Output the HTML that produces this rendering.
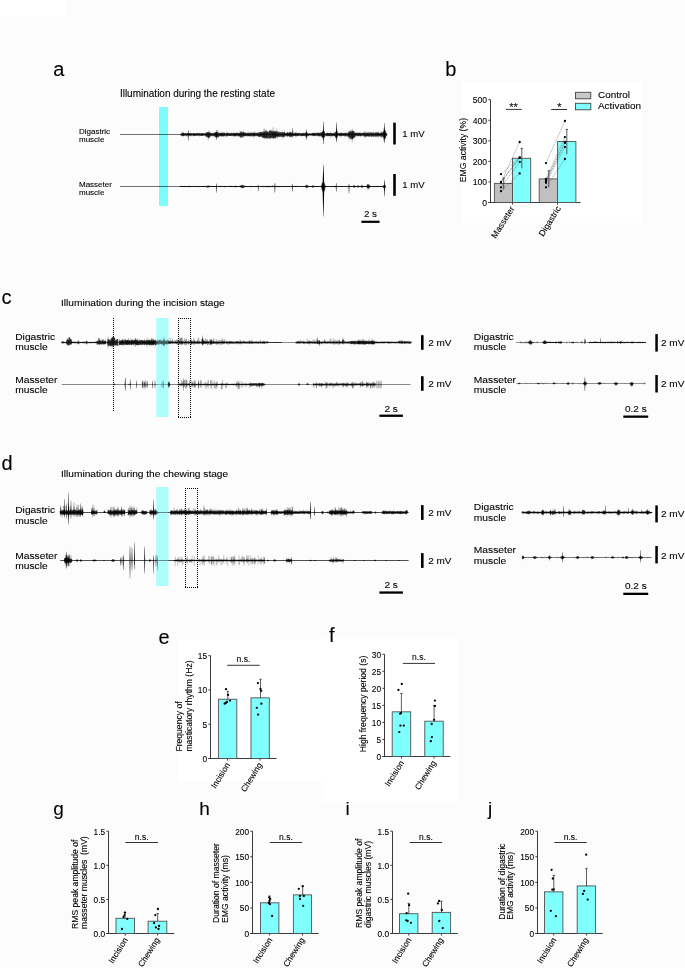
<!DOCTYPE html>
<html><head><meta charset="utf-8"><style>
html,body{margin:0;padding:0;background:#fcfcfc;}
svg{display:block;font-family:"Liberation Sans", sans-serif;}
text{stroke:#000;stroke-width:0.1px;paint-order:stroke;}
</style></head><body>
<svg width="685" height="968" viewBox="0 0 685 968">
<rect x="0" y="0" width="685" height="968" fill="#fcfcfc"/>
<rect x="0" y="0" width="66" height="16" fill="#ffffff"/>
<rect x="461.6" y="81.6" width="181" height="141.4" fill="#ffffff"/>
<rect x="177.8" y="639" width="146" height="143" fill="#ffffff"/>
<rect x="324" y="637.5" width="135" height="165" fill="#ffffff"/>
<text x="53.3" y="75.6" font-size="20" text-anchor="start" fill="#000" >a</text>
<text x="445.3" y="75.6" font-size="20" text-anchor="start" fill="#000" >b</text>
<text x="1.4" y="303.6" font-size="20" text-anchor="start" fill="#000" >c</text>
<text x="1.5" y="470.4" font-size="20" text-anchor="start" fill="#000" >d</text>
<text x="158.4" y="643.6" font-size="20" text-anchor="start" fill="#000" >e</text>
<text x="329" y="641.7" font-size="20" text-anchor="start" fill="#000" >f</text>
<text x="53.3" y="814.5" font-size="19" text-anchor="start" fill="#000" >g</text>
<text x="199.3" y="814.7" font-size="19" text-anchor="start" fill="#000" >h</text>
<text x="345.5" y="814.7" font-size="19" text-anchor="start" fill="#000" >i</text>
<text x="488" y="814.7" font-size="19" text-anchor="start" fill="#000" >j</text>
<text x="119.9" y="96.8" font-size="10" text-anchor="start" fill="#000" >Illumination during the resting state</text>
<text x="79" y="134" font-size="8" text-anchor="start" fill="#000" >Digastric</text>
<text x="79" y="142.3" font-size="8" text-anchor="start" fill="#000" >muscle</text>
<text x="79" y="187" font-size="8" text-anchor="start" fill="#000" >Masseter</text>
<text x="79" y="195.3" font-size="8" text-anchor="start" fill="#000" >muscle</text>
<line x1="120" y1="134.5" x2="387" y2="134.5" stroke="#111" stroke-width="0.6"/>
<path d="M180.58 133.84V135.04M182.50 131.84V136.26M183.78 132.84V136.17M185.71 133.36V136.63M186.02 132.54V135.77M186.69 132.70V135.76M187.64 132.76V136.97M188.29 133.14V136.98M189.60 133.24V135.83M189.87 132.73V135.87M190.22 132.92V136.56M190.87 132.91V136.82M193.61 132.99V136.89M193.92 133.06V136.34M195.25 133.23V136.09M196.63 133.16V135.82M197.31 132.57V135.76M199.11 132.20V136.92M199.38 133.13V135.84M201.62 132.54V136.13M202.00 132.92V136.17M203.20 133.14V136.21M208.20 131.69V140.58M208.80 130.85V139.39M209.16 131.34V137.64M209.52 130.27V138.67M211.06 132.05V136.43M213.07 132.62V136.63M215.18 132.05V136.68M215.49 132.17V138.46M215.76 132.06V137.93M217.26 129.73V137.67M217.96 129.81V138.90M218.64 131.62V137.19M220.10 132.38V136.40M221.39 132.66V136.67M221.66 131.80V136.93M222.30 131.53V136.39M223.35 132.44V136.78M224.35 132.84V137.02M225.98 132.66V137.44M227.38 131.98V137.22M233.71 132.85V137.81M236.72 132.44V136.51M239.36 132.35V136.59M240.03 130.15V138.33M241.01 131.26V137.73M243.26 130.05V137.61M243.56 131.70V137.87M245.76 132.47V136.72M248.61 131.24V137.66M249.64 132.41V136.21M249.98 132.76V136.65M250.63 131.67V136.31M251.67 132.47V136.45M252.97 131.41V136.46M253.33 132.60V137.82M253.99 132.46V136.71M254.32 132.55V136.23M254.92 131.17V137.38M257.61 132.08V136.47M260.10 131.82V137.33M260.40 131.82V137.12M262.00 131.61V137.62M262.98 130.82V137.79M263.99 128.79V139.13M264.27 128.36V139.56M264.64 129.27V138.18M266.19 129.58V139.02M271.10 129.15V138.53M272.43 127.42V138.51M273.08 130.63V139.89M273.77 127.45V138.52M275.99 131.13V138.95M276.26 128.26V138.10M277.22 129.54V137.48M277.85 131.63V138.58M282.08 130.56V138.41M282.73 131.94V139.49M284.30 129.77V137.95M286.56 132.49V136.53M287.22 132.27V136.73M287.49 132.64V136.36M287.84 131.98V136.68M288.10 132.30V137.14M289.60 130.71V136.79M290.18 132.16V138.00M290.45 132.08V136.88M292.06 131.25V138.04M293.01 132.27V137.47M293.63 132.48V135.97M295.63 131.42V136.12M295.92 132.78V137.28M296.22 131.44V136.91M298.08 132.81V136.16M301.98 132.58V137.51M303.64 131.99V136.12M304.32 133.09V135.92M304.67 132.85V136.31M305.25 133.11V136.46M305.63 132.37V136.22M306.23 132.15V138.86M307.48 132.92V137.60M308.45 133.26V135.79M308.73 133.38V136.61M311.76 133.40V135.73M317.24 132.42V136.99M322.59 130.90V138.29M327.30 132.19V136.13M330.13 132.84V137.65M330.85 131.27V137.74M333.44 132.38V136.27M334.35 131.69V136.23M335.04 131.29V136.52M336.75 129.28V140.92M339.77 132.85V136.26M340.44 131.89V136.16M342.88 132.87V136.12M344.61 132.50V137.36M344.96 132.77V136.19M345.58 132.88V136.20M345.93 132.22V136.54M346.29 132.79V136.56M346.95 132.81V136.72M348.13 130.74V138.26M349.12 131.52V141.52M349.38 131.16V138.83M350.37 130.55V139.42M351.95 129.73V140.81M352.22 128.18V143.17M352.48 129.61V140.33M354.34 130.74V139.05M356.04 132.11V136.95M356.68 132.25V136.83M357.95 132.88V136.28M358.27 131.64V136.21M359.20 132.41V136.74M360.44 131.76V137.03M362.08 132.88V136.82M363.00 133.41V135.91M363.34 133.18V136.17M363.99 131.20V136.87M364.61 130.69V138.33M365.52 131.77V138.13M366.40 130.88V136.87M367.48 132.52V136.48M368.37 131.47V136.67M371.69 131.88V137.52M375.22 132.18V137.80M377.06 132.50V137.98M377.70 130.68V136.58M378.41 132.15V137.37M378.70 130.84V136.52M380.59 131.25V136.63M381.23 132.37V137.87M381.53 132.42V138.17M381.90 130.78V137.74M382.25 131.58V137.42M383.58 128.12V141.14M384.12 127.55V141.58M385.67 131.23V139.36M385.96 132.01V136.97" stroke="#000" stroke-opacity="0.4" stroke-width="0.4"/>
<path d="M187.80 134.5L188.08 130.00L188.32 130.00L188.60 134.5L188.32 140.80L188.08 140.80ZM216.00 134.5L216.28 129.90L216.52 129.90L216.80 134.5L216.52 139.90L216.28 139.90ZM292.35 134.5L292.68 127.90L292.92 127.90L293.25 134.5L292.92 137.00L292.68 137.00ZM306.05 134.5L306.38 129.20L306.62 129.20L306.95 134.5L306.62 140.00L306.38 140.00ZM322.80 134.5L323.28 121.50L323.52 121.50L324.00 134.5L323.52 144.00L323.28 144.00ZM335.90 134.5L336.38 122.30L336.62 122.30L337.10 134.5L336.62 142.30L336.38 142.30ZM383.80 134.5L384.28 123.10L384.52 123.10L385.00 134.5L384.52 143.20L384.28 143.20Z" fill="#000"/>
<path d="M180.58 134.16V134.83M180.86 133.90V135.50M181.18 133.73V135.63M181.44 133.72V135.39M181.79 133.44V135.44M182.16 132.74V135.69M182.50 133.07V136.42M182.78 132.60V135.64M183.11 132.66V135.84M183.41 132.67V136.07M183.78 133.54V135.93M184.14 133.01V136.03M184.48 133.21V135.48M184.76 133.92V135.24M185.09 133.34V135.37M185.45 133.40V135.00M185.71 133.89V135.63M186.02 133.79V135.26M186.40 133.55V135.88M186.69 133.66V135.52M186.95 133.11V135.38M187.26 133.61V135.15M187.64 133.12V135.21M187.97 133.32V135.66M188.29 133.61V135.33M188.61 133.34V135.65M188.91 133.61V135.40M189.28 133.17V135.38M189.60 133.40V135.62M189.87 133.42V135.16M190.22 133.46V135.81M190.49 133.13V135.27M190.87 133.22V135.40M191.17 133.17V135.24M191.43 133.61V135.83M191.80 133.21V135.72M192.08 133.51V135.25M192.42 133.66V135.15M192.78 133.42V135.57M193.09 133.50V135.45M193.35 133.24V135.56M193.61 133.46V135.32M193.92 133.40V135.79M194.24 133.19V135.63M194.59 133.59V135.64M194.88 133.48V135.64M195.25 133.64V135.65M195.62 133.75V135.74M195.91 133.31V135.80M196.26 133.28V135.61M196.63 133.13V135.60M196.96 133.27V135.14M197.31 133.58V135.55M197.69 133.23V135.64M198.06 133.13V135.23M198.43 133.34V135.69M198.80 133.12V135.45M199.11 133.74V135.40M199.38 133.38V135.47M199.73 133.93V135.28M199.99 133.36V135.62M200.28 133.63V135.57M200.61 133.66V135.68M200.97 133.12V135.58M201.33 133.26V135.60M201.62 133.80V135.77M202.00 133.26V135.88M202.30 133.46V135.43M202.56 133.50V135.50M202.86 133.25V135.68M203.20 133.55V135.30M203.57 133.22V135.55M203.89 133.21V135.47M204.27 133.61V135.26M204.59 133.57V135.07M204.90 133.53V135.81M205.25 133.36V135.78M205.60 133.19V136.16M205.91 132.93V136.50M206.27 132.40V137.04M206.60 132.84V136.44M206.97 132.39V136.35M207.29 132.41V136.14M207.64 132.42V136.99M207.90 132.26V138.20M208.20 131.97V137.53M208.49 133.10V137.92M208.80 132.36V137.63M209.16 132.87V137.22M209.52 132.22V136.50M209.88 133.57V137.07M210.18 133.20V136.56M210.46 133.04V135.55M210.77 132.78V136.14M211.06 133.13V135.49M211.41 133.43V136.13M211.71 133.60V135.80M211.97 133.50V135.37M212.34 133.46V135.34M212.70 132.73V136.03M213.07 133.58V136.11M213.37 133.52V135.61M213.69 133.08V135.59M213.99 133.07V136.32M214.25 132.88V136.27M214.55 133.02V136.33M214.92 132.57V135.67M215.18 133.24V136.48M215.49 132.13V136.96M215.76 132.84V135.88M216.11 132.09V137.14M216.41 132.11V137.39M216.70 133.12V137.39M217.00 132.10V136.83M217.26 132.53V136.58M217.61 131.98V137.06M217.96 132.81V137.30M218.32 133.28V135.80M218.64 132.83V136.98M218.91 132.91V136.48M219.17 132.90V135.53M219.44 133.67V135.79M219.73 133.57V136.21M220.10 133.36V135.83M220.40 132.89V136.36M220.67 133.01V135.86M221.02 132.85V136.12M221.39 132.85V135.69M221.66 133.32V135.99M221.95 133.37V135.76M222.30 133.16V135.94M222.60 133.65V136.38M222.97 132.76V136.37M223.35 132.77V136.21M223.73 132.89V136.12M224.03 132.75V136.06M224.35 132.72V135.95M224.68 132.78V135.56M225.03 133.68V135.44M225.32 133.60V135.65M225.64 133.64V135.40M225.98 133.51V136.27M226.33 133.39V136.30M226.69 132.79V135.84M227.02 132.75V136.21M227.38 132.70V135.64M227.70 133.17V135.81M228.06 133.08V135.35M228.37 133.49V135.69M228.63 133.58V135.70M228.98 132.73V135.96M229.31 133.13V135.96M229.69 133.25V136.05M229.98 133.15V136.00M230.36 133.53V136.05M230.71 133.10V135.77M231.09 132.79V136.09M231.46 132.83V135.79M231.82 133.29V136.17M232.12 133.20V135.46M232.43 133.74V135.54M232.79 133.07V135.68M233.08 133.15V136.16M233.39 132.90V135.90M233.71 132.72V136.13M234.00 133.72V135.64M234.38 133.26V136.14M234.64 133.05V136.40M234.97 133.32V136.35M235.24 133.11V135.83M235.51 133.41V135.67M235.87 132.82V136.20M236.13 133.27V136.09M236.45 132.78V135.46M236.72 133.28V136.31M237.09 132.71V135.68M237.46 133.12V135.59M237.76 133.17V135.29M238.10 132.76V136.37M238.43 133.22V136.18M238.71 133.40V136.12M238.99 133.49V135.98M239.36 132.95V136.23M239.71 133.03V135.97M240.03 132.72V136.80M240.35 133.12V136.53M240.69 131.58V137.71M241.01 132.31V136.34M241.33 131.52V137.38M241.62 132.48V137.44M241.93 133.03V136.12M242.26 132.77V136.70M242.65 132.21V137.46M242.90 132.29V136.39M243.26 131.77V136.03M243.56 132.64V135.97M243.93 132.24V136.23M244.22 132.63V136.19M244.52 132.54V136.38M244.86 132.85V135.79M245.19 133.06V135.98M245.50 132.69V136.05M245.76 133.08V135.54M246.05 133.34V135.95M246.36 133.55V135.78M246.68 133.04V136.26M247.03 133.67V135.70M247.30 132.68V135.50M247.59 132.75V136.26M247.96 133.48V136.26M248.27 133.53V136.02M248.61 132.79V136.02M248.95 133.21V135.98M249.26 132.81V136.02M249.64 133.18V136.02M249.98 133.74V135.35M250.29 133.34V136.39M250.63 132.78V136.23M250.95 133.24V135.52M251.33 133.29V136.29M251.67 132.60V136.19M251.96 132.77V135.85M252.30 133.07V135.37M252.67 133.46V136.06M252.97 132.87V136.38M253.33 133.46V136.13M253.67 132.80V135.87M253.99 132.81V136.14M254.32 132.67V136.25M254.58 133.60V135.55M254.92 132.79V135.68M255.30 133.69V135.80M255.65 132.68V135.95M255.90 132.78V136.38M256.24 133.26V135.62M256.62 132.64V135.54M256.94 133.16V136.21M257.29 132.88V136.11M257.61 133.37V136.19M257.94 132.94V135.89M258.23 133.95V135.79M258.52 132.55V136.73M258.87 132.71V136.64M259.19 132.54V136.02M259.49 132.92V137.05M259.77 132.31V137.09M260.10 132.07V136.32M260.40 132.47V135.99M260.75 132.36V136.08M261.12 132.30V136.67M261.40 132.22V135.84M261.67 131.96V136.47M262.00 132.93V136.82M262.29 131.89V137.62M262.65 132.60V137.29M262.98 132.86V137.58M263.34 131.73V137.31M263.63 132.85V137.77M263.99 130.91V137.49M264.27 132.36V137.31M264.64 131.89V138.20M264.89 132.51V136.71M265.20 131.58V137.70M265.53 131.12V138.39M265.90 130.45V138.15M266.19 132.44V138.32M266.45 132.08V138.35M266.83 130.42V136.59M267.09 131.48V137.57M267.42 132.07V137.76M267.70 131.59V138.62M268.06 132.44V138.71M268.42 132.06V136.85M268.71 132.50V137.82M269.08 131.43V138.97M269.44 130.80V137.58M269.76 130.14V137.98M270.07 131.33V138.07M270.35 130.93V138.67M270.71 130.48V138.49M271.10 130.49V138.01M271.47 131.60V137.48M271.81 131.01V137.76M272.17 131.36V137.77M272.43 132.15V137.31M272.70 131.73V137.75M273.08 130.53V137.94M273.44 131.93V138.67M273.77 131.13V136.48M274.04 131.95V138.07M274.32 132.00V137.49M274.62 130.74V138.46M274.88 131.98V138.31M275.15 131.73V137.10M275.41 132.06V137.85M275.68 131.52V137.63M275.99 130.87V136.57M276.26 132.31V136.53M276.64 131.49V136.52M276.89 131.12V135.99M277.22 133.13V137.42M277.54 132.67V136.49M277.85 132.39V137.05M278.14 131.62V136.59M278.40 133.27V135.94M278.74 131.76V136.48M279.04 133.17V136.46M279.40 131.76V137.07M279.73 132.41V136.55M280.06 131.89V136.51M280.42 132.15V136.62M280.78 132.25V136.19M281.11 133.24V136.52M281.40 132.50V136.88M281.74 132.23V136.40M282.08 132.64V137.00M282.38 133.32V136.33M282.73 131.88V136.10M283.07 133.05V136.87M283.40 132.86V137.25M283.68 132.02V136.59M283.99 132.75V136.46M284.30 131.88V135.83M284.64 132.22V136.16M284.92 133.01V137.29M285.29 133.77V136.04M285.61 132.99V135.29M285.94 132.81V135.85M286.27 133.08V135.62M286.56 133.75V135.64M286.93 132.89V136.12M287.22 133.18V135.65M287.49 132.51V136.54M287.84 132.48V135.52M288.10 133.57V135.79M288.39 133.14V135.83M288.67 132.66V136.21M288.98 133.48V135.85M289.33 133.07V135.86M289.60 132.26V136.84M289.86 132.95V136.14M290.18 132.26V136.58M290.45 132.07V136.76M290.76 133.03V135.58M291.04 132.90V136.24M291.38 132.59V136.71M291.69 133.13V136.61M292.06 132.73V135.61M292.39 132.48V136.53M292.69 133.06V135.82M293.01 133.71V135.47M293.35 133.59V135.74M293.63 133.74V135.78M293.99 133.62V135.48M294.36 132.77V136.16M294.63 133.50V135.87M294.98 133.49V135.69M295.30 132.81V136.18M295.63 133.00V135.68M295.92 133.05V136.27M296.22 133.26V135.70M296.48 133.61V135.44M296.85 133.55V135.55M297.17 132.79V135.88M297.49 133.23V136.19M297.81 133.15V135.69M298.08 133.48V136.09M298.38 133.68V135.70M298.72 132.82V135.37M299.00 133.32V135.91M299.35 132.71V135.26M299.66 133.70V135.32M299.99 133.56V135.35M300.34 133.09V136.30M300.71 133.09V135.82M300.98 133.66V135.99M301.23 133.51V135.66M301.60 133.42V135.64M301.98 133.37V135.97M302.26 133.31V135.99M302.59 133.05V136.01M302.89 133.26V135.86M303.26 133.27V135.79M303.64 133.43V136.06M303.96 133.09V136.03M304.32 133.57V135.39M304.67 133.85V135.45M304.98 133.49V135.50M305.25 133.37V135.35M305.63 133.01V136.38M305.91 132.40V135.53M306.23 132.07V136.94M306.53 133.12V136.89M306.83 132.63V136.20M307.15 133.32V136.25M307.48 132.93V135.58M307.76 133.63V135.56M308.09 133.65V135.59M308.45 133.95V135.53M308.73 133.64V135.61M309.05 133.68V135.65M309.32 133.54V135.16M309.65 133.42V135.06M309.94 133.39V135.35M310.21 133.95V135.37M310.52 133.60V135.15M310.83 133.37V135.55M311.11 133.87V135.68M311.39 133.41V135.19M311.76 133.90V135.10M312.06 133.39V135.26M312.37 132.93V135.64M312.67 132.92V135.49M312.98 133.20V135.88M313.28 132.85V136.26M313.61 132.95V135.65M313.93 133.18V135.73M314.21 133.43V135.52M314.50 132.89V136.22M314.80 132.75V135.68M315.13 133.00V135.75M315.50 133.38V135.55M315.84 133.00V135.49M316.21 132.73V135.94M316.58 133.46V135.34M316.88 132.96V135.63M317.24 133.62V135.75M317.62 132.80V135.52M317.95 132.80V136.27M318.33 133.23V135.69M318.60 132.23V135.68M318.87 133.27V136.04M319.22 132.94V135.77M319.50 133.04V136.34M319.87 133.28V136.41M320.15 132.84V135.81M320.45 133.34V136.31M320.82 132.41V135.89M321.07 132.47V135.57M321.35 132.41V136.60M321.62 132.96V135.62M322.01 132.24V136.97M322.28 132.13V136.82M322.59 131.83V137.58M322.85 130.94V137.57M323.18 132.46V138.56M323.43 131.33V138.53M323.80 130.79V138.13M324.16 131.30V136.33M324.50 131.81V137.31M324.86 132.82V136.82M325.14 133.59V135.60M325.46 133.98V135.06M325.84 133.65V135.37M326.11 133.12V136.01M326.44 133.12V135.75M326.77 133.18V136.06M327.03 133.07V136.18M327.30 133.60V136.22M327.62 132.78V135.56M327.96 133.09V135.90M328.22 133.07V135.61M328.53 133.40V136.30M328.91 133.18V135.87M329.19 132.96V135.80M329.47 133.15V135.99M329.81 133.25V136.02M330.13 133.03V135.64M330.50 132.85V135.59M330.85 133.12V135.64M331.22 133.21V136.06M331.54 133.58V136.28M331.90 133.04V135.34M332.16 133.41V136.27M332.48 133.59V136.02M332.82 132.98V136.24M333.16 133.13V135.93M333.44 133.67V135.41M333.79 133.53V135.46M334.06 133.31V136.02M334.35 133.56V135.92M334.72 133.73V135.95M335.04 132.91V136.53M335.38 131.79V136.59M335.68 132.22V137.80M336.04 132.26V138.22M336.40 131.94V136.80M336.75 130.59V137.49M337.11 133.01V136.85M337.45 131.25V137.59M337.80 132.73V135.65M338.11 132.76V135.46M338.45 133.37V135.52M338.77 133.91V135.21M339.05 133.30V135.98M339.42 133.23V135.89M339.77 133.04V136.25M340.11 133.03V135.52M340.44 133.41V136.15M340.79 132.89V136.25M341.05 133.00V136.22M341.36 132.92V135.61M341.67 132.73V135.28M341.94 132.91V136.27M342.30 133.44V135.28M342.61 133.63V136.01M342.88 133.05V135.68M343.17 133.36V135.88M343.54 132.83V135.48M343.91 133.42V135.94M344.25 132.97V135.64M344.61 133.34V135.63M344.96 133.55V135.57M345.24 133.11V136.23M345.58 133.35V136.22M345.93 132.97V135.64M346.29 133.21V135.37M346.64 133.10V135.25M346.95 133.12V135.51M347.33 133.73V135.60M347.59 133.82V136.40M347.85 133.57V136.34M348.13 132.35V136.19M348.48 132.27V136.01M348.74 132.80V137.29M349.12 133.16V136.72M349.38 131.86V137.04M349.71 131.06V138.15M350.00 132.39V138.17M350.37 132.22V136.75M350.68 130.65V139.13M351.04 130.58V137.05M351.31 131.59V138.25M351.57 132.14V139.20M351.95 132.71V138.77M352.22 132.50V138.45M352.48 130.86V139.37M352.76 130.92V138.52M353.14 130.80V138.58M353.40 132.16V137.94M353.70 131.42V138.00M354.02 131.45V137.22M354.34 132.58V137.51M354.70 133.32V136.77M354.97 132.57V137.22M355.32 132.75V136.15M355.69 132.99V135.61M356.04 132.84V135.43M356.39 133.17V135.72M356.68 133.38V135.28M356.97 132.93V135.48M357.30 132.90V135.79M357.62 133.00V136.15M357.95 132.76V135.29M358.27 133.05V136.01M358.65 133.32V136.16M358.91 133.15V135.73M359.20 133.27V135.49M359.47 132.84V135.54M359.82 132.72V135.78M360.15 132.95V135.75M360.44 133.33V136.24M360.72 133.23V136.16M361.04 133.16V135.48M361.39 133.38V135.68M361.76 133.11V135.62M362.08 132.80V136.04M362.37 132.81V135.47M362.73 133.42V135.26M363.00 133.86V135.32M363.34 133.43V135.05M363.62 132.75V135.61M363.99 132.37V136.00M364.29 132.95V136.38M364.61 133.16V135.67M364.87 132.75V136.67M365.25 133.34V136.39M365.52 133.25V136.64M365.87 132.55V135.88M366.14 132.99V136.12M366.40 133.45V135.97M366.73 132.95V136.55M367.10 133.44V136.27M367.48 132.79V136.10M367.77 132.60V136.02M368.06 132.33V136.62M368.37 133.40V136.01M368.71 133.55V136.38M369.00 132.55V136.55M369.35 132.94V136.24M369.64 132.42V136.47M370.00 133.50V136.50M370.34 132.68V136.04M370.71 132.31V135.43M371.06 132.75V136.44M371.37 133.52V136.62M371.69 132.73V136.51M372.02 132.32V135.82M372.38 133.00V136.64M372.65 133.30V136.01M373.03 132.41V136.33M373.36 132.74V136.65M373.67 132.59V136.49M373.95 132.70V135.84M374.24 133.59V135.62M374.59 133.40V136.64M374.95 133.52V135.55M375.22 133.52V136.32M375.49 132.47V136.60M375.82 132.49V135.68M376.19 132.44V135.70M376.50 132.85V136.48M376.80 132.45V136.63M377.06 133.57V136.23M377.32 133.14V135.89M377.70 132.53V136.09M378.04 132.54V136.15M378.41 133.03V136.38M378.70 133.02V136.44M378.99 132.73V135.79M379.29 133.37V136.34M379.63 133.39V135.51M379.95 133.26V135.76M380.23 133.05V136.56M380.59 133.35V136.45M380.87 132.95V135.66M381.23 132.67V136.48M381.53 132.57V136.22M381.90 132.75V135.43M382.25 133.17V136.60M382.55 132.50V135.73M382.93 132.70V136.29M383.23 131.66V137.53M383.58 131.86V137.35M383.86 131.07V137.59M384.12 130.58V139.30M384.45 129.87V138.01M384.71 131.89V138.38M385.03 130.06V137.90M385.39 130.66V138.30M385.67 132.39V137.09M385.96 132.45V136.07M386.25 133.57V135.91M386.57 133.77V135.25M386.87 133.86V135.32" stroke="#000" stroke-width="0.5"/>
<line x1="120" y1="186.5" x2="386" y2="186.5" stroke="#111" stroke-width="0.6"/>
<path d="M180.36 186.05V187.24M180.95 185.84V186.95M181.25 185.96V187.03M181.57 186.01V187.01M181.94 185.90V187.02M182.26 186.04V186.95M184.75 185.97V186.95M185.63 185.92V187.36M188.19 185.88V187.02M188.53 185.95V187.18M188.90 185.65V187.19M189.23 185.75V187.21M189.51 185.76V186.96M190.16 186.05V187.06M191.13 185.80V187.23M194.53 185.75V187.01M195.78 185.84V187.01M198.52 186.05V187.01M199.44 186.00V187.34M200.02 186.02V187.12M200.32 186.04V187.28M202.59 185.65V187.16M203.22 186.04V187.15M203.49 185.69V186.98M204.40 185.94V186.96M204.67 186.03V187.01M205.32 185.75V187.13M206.97 185.64V187.61M207.99 185.59V187.76M208.68 185.12V187.73M210.81 185.95V186.97M211.12 185.89V187.28M212.05 186.01V187.00M213.50 186.01V187.37M214.21 186.03V186.95M216.39 186.05V187.05M216.99 185.91V186.95M217.98 185.77V187.01M221.19 185.98V187.06M221.81 185.97V187.05M222.76 185.99V186.95M227.04 185.85V187.14M229.53 185.94V187.18M231.12 185.73V187.38M232.33 185.83V187.33M232.69 186.03V187.17M232.95 186.03V187.02M234.85 185.81V187.10M235.19 185.51V187.93M235.82 185.67V186.95M236.77 185.91V186.95M237.72 185.87V187.37M241.96 185.00V188.10M242.59 183.75V189.17M242.95 184.98V188.14M246.01 186.03V187.25M246.72 186.05V187.25M249.55 185.99V187.38M249.86 186.00V187.03M250.15 185.83V186.99M250.85 185.99V187.38M251.56 186.05V186.97M252.17 185.90V187.34M253.25 186.02V186.98M254.81 186.03V186.99M256.57 185.87V186.96M256.89 186.03V187.01M257.82 186.04V186.99M258.18 185.73V186.95M265.62 185.87V186.95M266.80 186.02V187.25M267.49 185.98V187.08M267.83 185.95V187.26M268.11 185.58V187.22M269.05 185.90V187.36M269.40 185.89V186.97M272.01 186.04V187.14M272.59 185.35V187.36M274.75 185.94V187.08M275.34 185.75V187.37M275.68 185.85V187.24M276.34 185.77V187.10M276.95 186.01V186.98M277.64 185.92V187.25M279.14 186.05V186.97M279.52 186.03V187.35M280.75 185.97V187.08M283.08 185.92V187.19M283.46 186.05V187.09M284.73 185.85V187.04M287.15 185.97V187.03M290.71 186.05V187.03M291.37 185.78V186.99M291.92 185.81V187.21M292.53 185.84V187.04M293.43 185.98V187.12M295.10 185.75V187.03M295.37 185.67V187.01M295.71 186.02V186.96M295.97 185.70V186.99M296.25 185.94V187.04M297.09 185.67V186.99M299.72 185.78V187.14M306.18 184.48V188.24M306.48 184.70V189.10M309.92 185.90V186.96M310.59 185.91V187.20M311.54 185.79V187.10M313.12 184.57V187.96M314.49 185.90V187.02M314.83 186.01V187.03M316.18 185.84V186.96M317.05 185.73V187.20M318.70 185.96V187.01M320.35 185.95V187.18M320.97 185.97V187.39M321.95 183.53V189.59M322.74 182.07V191.57M323.32 182.00V192.70M324.69 183.23V191.28M328.03 186.05V187.18M331.74 185.93V187.34M332.36 185.90V186.95M333.29 185.68V186.98M334.94 185.98V187.30M335.26 185.95V187.32M335.62 186.04V187.38M339.60 186.04V187.31M341.51 185.73V186.96M348.39 186.00V187.02M349.68 185.95V186.97M351.00 185.86V187.01M351.67 186.04V187.02M351.97 186.01V187.25M353.25 185.81V187.18M354.52 185.45V187.65M354.89 185.68V187.53M356.66 186.02V187.28M356.98 186.02V186.95M357.27 185.81V187.15M357.65 185.62V187.34M358.03 185.41V187.94M358.35 185.37V187.62M358.73 185.67V187.41M359.60 185.99V186.95M360.96 185.66V187.06M361.59 184.56V187.49M363.22 186.05V187.06M363.54 186.03V187.22M364.48 185.67V186.97M365.68 186.05V186.95M366.28 185.96V186.95M367.27 184.46V189.46M368.13 184.25V190.39M370.64 185.87V186.95M371.58 185.78V186.98M373.19 186.04V187.20M374.16 185.79V187.36M374.82 186.04V186.97M376.57 185.90V187.14M377.20 185.79V187.04M377.51 185.65V187.33M378.43 185.83V187.12M380.05 186.05V186.96M381.91 185.78V187.25M382.28 186.05V187.06M382.66 185.78V187.01M383.64 185.08V188.23M385.71 185.65V187.36" stroke="#000" stroke-opacity="0.4" stroke-width="0.4"/>
<path d="M216.00 186.5L216.28 183.50L216.52 183.50L216.80 186.5L216.52 192.80L216.28 192.80ZM257.80 186.5L258.08 184.70L258.32 184.70L258.60 186.5L258.32 191.30L258.08 191.30ZM274.45 186.5L274.78 183.10L275.02 183.10L275.35 186.5L275.02 192.70L274.78 192.70ZM292.10 186.5L292.38 183.70L292.62 183.70L292.90 186.5L292.62 191.70L292.38 191.70ZM322.50 186.5L323.28 164.50L323.52 164.50L324.30 186.5L323.52 216.50L323.28 216.50ZM335.80 186.5L336.08 182.90L336.32 182.90L336.60 186.5L336.32 191.70L336.08 191.70ZM348.55 186.5L348.88 183.70L349.12 183.70L349.45 186.5L349.12 193.50L348.88 193.50ZM383.85 186.5L384.28 179.70L384.52 179.70L384.95 186.5L384.52 196.50L384.28 196.50Z" fill="#000"/>
<path d="M180.09 186.15V186.88M180.36 186.15V186.88M180.66 186.12V186.98M180.95 186.00V186.84M181.25 186.04V186.92M181.57 186.21V186.90M181.94 186.26V186.94M182.26 186.06V186.84M182.62 186.09V186.99M182.88 186.09V186.95M183.20 186.17V186.86M183.49 186.12V186.87M183.85 186.02V186.96M184.14 186.13V186.80M184.48 186.02V186.90M184.75 186.17V187.00M185.01 186.03V187.00M185.29 186.19V186.79M185.63 186.14V186.88M185.98 186.25V186.88M186.27 186.03V186.86M186.58 186.00V186.95M186.85 186.14V186.72M187.22 186.22V186.88M187.53 186.07V186.98M187.85 186.01V186.82M188.19 186.06V186.96M188.53 186.01V186.91M188.90 186.09V186.95M189.23 186.02V186.97M189.51 186.06V186.90M189.85 186.15V186.80M190.16 186.22V186.99M190.53 186.09V186.94M190.87 186.17V186.80M191.13 186.26V186.94M191.43 186.08V186.95M191.71 186.23V186.84M192.00 186.29V186.89M192.30 186.12V186.84M192.67 186.18V186.91M193.00 186.02V186.74M193.29 186.09V186.95M193.60 186.04V186.74M193.90 186.12V186.96M194.24 186.18V186.79M194.53 186.19V186.99M194.83 186.18V186.74M195.11 186.14V186.81M195.48 186.14V186.91M195.78 186.25V186.80M196.08 186.05V186.79M196.42 186.16V186.96M196.79 186.02V186.87M197.16 186.06V186.94M197.54 186.06V186.99M197.87 186.08V186.83M198.15 186.01V186.83M198.52 186.22V186.99M198.83 186.02V186.97M199.14 186.12V186.79M199.44 186.19V186.91M199.71 186.24V186.78M200.02 186.20V186.83M200.32 186.16V186.94M200.63 186.05V186.76M201.00 186.17V186.94M201.30 186.00V186.84M201.64 186.18V186.96M201.97 186.12V187.00M202.33 186.14V186.85M202.59 186.25V187.00M202.97 186.26V186.82M203.22 186.25V186.83M203.49 186.01V186.91M203.81 186.11V186.76M204.07 186.22V186.98M204.40 186.08V186.97M204.67 186.25V186.79M205.00 186.03V186.98M205.32 186.02V186.77M205.61 186.16V186.81M205.92 186.08V187.05M206.25 185.97V186.95M206.63 186.00V187.22M206.97 186.10V187.21M207.31 185.71V187.35M207.62 186.05V187.38M207.99 185.71V186.94M208.31 185.96V187.45M208.68 185.84V187.07M208.97 185.69V187.16M209.28 185.85V187.04M209.56 185.94V186.90M209.84 186.15V186.91M210.16 186.02V186.78M210.51 186.05V186.86M210.81 186.14V186.80M211.12 186.11V186.82M211.41 186.10V186.91M211.75 186.18V186.79M212.05 186.29V186.97M212.33 186.07V186.83M212.64 186.04V186.71M212.92 186.23V186.90M213.18 186.10V186.98M213.50 186.05V186.98M213.87 186.22V186.93M214.21 186.07V186.88M214.55 186.24V186.91M214.86 186.01V186.84M215.16 186.21V186.79M215.52 186.26V186.99M215.79 186.07V186.84M216.06 186.12V186.88M216.39 186.07V186.93M216.66 186.24V186.82M216.99 186.09V186.99M217.34 186.15V186.76M217.68 186.14V186.99M217.98 186.02V186.90M218.35 186.09V186.95M218.67 186.01V186.72M219.04 186.29V186.92M219.39 186.03V186.74M219.72 186.15V186.85M220.00 186.23V186.97M220.36 185.70V187.10M220.62 186.03V187.20M220.93 186.02V186.75M221.19 186.21V186.78M221.48 186.09V186.73M221.81 186.15V186.98M222.11 186.01V186.89M222.42 186.15V186.99M222.76 186.23V186.90M223.11 186.01V186.91M223.40 186.14V186.86M223.69 186.21V186.94M224.05 186.09V186.72M224.41 185.90V186.97M224.76 185.93V187.32M225.12 186.01V187.07M225.44 186.14V186.99M225.75 186.13V186.98M226.09 186.01V186.75M226.43 186.14V186.99M226.74 186.10V186.94M227.04 186.05V186.83M227.35 186.13V187.00M227.65 186.02V186.89M227.99 186.05V186.97M228.33 186.16V186.72M228.60 186.01V186.83M228.95 186.22V186.96M229.22 186.10V186.84M229.53 186.25V186.71M229.80 186.18V186.87M230.18 185.77V187.14M230.46 185.74V187.01M230.82 186.05V187.00M231.12 186.13V186.89M231.39 186.20V186.95M231.68 186.10V186.80M232.01 186.12V186.77M232.33 186.17V186.78M232.69 186.10V186.95M232.95 186.26V186.95M233.31 186.29V186.97M233.64 186.14V186.76M233.92 186.05V186.97M234.30 186.27V186.76M234.56 186.05V186.88M234.85 186.22V187.12M235.19 185.79V187.06M235.46 186.07V187.10M235.82 186.09V186.96M236.09 186.25V186.94M236.47 186.01V186.99M236.77 186.01V186.93M237.03 186.09V186.93M237.38 186.24V186.94M237.72 186.13V186.81M237.99 186.04V186.98M238.36 186.23V186.81M238.72 186.12V186.74M239.05 186.05V186.79M239.32 186.22V186.85M239.66 185.87V186.95M240.00 185.90V187.00M240.34 186.01V187.43M240.65 185.40V187.22M240.98 185.19V187.16M241.32 185.69V187.73M241.67 185.32V187.49M241.96 185.36V187.60M242.26 185.25V187.90M242.59 185.46V187.43M242.95 185.66V187.32M243.21 185.45V187.76M243.49 185.93V187.77M243.79 185.80V187.30M244.07 185.80V187.40M244.37 185.77V187.27M244.72 185.67V186.96M245.02 186.00V186.98M245.32 186.26V186.71M245.68 186.14V186.74M246.01 186.14V186.91M246.36 186.00V186.85M246.72 186.13V186.97M247.00 186.12V186.93M247.28 186.05V186.72M247.65 186.12V186.82M248.00 186.05V186.97M248.33 186.04V186.87M248.62 186.20V186.72M248.93 186.02V186.73M249.21 186.18V186.81M249.55 186.14V186.78M249.86 186.08V186.97M250.15 186.16V186.92M250.49 186.23V186.95M250.85 186.01V186.89M251.19 186.06V186.87M251.56 186.10V186.90M251.91 186.04V186.94M252.17 186.28V186.80M252.54 186.25V186.92M252.88 186.15V186.79M253.25 186.07V186.88M253.54 186.21V186.92M253.82 186.02V186.70M254.15 186.09V186.81M254.52 186.22V186.76M254.81 186.25V186.87M255.07 186.04V186.89M255.37 186.06V186.99M255.63 186.18V186.74M255.97 186.10V186.83M256.30 186.00V186.85M256.57 186.12V186.91M256.89 186.10V186.87M257.23 186.15V186.78M257.52 186.24V186.90M257.82 186.30V186.98M258.18 186.02V186.94M258.45 186.25V186.89M258.78 186.01V186.94M259.06 186.02V186.98M259.33 186.07V186.88M259.62 186.06V186.95M259.91 186.07V186.74M260.17 186.29V186.75M260.56 186.14V186.91M260.92 186.01V186.96M261.18 186.03V186.81M261.55 186.05V186.97M261.91 185.79V187.26M262.25 186.03V186.84M262.54 186.03V186.86M262.88 186.18V186.95M263.19 186.07V186.92M263.55 185.94V186.93M263.92 186.05V187.31M264.23 186.18V186.89M264.60 186.00V186.94M264.96 186.23V186.92M265.31 186.19V186.93M265.62 186.07V186.92M265.91 185.78V187.25M266.26 186.04V187.11M266.53 186.13V186.91M266.80 186.19V186.70M267.17 186.21V186.87M267.49 186.01V186.99M267.83 186.12V186.96M268.11 186.07V187.13M268.39 185.91V187.31M268.72 186.07V186.87M269.05 186.09V186.73M269.40 186.27V186.95M269.66 186.06V186.87M270.01 186.10V186.85M270.33 186.01V186.99M270.63 185.77V187.22M270.99 186.18V186.70M271.34 186.06V186.98M271.65 186.10V186.97M272.01 186.01V186.80M272.29 185.97V186.77M272.59 185.66V187.07M272.97 185.86V186.92M273.29 186.06V186.80M273.62 186.10V186.89M273.92 186.16V187.00M274.19 186.16V186.94M274.46 186.15V186.86M274.75 186.02V186.95M275.08 186.03V186.78M275.34 186.04V186.80M275.68 186.05V186.84M275.97 186.16V186.81M276.34 186.29V186.71M276.69 186.08V186.97M276.95 186.25V186.85M277.33 186.01V186.92M277.64 186.26V186.86M277.95 186.07V186.95M278.26 186.21V186.97M278.55 186.08V186.97M278.85 186.20V186.80M279.14 186.02V186.91M279.52 186.17V186.95M279.78 186.13V186.88M280.14 186.04V186.79M280.45 186.13V186.91M280.75 186.01V186.86M281.03 186.03V186.90M281.33 186.24V186.81M281.67 186.08V186.72M282.01 186.08V186.88M282.39 186.11V186.85M282.75 186.08V186.94M283.08 186.21V186.89M283.46 186.13V186.97M283.76 186.16V186.90M284.12 186.18V186.89M284.47 186.10V186.86M284.73 186.05V186.77M285.03 186.26V186.73M285.29 186.08V186.78M285.60 186.07V186.96M285.89 186.24V186.89M286.24 186.21V186.92M286.53 186.22V186.94M286.85 186.04V186.72M287.15 186.20V186.96M287.43 186.18V186.70M287.76 186.00V186.99M288.14 186.25V186.77M288.49 186.10V186.72M288.80 186.16V186.94M289.07 186.14V186.92M289.41 186.01V186.94M289.77 186.10V186.90M290.13 186.07V186.86M290.44 186.06V186.98M290.71 186.02V186.79M291.02 186.04V186.77M291.37 186.28V186.85M291.65 186.25V186.79M291.92 186.28V186.80M292.24 186.18V186.72M292.53 186.11V187.00M292.85 186.15V186.93M293.11 186.04V186.80M293.43 186.10V186.94M293.75 186.20V186.95M294.09 186.12V186.77M294.44 186.18V186.85M294.74 186.10V186.81M295.10 186.18V186.73M295.37 186.27V186.95M295.71 186.17V186.91M295.97 186.11V187.00M296.25 186.28V186.83M296.53 186.03V186.89M296.81 186.07V186.92M297.09 186.01V186.86M297.46 186.21V186.74M297.79 186.08V186.91M298.14 186.12V186.76M298.45 186.12V186.77M298.74 186.08V186.71M299.04 186.03V186.76M299.40 186.15V186.99M299.72 186.18V186.81M300.08 186.13V186.78M300.46 186.11V186.80M300.83 186.04V186.91M301.09 186.24V186.71M301.40 186.29V186.96M301.75 186.01V186.94M302.09 186.12V186.94M302.39 186.05V186.77M302.76 186.21V186.97M303.11 186.23V186.73M303.44 186.03V186.89M303.75 186.13V186.93M304.05 186.08V186.83M304.31 186.15V186.90M304.62 186.06V186.86M304.95 186.01V186.82M305.30 186.19V186.95M305.58 185.88V187.13M305.87 185.40V187.32M306.18 185.48V187.32M306.48 185.50V187.63M306.82 185.41V187.27M307.15 185.27V187.86M307.42 185.20V187.51M307.75 185.47V187.36M308.09 185.79V187.14M308.40 186.22V186.78M308.73 186.08V186.86M309.03 186.29V186.88M309.32 186.06V186.78M309.63 186.01V186.90M309.92 186.03V187.00M310.29 186.03V186.98M310.59 186.09V186.73M310.88 186.29V186.73M311.19 186.02V186.92M311.54 186.07V186.94M311.88 186.13V186.86M312.24 186.19V187.01M312.50 185.71V187.33M312.81 185.73V187.21M313.12 185.39V187.61M313.43 185.97V187.27M313.79 186.03V186.84M314.12 186.16V186.71M314.49 186.13V186.98M314.83 186.17V186.93M315.14 186.15V186.99M315.47 186.24V186.88M315.82 186.01V186.90M316.18 186.00V186.99M316.47 186.05V186.97M316.77 186.13V186.82M317.05 186.01V186.98M317.40 186.20V186.88M317.75 186.02V186.73M318.05 186.15V187.00M318.41 186.09V186.94M318.70 186.09V187.00M319.06 186.14V186.76M319.40 186.12V186.72M319.69 186.28V186.91M320.03 186.26V186.71M320.35 186.29V186.89M320.63 186.15V186.93M320.97 186.27V186.93M321.32 186.20V187.09M321.64 185.38V187.69M321.95 184.89V189.56M322.21 182.99V189.63M322.48 183.74V188.79M322.74 182.08V191.86M323.00 182.97V190.90M323.32 183.76V190.72M323.68 184.14V192.33M324.06 182.88V189.96M324.34 183.40V191.01M324.69 184.69V190.16M325.07 185.41V188.08M325.35 185.78V187.20M325.71 186.16V187.00M326.01 186.26V186.93M326.30 186.29V186.81M326.64 186.08V186.92M327.01 186.14V186.98M327.35 186.03V187.00M327.73 186.15V186.82M328.03 186.03V186.82M328.41 186.15V186.77M328.77 186.15V186.86M329.10 186.08V186.98M329.48 186.10V186.86M329.76 186.11V186.98M330.13 186.12V186.91M330.42 186.01V186.95M330.75 186.01V186.71M331.12 186.27V186.93M331.40 186.27V186.81M331.74 186.05V186.90M332.03 186.08V186.79M332.36 186.04V186.88M332.71 186.11V186.82M333.01 186.13V186.90M333.29 186.01V186.96M333.65 186.21V186.97M333.98 186.08V186.94M334.28 186.06V186.98M334.64 186.17V186.86M334.94 186.05V186.95M335.26 186.28V186.95M335.62 186.06V186.71M335.90 186.23V186.93M336.25 186.12V186.97M336.51 186.04V186.71M336.84 186.09V186.80M337.14 186.11V186.73M337.51 186.10V186.95M337.83 186.04V186.78M338.19 186.06V186.98M338.53 186.09V186.79M338.89 186.21V186.84M339.24 186.26V186.76M339.60 186.15V186.77M339.87 186.04V186.78M340.15 186.07V186.94M340.44 186.13V186.80M340.75 186.11V186.82M341.12 186.03V186.96M341.51 186.29V186.81M341.86 186.22V186.78M342.23 186.20V186.78M342.52 186.11V186.87M342.84 186.21V186.76M343.13 186.20V186.89M343.43 186.18V186.83M343.80 186.11V186.89M344.10 186.14V186.95M344.46 186.21V186.98M344.76 186.14V186.75M345.14 186.25V186.99M345.43 186.12V186.75M345.78 186.19V186.94M346.13 186.07V186.89M346.42 186.25V186.88M346.78 186.25V186.74M347.11 186.06V186.91M347.37 186.08V186.75M347.71 186.02V186.86M348.05 186.25V186.96M348.39 186.26V186.81M348.77 186.14V186.89M349.07 186.26V186.92M349.36 186.06V186.71M349.68 186.04V186.87M350.01 186.29V186.92M350.34 186.17V186.92M350.72 186.02V186.85M351.00 186.02V186.92M351.34 186.25V186.83M351.67 186.13V186.92M351.97 186.14V186.89M352.32 186.09V186.73M352.59 186.21V186.80M352.89 186.18V186.75M353.25 186.01V187.03M353.61 185.47V187.31M353.92 185.30V187.33M354.27 185.69V187.73M354.52 185.78V187.41M354.89 186.24V187.02M355.23 186.29V186.81M355.60 186.15V186.80M355.95 186.00V186.90M356.32 186.22V186.72M356.66 186.03V186.96M356.98 186.05V186.98M357.27 186.08V187.09M357.65 185.73V187.14M358.03 185.76V187.15M358.35 185.77V187.29M358.73 186.07V186.86M359.02 186.04V186.98M359.29 186.02V186.80M359.60 186.13V186.86M359.92 186.25V186.90M360.29 186.04V186.90M360.60 186.05V186.90M360.96 186.08V186.98M361.29 186.04V187.00M361.59 186.05V187.21M361.94 185.23V187.94M362.29 185.52V187.65M362.61 185.62V187.20M362.90 186.01V186.97M363.22 186.15V186.97M363.54 186.28V186.86M363.80 186.21V186.87M364.16 186.12V186.88M364.48 186.05V186.86M364.81 186.08V186.87M365.07 186.14V186.74M365.39 186.26V186.83M365.68 186.01V186.81M365.99 186.28V186.86M366.28 186.07V186.88M366.59 186.16V186.84M366.89 185.80V187.18M367.27 184.69V187.67M367.56 184.35V188.01M367.83 185.04V188.30M368.13 184.36V188.34M368.41 184.79V188.61M368.73 184.41V188.42M369.05 185.26V188.15M369.32 185.04V187.83M369.64 185.58V187.42M369.94 185.90V186.83M370.30 186.13V186.92M370.64 186.01V186.97M370.98 186.02V186.93M371.31 186.06V186.79M371.58 186.24V186.95M371.94 186.01V186.72M372.28 186.14V186.71M372.63 186.12V186.77M372.89 186.23V186.83M373.19 186.20V186.98M373.49 186.03V186.96M373.83 186.16V186.94M374.16 186.16V186.98M374.45 186.09V186.75M374.82 186.26V186.78M375.20 186.10V186.88M375.54 186.01V186.83M375.91 186.18V186.98M376.23 186.16V186.75M376.57 186.04V186.89M376.91 186.20V186.73M377.20 186.04V186.97M377.51 186.14V186.97M377.82 186.01V186.95M378.15 186.07V186.89M378.43 186.15V186.80M378.72 186.05V186.93M379.05 186.18V186.91M379.37 186.05V186.87M379.73 186.14V186.84M380.05 186.26V186.96M380.35 186.18V186.90M380.64 186.13V186.87M380.94 186.12V187.00M381.29 186.15V186.93M381.64 186.00V186.93M381.91 186.08V186.92M382.28 186.15V186.78M382.66 186.16V186.88M382.95 186.05V186.92M383.30 186.09V187.31M383.64 185.66V187.63M383.97 185.15V188.26M384.35 185.20V188.89M384.71 185.39V187.96M385.04 185.54V188.14M385.33 185.74V187.22M385.71 186.07V186.93" stroke="#000" stroke-width="0.5"/>
<rect x="159" y="107" width="9" height="99" fill="#80ffff" style="mix-blend-mode:multiply"/>
<rect x="393.2" y="122.7" width="2.6" height="21.8" fill="#000"/>
<rect x="393.2" y="174" width="2.6" height="21.8" fill="#000"/>
<text x="402.3" y="137.2" font-size="9.6" text-anchor="start" fill="#000" >1 mV</text>
<text x="402.3" y="188" font-size="9.6" text-anchor="start" fill="#000" >1 mV</text>
<rect x="361.4" y="220.7" width="18.2" height="2.2" fill="#000"/>
<text x="370.5" y="216.8" font-size="9.8" text-anchor="middle" fill="#000" >2 s</text>
<line x1="490.5" y1="99.7" x2="490.5" y2="202.5" stroke="#3a3a3a" stroke-width="1"/>
<line x1="488.3" y1="202.5" x2="490.5" y2="202.5" stroke="#3a3a3a" stroke-width="1"/>
<text x="487.1" y="205.94" font-size="8.6" text-anchor="end" fill="#000" >0</text>
<line x1="488.3" y1="181.94" x2="490.5" y2="181.94" stroke="#3a3a3a" stroke-width="1"/>
<text x="487.1" y="185.38" font-size="8.6" text-anchor="end" fill="#000" >100</text>
<line x1="488.3" y1="161.38" x2="490.5" y2="161.38" stroke="#3a3a3a" stroke-width="1"/>
<text x="487.1" y="164.82" font-size="8.6" text-anchor="end" fill="#000" >200</text>
<line x1="488.3" y1="140.82" x2="490.5" y2="140.82" stroke="#3a3a3a" stroke-width="1"/>
<text x="487.1" y="144.26" font-size="8.6" text-anchor="end" fill="#000" >300</text>
<line x1="488.3" y1="120.25999999999999" x2="490.5" y2="120.25999999999999" stroke="#3a3a3a" stroke-width="1"/>
<text x="487.1" y="123.69999999999999" font-size="8.6" text-anchor="end" fill="#000" >400</text>
<line x1="488.3" y1="99.7" x2="490.5" y2="99.7" stroke="#3a3a3a" stroke-width="1"/>
<text x="487.1" y="103.14" font-size="8.6" text-anchor="end" fill="#000" >500</text>
<line x1="488.3" y1="202.5" x2="580.5" y2="202.5" stroke="#3a3a3a" stroke-width="1"/>
<line x1="512.5" y1="202.5" x2="512.5" y2="204.5" stroke="#3a3a3a" stroke-width="1"/>
<line x1="557.5" y1="202.5" x2="557.5" y2="204.5" stroke="#3a3a3a" stroke-width="1"/>
<rect x="494.4" y="183.4" width="18.100000000000023" height="19.099999999999994" fill="#c0c0c0" stroke="#505050" stroke-width="0.9"/>
<rect x="512.5" y="158.3" width="18.200000000000045" height="44.19999999999999" fill="#80ffff" stroke="#505050" stroke-width="0.9"/>
<rect x="539.2" y="178.9" width="18.399999999999977" height="23.599999999999994" fill="#c0c0c0" stroke="#505050" stroke-width="0.9"/>
<rect x="557.6" y="141.5" width="18.299999999999955" height="61.0" fill="#80ffff" stroke="#505050" stroke-width="0.9"/>
<line x1="501" y1="174.2" x2="519.7" y2="157.4" stroke="#444" stroke-width="0.45" stroke-dasharray="1.2 0.8"/>
<line x1="501" y1="182" x2="519.7" y2="142" stroke="#444" stroke-width="0.45" stroke-dasharray="1.2 0.8"/>
<line x1="501" y1="182.6" x2="519.7" y2="157.7" stroke="#444" stroke-width="0.45" stroke-dasharray="1.2 0.8"/>
<line x1="501" y1="187.3" x2="519.7" y2="161.9" stroke="#444" stroke-width="0.45" stroke-dasharray="1.2 0.8"/>
<line x1="501" y1="191.2" x2="519.7" y2="173.4" stroke="#444" stroke-width="0.45" stroke-dasharray="1.2 0.8"/>
<line x1="501" y1="181.5" x2="519.7" y2="157.6" stroke="#444" stroke-width="0.45" stroke-dasharray="1.2 0.8"/>
<line x1="546" y1="163.1" x2="564.9" y2="121" stroke="#444" stroke-width="0.45" stroke-dasharray="1.2 0.8"/>
<line x1="546" y1="178.9" x2="564.9" y2="137.1" stroke="#444" stroke-width="0.45" stroke-dasharray="1.2 0.8"/>
<line x1="546" y1="180" x2="564.9" y2="142" stroke="#444" stroke-width="0.45" stroke-dasharray="1.2 0.8"/>
<line x1="546" y1="181.4" x2="564.9" y2="142.9" stroke="#444" stroke-width="0.45" stroke-dasharray="1.2 0.8"/>
<line x1="546" y1="182.8" x2="564.9" y2="147.1" stroke="#444" stroke-width="0.45" stroke-dasharray="1.2 0.8"/>
<line x1="546" y1="187.3" x2="564.9" y2="159" stroke="#444" stroke-width="0.45" stroke-dasharray="1.2 0.8"/>
<line x1="503.7" y1="178.2" x2="503.7" y2="189.5" stroke="#333" stroke-width="0.8"/>
<line x1="502.5" y1="178.2" x2="504.9" y2="178.2" stroke="#333" stroke-width="0.8"/>
<line x1="521.8" y1="148.4" x2="521.8" y2="168.3" stroke="#333" stroke-width="0.8"/>
<line x1="520.5999999999999" y1="148.4" x2="523.0" y2="148.4" stroke="#333" stroke-width="0.8"/>
<line x1="548.8" y1="170.8" x2="548.8" y2="187.3" stroke="#333" stroke-width="0.8"/>
<line x1="547.5999999999999" y1="170.8" x2="550.0" y2="170.8" stroke="#333" stroke-width="0.8"/>
<line x1="566.8" y1="129.4" x2="566.8" y2="154.2" stroke="#333" stroke-width="0.8"/>
<line x1="565.5999999999999" y1="129.4" x2="568.0" y2="129.4" stroke="#333" stroke-width="0.8"/>
<circle cx="501" cy="174.2" r="1.15" fill="#000"/>
<circle cx="501" cy="182" r="1.15" fill="#000"/>
<circle cx="501" cy="182.6" r="1.15" fill="#000"/>
<circle cx="501" cy="187.3" r="1.15" fill="#000"/>
<circle cx="501" cy="191.2" r="1.15" fill="#000"/>
<circle cx="519.7" cy="142" r="1.15" fill="#000"/>
<circle cx="519.7" cy="157.4" r="1.15" fill="#000"/>
<circle cx="519.7" cy="157.7" r="1.15" fill="#000"/>
<circle cx="519.7" cy="161.9" r="1.15" fill="#000"/>
<circle cx="519.7" cy="173.4" r="1.15" fill="#000"/>
<circle cx="546" cy="163.1" r="1.15" fill="#000"/>
<circle cx="546" cy="178.9" r="1.15" fill="#000"/>
<circle cx="546" cy="180" r="1.15" fill="#000"/>
<circle cx="546" cy="181.4" r="1.15" fill="#000"/>
<circle cx="546" cy="182.8" r="1.15" fill="#000"/>
<circle cx="546" cy="187.3" r="1.15" fill="#000"/>
<circle cx="564.9" cy="121" r="1.15" fill="#000"/>
<circle cx="564.9" cy="137.1" r="1.15" fill="#000"/>
<circle cx="564.9" cy="142" r="1.15" fill="#000"/>
<circle cx="564.9" cy="142.9" r="1.15" fill="#000"/>
<circle cx="564.9" cy="147.1" r="1.15" fill="#000"/>
<circle cx="564.9" cy="159" r="1.15" fill="#000"/>
<line x1="505.8" y1="109.4" x2="521.8" y2="109.4" stroke="#333" stroke-width="1"/>
<text x="513.5" y="111.2" font-size="11" text-anchor="middle" fill="#000" >**</text>
<line x1="551.2" y1="109.5" x2="567" y2="109.5" stroke="#333" stroke-width="1"/>
<text x="559.3" y="111.2" font-size="11" text-anchor="middle" fill="#000" >*</text>
<rect x="575.5" y="92.3" width="15.3" height="6.5" fill="#c8c8c8" stroke="#444" stroke-width="0.9"/>
<rect x="575.5" y="103.3" width="15.3" height="6.5" fill="#80ffff" stroke="#444" stroke-width="0.9"/>
<text x="0" y="0" font-size="8.8" text-anchor="start" fill="#000" transform="translate(598 98.1) scale(1.13 1)" >Control</text>
<text x="0" y="0" font-size="8.8" text-anchor="start" fill="#000" transform="translate(598 109.2) scale(1.13 1)" >Activation</text>
<text x="0" y="0" font-size="8.65" text-anchor="middle" fill="#000" transform="translate(465.5 150.1) rotate(-90)">EMG activity (%)</text>
<text x="0" y="0" font-size="8.7" text-anchor="end" fill="#000" transform="translate(514.8 208.6) rotate(-58)">Masseter</text>
<text x="0" y="0" font-size="8.7" text-anchor="end" fill="#000" transform="translate(561.2 208.4) rotate(-58)">Digastric</text>
<text x="0" y="0" font-size="9.6" text-anchor="start" fill="#000" transform="translate(61 306.2) scale(1.06 1)" >Illumination during the incision stage</text>
<text x="0" y="0" font-size="9.7" text-anchor="start" fill="#000" transform="translate(15.2 339.7) scale(1.06 1)" >Digastric</text>
<text x="0" y="0" font-size="9.7" text-anchor="start" fill="#000" transform="translate(15.2 350.4) scale(1.06 1)" >muscle</text>
<text x="0" y="0" font-size="9.7" text-anchor="start" fill="#000" transform="translate(15.2 382.6) scale(1.06 1)" >Masseter</text>
<text x="0" y="0" font-size="9.7" text-anchor="start" fill="#000" transform="translate(15.2 393) scale(1.06 1)" >muscle</text>
<line x1="61.7" y1="342.5" x2="411.3" y2="342.5" stroke="#666" stroke-width="0.75"/>
<path d="M152.67 340.52V344.75M145.23 341.31V344.95M150.35 341.11V343.85M135.37 338.27V345.57M126.10 340.36V343.46M121.27 340.92V345.50M152.88 340.96V344.60M142.94 340.19V345.23M122.64 340.75V343.44M153.07 338.86V344.15M122.59 338.63V345.04M151.54 338.25V344.71M137.51 338.84V343.48M150.40 340.65V344.12M151.69 341.37V343.88M149.49 340.34V345.40M145.89 340.88V344.26M132.46 339.40V344.84M137.93 341.26V345.28M125.94 339.51V345.17M136.30 341.31V344.40M122.96 341.03V343.61M125.67 339.72V344.95M135.68 338.21V343.38M131.53 340.60V344.37M144.13 340.74V344.09M133.46 340.54V343.36M147.04 341.34V344.08M127.68 340.29V344.82M148.90 338.56V344.60M129.83 341.37V343.50M152.12 340.41V343.98M132.40 340.56V343.58M129.72 340.11V344.17M121.53 341.18V343.32M136.68 339.46V345.33M134.13 339.62V345.05M139.17 339.86V343.50M144.59 339.14V343.81M143.84 340.93V343.43M131.57 339.83V344.00M128.61 338.16V344.81M129.72 341.27V344.85M153.51 339.17V344.77" stroke="#000" stroke-opacity="0.6" stroke-width="0.55"/>
<path d="M168.01 339.27V343.55M162.06 340.36V344.66M158.29 339.53V345.04M159.67 339.55V344.03M164.48 340.12V345.86M161.99 341.32V343.46M164.68 341.22V345.23M162.34 340.53V344.19M166.52 339.86V344.22M162.05 339.72V344.32M164.92 340.32V343.89M157.84 340.16V343.66M158.75 341.03V344.06M167.32 339.96V343.87" stroke="#000" stroke-opacity="0.6" stroke-width="0.55"/>
<path d="M197.59 339.89V343.25M218.20 339.70V345.28M207.41 340.65V345.25M175.25 340.89V343.37M177.98 340.98V345.03M177.24 339.78V343.37M187.60 341.08V343.77M185.78 338.78V345.27M180.14 339.86V344.32M229.19 341.14V344.41M193.27 339.72V344.52M211.19 340.16V344.81M204.16 340.69V343.45M180.66 338.39V344.93M178.38 339.36V343.27M172.25 338.98V344.18M194.86 339.98V343.95M191.63 340.52V345.12M172.71 339.36V343.42M190.84 341.19V343.37M206.03 341.21V343.87M206.09 339.44V343.31M194.37 340.38V344.78M221.70 339.35V344.73M193.90 337.61V344.56M223.26 340.89V344.51M209.63 338.91V345.01M182.44 341.01V344.19M182.06 337.65V345.06M198.02 338.41V344.31M224.67 339.52V343.47M229.51 340.58V343.32M216.39 339.10V344.94M182.01 337.87V344.85M207.97 341.23V344.68M191.35 340.97V343.69M226.77 340.41V343.97M223.94 338.84V343.78M188.94 339.53V344.14M213.06 339.13V343.43M222.23 338.44V344.05M177.35 339.91V344.93M185.10 340.40V344.50M214.03 338.30V343.83M213.54 340.70V343.24M210.88 340.67V344.97M188.43 340.33V344.89M170.11 337.65V343.69M170.87 340.34V343.34M183.92 339.72V344.19M180.07 337.51V343.37M174.96 340.57V343.20M222.46 340.92V343.21M206.61 340.33V343.33M197.28 340.84V343.28M199.66 340.67V343.73M198.82 337.53V344.30M203.42 340.46V343.97M184.76 338.23V345.11M219.92 340.07V344.57M186.60 338.48V345.17M179.05 341.10V345.28M203.64 338.51V344.89M217.92 341.05V343.55M191.17 338.11V344.60M181.82 340.96V344.76M222.31 341.22V343.70M175.28 340.00V343.21M192.25 340.88V343.25M228.15 340.93V345.10M213.11 340.30V343.79M191.37 340.55V344.22M176.63 339.36V344.04M179.99 337.71V343.62M207.08 338.80V344.61M204.10 339.89V343.89M213.89 341.15V344.20M220.08 339.91V344.02M210.94 338.52V343.69M205.46 338.38V344.32M181.32 337.52V343.72M208.40 341.17V344.47M202.56 337.95V343.51M169.73 340.36V343.90M210.55 340.43V344.70M220.87 341.21V345.26" stroke="#000" stroke-opacity="0.5" stroke-width="0.55"/>
<path d="M232.47 341.36V343.06M260.41 339.64V343.27M251.59 339.60V344.07M239.84 340.93V344.34M263.15 340.87V343.74M232.69 341.08V344.13M231.50 341.48V343.71M230.71 341.51V344.04M237.08 340.85V344.38M250.00 340.37V343.04M250.04 340.76V343.58M248.22 341.68V343.80M243.26 340.33V343.25M264.65 340.92V344.18M249.83 341.31V343.51M240.66 340.76V343.40M240.16 339.51V344.44M249.40 340.68V344.16M254.02 341.03V343.61" stroke="#000" stroke-opacity="0.5" stroke-width="0.55"/>
<path d="M339.26 341.41V343.72M300.48 340.08V343.14M319.73 341.28V343.59M348.64 341.05V343.64M339.38 341.11V343.40M318.67 339.91V343.37M309.83 341.42V343.46M317.08 339.98V343.51M324.42 339.31V343.48M334.77 339.41V344.82M335.96 339.83V344.17M316.58 338.91V343.34M315.52 341.30V343.91M344.75 339.81V343.13M343.60 341.43V343.35M321.88 341.48V344.51M333.06 338.64V344.19M319.18 341.05V343.55M329.92 339.14V343.34M324.41 339.79V343.40M334.28 340.93V343.60M307.10 338.69V343.15M312.61 339.91V343.90M308.05 340.26V343.83M325.50 340.46V343.31M333.69 340.79V344.54M314.10 339.01V343.43M330.94 338.61V343.52M339.48 340.12V343.13M327.88 340.66V343.18M339.39 339.62V344.85M303.12 340.70V344.04M314.64 341.30V343.64M319.35 340.30V343.77M318.70 340.28V344.27M309.42 340.34V344.63M338.07 339.31V344.82" stroke="#000" stroke-opacity="0.5" stroke-width="0.55"/>
<path d="M362.18 339.12V344.51M358.90 339.38V343.86M364.14 341.22V344.38M358.31 340.50V343.94M369.02 338.59V344.68M366.66 340.89V343.97M365.62 340.73V344.78M357.78 340.20V344.94M355.31 340.52V344.81M373.37 340.45V344.30M364.27 341.37V344.79M371.89 338.82V343.38M363.65 339.18V344.66M371.42 341.43V344.27M358.61 341.27V343.90M351.99 340.86V343.76M360.00 340.81V343.86M362.69 341.24V343.41M358.32 341.48V343.93M372.56 341.01V344.72M359.22 340.44V344.48M361.03 340.29V344.81" stroke="#000" stroke-opacity="0.55" stroke-width="0.55"/>
<path d="M398.91 340.97V343.11M404.45 340.71V343.57M401.83 339.71V343.93M408.11 340.57V343.71M398.71 340.54V343.27M402.23 340.38V343.19M409.63 341.63V343.07" stroke="#000" stroke-opacity="0.5" stroke-width="0.55"/>
<path d="M62.03 340.97V343.46M66.82 339.19V344.52M71.18 339.19V345.25M72.73 341.75V343.44M73.65 341.86V343.31M73.93 341.82V343.54M74.27 341.82V343.53M74.87 341.31V343.62M75.86 341.87V343.35M76.83 341.81V343.41M79.47 341.85V343.75M80.44 341.68V343.45M82.04 341.76V343.24M82.77 341.45V343.41M83.47 341.86V343.51M84.01 341.42V343.42M84.90 341.80V343.33M85.26 341.63V343.49M86.88 340.40V344.98M87.20 341.47V343.50M88.27 341.87V343.27M90.57 341.83V343.15M91.85 341.80V343.25M94.72 341.37V343.40M95.65 341.55V343.49M97.24 340.49V345.68M99.81 339.34V345.35M100.13 339.96V344.48M101.16 340.51V345.05M102.85 338.69V344.75M104.68 340.46V344.80M104.96 340.04V344.49M105.48 338.67V344.57M107.75 337.75V348.78M108.08 339.17V345.74M108.34 336.19V346.48M108.70 338.96V346.93M111.03 337.62V345.74M111.35 338.68V348.05M112.32 335.42V346.25M112.59 336.76V347.99M113.54 336.54V346.52M116.83 339.11V345.83M119.33 340.14V346.06M119.63 338.86V345.02M122.08 339.50V345.51M123.24 339.93V344.98M123.60 339.73V345.76M123.94 340.12V346.19M127.54 339.11V345.16M129.16 340.04V344.93M130.43 338.01V344.89M135.01 340.15V347.08M135.32 338.39V346.32M135.97 339.32V345.08M138.24 339.74V346.52M142.01 340.16V345.13M144.26 339.80V344.86M146.95 336.85V347.25M147.22 339.80V344.84M147.80 340.01V345.00M148.15 339.70V345.59M150.65 339.51V346.53M151.29 340.14V346.20M152.54 339.02V345.58M153.19 339.77V345.62M153.46 339.56V344.91M154.95 340.04V347.11M155.30 339.00V346.16M157.13 339.67V344.76M158.71 340.00V345.71M161.13 340.52V344.89M161.46 340.70V344.51M163.31 340.25V344.71M163.60 339.18V344.91M163.95 336.85V346.27M164.27 338.11V345.32M164.65 340.61V345.30M167.09 340.60V344.92M167.42 340.64V344.75M168.32 340.61V344.37M168.66 341.07V343.61M168.96 341.46V343.78M169.67 341.06V344.13M170.30 341.56V344.02M171.21 340.89V343.45M172.75 340.76V344.14M174.97 341.51V343.67M177.18 340.92V343.43M178.82 340.89V343.41M179.35 341.37V344.19M179.99 341.34V344.25M180.58 341.12V343.98M180.95 340.87V343.57M182.13 341.59V343.51M184.25 340.78V343.59M186.14 341.60V343.42M186.41 341.15V343.76M188.32 341.03V343.41M190.55 341.31V343.60M191.68 341.22V343.44M195.81 340.94V343.93M196.16 341.31V343.61M197.03 341.54V343.94M198.32 341.03V343.44M198.91 341.04V343.55M200.76 341.25V343.40M201.72 341.46V343.59M203.02 340.96V343.56M203.37 340.75V343.45M204.07 340.90V343.72M204.34 341.54V343.40M205.28 341.11V343.49M205.61 341.54V343.83M207.65 340.74V343.52M209.28 340.97V343.86M210.30 341.28V343.43M210.86 339.91V345.49M212.46 341.14V344.26M212.72 341.00V343.70M213.28 341.45V343.42M213.63 340.94V343.45M215.51 341.32V343.75M215.83 340.99V344.12M216.16 341.57V343.75M217.41 341.41V344.13M220.08 341.58V343.65M221.94 341.35V343.42M222.61 341.47V343.63M223.21 341.56V344.10M224.16 341.09V343.73M225.11 341.43V343.57M226.08 341.43V344.14M226.46 341.56V343.53M227.43 341.36V343.63M234.31 341.57V344.18M235.64 341.54V344.29M236.00 341.47V344.21M236.71 341.51V343.40M237.00 341.59V343.52M237.33 341.54V343.41M238.55 341.49V343.69M240.18 341.26V344.05M241.79 341.12V343.43M243.04 341.33V344.13M244.76 341.57V343.78M247.89 341.56V343.42M252.39 341.59V343.40M252.77 340.90V344.29M255.10 341.53V343.75M257.10 341.20V343.41M258.13 341.53V343.48M260.36 341.56V343.40M263.50 340.76V343.43M267.68 340.78V343.44M268.66 342.10V342.82M270.27 342.16V342.82M270.94 342.05V342.83M272.87 341.99V342.95M273.55 342.16V342.83M275.76 342.18V342.86M276.11 342.17V343.00M276.39 342.18V342.89M276.98 342.18V342.92M277.32 342.07V342.97M278.54 342.17V342.82M280.51 342.13V342.88M297.53 341.21V343.40M298.41 341.53V343.53M298.98 340.78V343.47M301.12 340.82V343.93M302.10 340.84V343.47M303.42 340.73V343.40M304.42 340.85V343.48M305.02 341.45V343.86M308.28 341.25V343.40M309.01 340.73V343.48M309.70 341.35V343.41M311.88 341.46V343.87M312.15 341.59V343.43M313.75 341.30V343.50M314.13 341.39V343.94M318.19 341.41V344.32M319.37 340.50V344.07M322.25 340.80V343.75M322.98 341.32V343.48M325.94 341.60V343.52M326.55 341.57V344.18M326.92 341.60V343.64M327.91 341.21V343.68M329.73 340.90V343.61M331.35 340.81V343.43M331.92 341.36V343.45M336.27 340.97V343.54M337.22 341.22V344.27M338.88 341.56V344.27M339.21 341.60V343.42M340.12 341.53V344.07M340.41 341.44V343.59M342.70 339.67V343.68M345.97 341.59V344.07M351.49 340.70V344.04M352.79 340.69V344.12M353.43 340.22V345.55M354.42 340.97V345.26M355.10 340.51V345.05M359.12 340.75V345.23M360.12 339.55V344.05M360.99 340.52V344.59M361.88 340.58V344.83M362.58 339.88V344.14M363.60 340.90V344.82M363.97 339.77V344.93M365.16 339.84V344.61M365.45 340.10V344.47M366.12 340.88V344.28M367.09 340.95V344.33M368.05 340.11V344.04M368.37 340.95V344.28M369.78 340.67V344.19M370.67 340.97V344.20M371.90 340.68V344.21M372.53 339.64V344.09M372.90 339.95V344.10M373.61 339.96V345.33M376.56 341.42V343.34M376.83 341.72V343.86M377.12 341.78V343.60M380.30 341.62V343.26M380.66 341.55V343.25M381.32 341.72V343.22M382.53 341.76V343.33M383.18 341.31V343.35M383.45 341.71V343.54M383.83 341.70V343.26M384.14 341.16V343.87M385.53 341.74V343.24M385.81 341.12V343.22M387.31 341.22V343.33M387.98 341.78V343.73M388.26 341.25V343.32M389.79 341.73V343.82M390.07 341.40V343.79M390.38 341.42V343.61M392.03 341.14V343.22M393.86 341.67V343.51M396.12 341.24V343.39M396.74 341.54V343.31M399.34 340.94V344.23M401.83 341.19V344.42M402.44 341.21V343.83M403.06 341.47V343.94M404.09 340.90V343.50M406.90 341.25V343.98M409.22 340.92V343.84" stroke="#000" stroke-opacity="0.4" stroke-width="0.4"/>
<path d="M317.40 342.5L317.58 337.00L317.82 337.00L318.00 342.5L317.82 344.50L317.58 344.50ZM319.30 342.5L319.48 340.50L319.72 340.50L319.90 342.5L319.72 346.00L319.48 346.00ZM342.75 342.5L342.88 337.50L343.12 337.50L343.25 342.5L343.12 344.50L342.88 344.50ZM202.10 342.5L202.28 335.50L202.52 335.50L202.70 342.5L202.52 345.50L202.28 345.50Z" fill="#000"/>
<path d="M61.70 341.91V343.27M62.03 341.69V342.97M62.32 341.50V343.23M62.64 341.68V343.03M63.00 341.74V343.37M63.27 341.62V343.29M63.53 341.85V343.01M63.90 341.90V343.17M64.25 342.00V343.18M64.52 342.13V342.90M64.83 341.93V342.94M65.14 342.04V343.05M65.51 341.91V343.18M65.89 341.91V342.88M66.27 341.81V343.07M66.56 341.14V343.59M66.82 340.42V344.41M67.10 340.66V344.62M67.36 339.65V343.75M67.66 338.62V345.57M68.04 339.50V344.11M68.30 339.65V344.91M68.58 340.12V345.77M68.96 337.24V344.79M69.28 337.90V345.05M69.61 337.11V344.87M69.96 339.34V344.43M70.28 338.59V343.71M70.61 340.52V344.65M70.88 339.05V344.26M71.18 339.36V344.33M71.56 340.82V343.66M71.86 341.15V343.24M72.19 341.85V342.97M72.45 341.95V343.11M72.73 341.87V342.91M73.00 342.05V342.95M73.31 341.85V342.88M73.65 341.84V343.00M73.93 341.87V343.14M74.27 341.87V342.96M74.56 342.04V342.99M74.87 341.83V342.88M75.25 342.00V343.18M75.54 341.89V343.14M75.86 342.06V342.96M76.15 341.87V342.82M76.50 341.83V343.16M76.83 342.21V343.11M77.15 342.01V343.18M77.45 341.95V343.35M77.81 341.50V343.35M78.17 341.35V344.39M78.53 340.41V343.44M78.89 341.74V343.53M79.21 341.70V343.33M79.47 342.17V342.87M79.84 342.16V343.02M80.13 342.04V343.08M80.44 342.11V342.95M80.74 342.16V342.89M81.07 341.87V342.97M81.41 342.01V342.97M81.75 342.01V343.09M82.04 341.97V343.09M82.41 341.82V342.97M82.77 342.08V343.01M83.14 341.87V343.08M83.47 342.15V343.05M83.73 342.16V342.85M84.01 342.20V343.15M84.37 341.82V343.05M84.63 341.88V343.03M84.90 341.89V343.18M85.26 342.08V342.89M85.57 341.99V343.02M85.88 341.94V343.37M86.19 341.12V343.35M86.54 340.87V343.97M86.88 341.08V343.29M87.20 341.74V343.42M87.53 342.05V342.91M87.91 342.06V343.10M88.27 341.95V342.93M88.58 342.12V342.97M88.93 342.13V343.20M89.27 341.99V343.14M89.59 341.99V343.10M89.90 341.89V343.19M90.19 342.09V343.10M90.57 341.85V342.92M90.91 341.85V343.17M91.28 342.05V342.99M91.55 342.16V343.14M91.85 341.95V343.09M92.17 342.10V343.05M92.47 341.96V342.86M92.81 342.15V343.16M93.08 341.82V342.97M93.43 342.06V343.09M93.79 342.07V343.12M94.14 341.96V342.85M94.44 341.90V343.09M94.72 341.92V343.07M94.99 341.82V342.87M95.34 341.94V343.04M95.65 342.05V342.88M95.98 341.89V342.97M96.28 341.84V342.81M96.57 341.88V342.96M96.88 340.81V344.45M97.24 341.39V343.84M97.59 341.28V343.73M97.94 340.50V344.43M98.22 340.99V343.73M98.54 340.92V343.82M98.80 338.07V344.64M99.11 338.16V344.55M99.49 340.37V343.88M99.81 340.74V344.40M100.13 340.83V344.09M100.45 340.69V344.07M100.83 340.42V343.65M101.16 341.50V343.96M101.54 341.09V344.56M101.81 340.45V344.26M102.16 340.58V343.94M102.53 340.45V344.06M102.85 340.46V343.59M103.17 339.15V344.31M103.51 341.11V344.09M103.82 341.28V344.59M104.12 341.02V344.17M104.40 341.61V343.76M104.68 340.91V343.74M104.96 341.55V343.61M105.22 340.93V344.02M105.48 340.98V344.01M105.75 340.89V343.69M106.05 341.37V343.50M107.39 341.90V343.07M107.75 339.57V344.86M108.08 341.04V344.07M108.34 339.52V345.93M108.70 339.04V346.00M109.08 340.74V344.76M109.35 339.90V344.98M109.72 340.32V345.96M110.08 339.41V346.35M110.39 340.20V346.00M110.68 340.43V345.77M111.03 340.05V345.15M111.35 338.96V345.52M111.69 337.94V345.88M112.06 337.68V345.00M112.32 338.41V346.53M112.59 337.36V345.05M112.92 339.81V345.11M113.20 337.44V345.65M113.54 336.75V345.89M113.90 339.40V344.33M114.18 336.99V344.45M114.46 337.60V345.49M114.82 338.18V344.86M115.13 340.58V345.81M115.49 340.45V345.26M115.84 340.78V344.86M116.10 339.72V345.63M116.44 339.61V344.57M116.83 340.16V345.04M117.20 339.39V345.88M117.54 339.02V345.25M117.91 339.07V346.01M119.33 340.88V345.02M119.63 340.54V344.63M119.94 340.79V344.77M120.23 341.21V344.13M120.50 341.11V344.80M120.88 339.93V344.94M121.16 340.85V344.38M121.48 340.77V344.91M121.80 340.04V344.85M122.08 340.15V343.58M122.36 341.32V343.98M122.68 339.93V344.83M122.94 341.06V343.59M123.24 341.32V344.50M123.60 340.68V344.07M123.94 340.01V344.86M124.29 340.55V344.89M124.59 341.08V343.60M124.96 338.89V344.56M125.33 340.14V344.58M125.65 341.08V343.94M126.04 340.50V344.30M126.35 340.15V344.37M126.63 340.84V344.47M126.99 340.12V345.01M127.25 340.46V344.51M127.54 340.27V344.99M127.87 340.03V345.05M128.15 340.00V343.94M128.51 340.84V344.09M128.89 340.84V344.28M129.16 340.95V345.08M129.42 340.53V344.77M129.76 340.13V343.56M130.14 341.28V344.08M130.43 340.50V343.68M130.80 341.07V345.09M131.14 341.13V343.69M131.42 341.05V344.87M131.68 339.84V344.49M131.95 339.61V345.30M132.22 340.79V343.84M132.60 341.26V343.96M132.98 339.93V344.05M133.36 340.59V344.72M133.62 340.79V344.78M133.95 340.62V344.49M134.27 340.11V343.97M134.65 340.09V343.93M135.01 341.09V344.08M135.32 340.06V343.82M135.70 340.31V344.47M135.97 340.51V344.35M136.29 340.75V344.16M136.62 339.92V345.02M136.99 340.89V345.07M137.26 340.56V344.76M137.60 340.89V345.06M137.91 340.52V344.94M138.24 340.65V344.60M138.59 341.30V344.92M138.97 340.76V344.00M139.34 340.66V344.93M139.65 340.86V344.44M139.95 339.40V345.14M140.22 340.83V344.25M140.50 341.25V344.17M140.76 340.51V345.00M141.11 340.12V344.89M141.42 340.31V343.83M141.73 340.60V344.96M142.01 340.12V344.58M142.26 340.11V343.94M142.57 340.55V344.34M142.91 340.66V343.78M143.25 341.25V344.35M143.64 341.28V343.58M143.95 340.03V344.88M144.26 340.45V344.95M144.59 341.37V345.02M144.92 341.24V344.03M145.29 340.51V344.11M145.63 340.52V343.97M146.00 341.15V344.48M146.30 340.20V344.99M146.65 341.02V343.70M146.95 340.40V345.13M147.22 339.72V344.29M147.54 340.73V344.91M147.80 340.71V344.27M148.15 340.80V343.81M148.44 340.29V344.00M148.77 341.07V344.78M149.09 340.43V344.62M149.36 340.17V344.92M149.69 340.92V344.97M149.97 340.13V345.08M150.36 340.59V343.93M150.65 340.24V344.55M150.97 340.51V344.93M151.29 340.45V344.88M151.62 340.86V344.96M151.94 338.34V345.06M152.24 341.18V344.68M152.54 340.59V344.53M152.84 341.19V344.51M153.19 341.08V344.28M153.46 341.31V344.41M153.73 340.51V345.00M154.05 340.71V343.72M154.35 339.97V343.82M154.67 340.66V344.07M154.95 340.46V344.45M155.30 340.24V344.98M155.59 340.63V345.07M155.94 341.09V344.67M156.26 340.75V344.94M156.58 340.81V343.91M156.87 340.96V344.08M157.13 341.41V344.14M157.51 340.65V344.23M157.77 340.95V344.25M158.05 341.43V344.48M158.37 340.76V343.56M158.71 340.90V343.58M158.99 341.68V343.46M159.29 341.06V344.49M159.58 340.28V343.42M159.93 340.44V343.95M160.23 339.30V343.91M160.53 340.49V343.93M160.83 341.34V343.94M161.13 341.33V343.89M161.46 340.91V343.75M161.74 340.94V343.72M162.07 340.84V344.24M162.38 341.23V343.43M162.70 341.51V344.43M163.04 341.08V343.53M163.31 341.16V344.50M163.60 339.60V344.36M163.95 338.47V346.16M164.27 340.30V344.47M164.65 341.57V344.47M164.97 340.73V344.00M165.24 340.82V344.00M165.49 341.56V344.18M165.80 340.79V344.06M166.12 340.90V343.37M166.47 341.29V343.96M166.77 340.85V344.25M167.09 341.37V343.80M167.42 341.31V343.61M167.71 340.61V344.06M168.02 341.61V344.24M168.32 340.77V343.72M168.66 341.68V343.37M168.96 341.75V343.21M169.31 341.54V343.06M169.67 341.64V343.49M169.94 341.70V343.47M170.30 341.55V343.21M170.62 341.86V343.21M170.90 342.08V343.48M171.21 341.51V343.12M171.49 341.53V343.08M171.79 341.87V343.08M172.12 341.81V343.25M172.48 341.53V343.38M172.75 341.90V343.07M173.12 341.72V343.01M173.38 341.55V343.11M173.76 341.93V343.46M174.10 342.00V343.45M174.40 341.67V343.30M174.67 341.71V342.93M174.97 341.95V343.15M175.28 341.85V343.12M175.64 341.79V343.39M175.91 341.95V343.43M176.21 341.75V343.42M176.52 341.83V342.92M176.83 341.76V343.22M177.18 341.94V343.49M177.54 341.90V342.98M177.90 341.58V343.44M178.17 341.82V343.00M178.48 341.63V343.40M178.82 341.56V343.27M179.09 341.58V343.12M179.35 341.93V343.36M179.63 341.65V343.37M179.99 341.65V342.92M180.27 341.71V343.02M180.58 341.74V343.34M180.95 341.88V343.09M181.25 341.74V343.35M181.55 341.62V343.39M181.82 341.53V343.37M182.13 341.52V343.21M182.46 341.83V343.47M182.77 341.67V343.30M183.09 341.74V343.24M183.37 341.61V343.13M183.64 341.76V343.21M183.92 341.89V343.02M184.25 342.10V343.05M184.58 341.88V343.33M184.92 342.10V343.21M185.18 341.60V343.14M185.52 341.71V343.24M185.84 341.84V342.97M186.14 341.74V343.16M186.41 341.57V343.29M186.68 341.62V343.08M186.95 341.88V343.10M187.31 341.71V343.03M187.66 342.04V343.46M188.03 341.65V343.31M188.32 341.87V343.01M188.67 341.81V343.44M189.02 341.58V342.95M189.32 341.79V343.34M189.67 341.53V343.35M189.99 341.62V343.41M190.29 341.69V343.08M190.55 341.68V343.24M190.93 341.56V343.29M191.30 341.96V343.42M191.68 341.62V343.18M192.03 341.71V343.41M192.33 341.55V343.33M192.66 341.79V343.32M192.95 341.51V343.44M193.24 341.94V343.37M193.58 341.93V343.36M193.88 341.71V343.22M194.24 341.51V343.00M194.61 341.67V343.29M194.87 341.60V343.31M195.17 341.69V343.01M195.46 341.53V343.40M195.81 341.82V343.26M196.16 342.02V343.41M196.43 341.80V343.45M196.72 341.59V343.16M197.03 342.02V343.49M197.30 341.73V343.43M197.60 341.62V343.41M197.94 341.86V343.19M198.32 342.10V343.06M198.60 341.62V343.04M198.91 341.55V343.41M199.20 342.05V343.35M199.49 341.58V343.06M199.76 341.84V343.44M200.03 341.91V343.32M200.40 342.04V343.44M200.76 341.84V342.97M201.03 341.61V343.44M201.40 341.73V343.44M201.72 341.73V342.93M202.00 339.08V343.67M202.37 338.59V345.22M202.66 340.06V344.34M203.02 341.38V343.30M203.37 342.01V343.47M203.73 341.59V343.48M204.07 341.88V343.42M204.34 341.53V343.14M204.63 341.64V343.49M204.99 341.59V343.36M205.28 341.96V343.27M205.61 341.73V343.31M205.90 341.66V343.48M206.27 341.69V343.47M206.63 341.66V343.06M206.96 341.78V343.33M207.32 341.59V343.03M207.65 341.53V342.91M208.00 341.71V343.19M208.33 341.51V343.26M208.62 341.64V343.30M208.99 342.02V343.48M209.28 341.78V342.99M209.65 341.96V343.00M209.96 341.64V343.13M210.30 341.88V343.40M210.56 341.77V343.26M210.86 339.72V344.05M211.17 340.10V344.09M211.45 340.18V344.24M211.79 341.21V343.40M212.12 341.87V343.32M212.46 341.76V343.38M212.72 341.90V343.49M212.98 341.69V342.91M213.28 341.54V343.45M213.63 342.01V342.97M213.93 341.79V343.27M214.30 341.85V343.23M214.59 341.95V343.42M214.96 341.59V343.17M215.23 341.56V343.21M215.51 341.92V343.44M215.83 341.75V343.19M216.16 341.90V343.46M216.52 341.72V343.00M216.80 341.84V343.49M217.15 342.02V343.43M217.41 341.60V343.47M217.71 341.87V343.39M218.09 341.57V343.43M218.37 341.66V343.29M218.70 341.87V343.06M219.00 342.00V343.49M219.34 341.85V343.03M219.71 341.89V343.46M220.08 341.95V343.21M220.38 341.73V343.08M220.68 341.55V342.98M221.04 341.72V343.10M221.31 341.98V342.92M221.68 341.88V343.12M221.94 342.08V343.33M222.28 341.57V343.22M222.61 341.65V342.96M222.90 341.67V343.10M223.21 341.92V342.98M223.52 341.79V343.48M223.87 341.91V343.15M224.16 341.84V343.07M224.47 341.77V343.31M224.73 341.58V343.22M225.11 341.62V343.16M225.41 342.01V343.29M225.77 341.74V343.12M226.08 342.02V343.12M226.46 341.67V343.03M226.79 342.07V343.24M227.13 341.58V343.19M227.43 341.78V343.32M227.70 341.90V343.41M227.99 341.88V343.26M228.29 341.86V343.08M228.62 342.01V343.29M229.00 341.53V343.02M229.30 342.00V343.44M229.66 341.68V343.49M230.00 341.67V343.43M230.29 341.93V343.27M230.60 341.57V343.43M230.92 341.65V343.06M231.19 341.55V343.31M231.47 341.70V343.22M231.74 341.56V343.20M232.09 341.70V343.21M232.41 342.06V343.10M232.68 342.02V343.43M233.00 341.71V343.36M233.36 342.10V343.43M233.69 341.87V343.38M234.03 341.86V343.42M234.31 341.62V343.47M234.69 341.98V343.39M234.98 341.61V343.13M235.30 341.77V343.01M235.64 341.88V342.95M236.00 341.55V343.38M236.36 341.50V343.41M236.71 341.54V343.20M237.00 341.71V343.11M237.33 341.71V343.47M237.70 341.68V343.33M237.96 341.55V343.15M238.27 341.63V343.13M238.55 341.64V343.22M238.86 341.71V343.42M239.22 341.87V343.44M239.54 342.07V342.98M239.91 341.64V343.25M240.18 341.70V343.50M240.52 341.84V343.09M240.89 341.56V343.19M241.25 341.83V343.38M241.53 342.10V343.36M241.79 342.04V343.14M242.13 341.73V343.16M242.44 341.75V343.33M242.72 341.52V343.38M243.04 341.69V343.13M243.31 341.51V343.17M243.66 341.89V343.07M244.04 341.60V343.29M244.40 341.59V343.42M244.76 341.52V343.29M245.07 341.54V343.32M245.35 341.74V343.36M245.72 341.89V343.25M245.98 342.03V343.05M246.28 341.65V343.42M246.54 341.65V343.40M246.91 341.59V343.31M247.24 342.00V343.12M247.53 341.77V343.44M247.89 341.77V343.25M248.22 341.74V342.97M248.49 341.82V342.93M248.76 341.53V343.17M249.07 341.85V343.42M249.39 341.68V343.50M249.66 341.78V343.48M249.96 341.98V343.11M250.24 341.55V343.11M250.58 341.91V343.25M250.87 341.74V343.31M251.17 341.95V343.25M251.49 341.54V343.07M251.80 341.94V343.22M252.11 341.61V343.49M252.39 341.83V343.48M252.77 341.75V343.21M253.11 341.54V343.28M253.39 341.87V343.03M253.65 342.05V343.45M254.01 341.84V343.22M254.37 341.87V343.25M254.73 341.84V342.91M255.10 341.95V343.31M255.37 341.78V343.29M255.73 341.57V343.12M256.08 341.70V343.29M256.43 341.65V343.11M256.78 341.78V343.45M257.10 341.72V343.30M257.43 341.78V343.35M257.81 341.92V343.46M258.13 342.05V343.43M258.41 341.88V343.12M258.72 341.62V343.47M259.02 341.66V343.37M259.33 341.94V343.38M259.63 341.67V342.97M260.00 341.51V343.01M260.36 341.97V343.30M260.65 341.57V343.29M261.03 341.97V343.43M261.37 341.85V343.05M261.67 341.90V343.34M261.96 341.95V343.24M262.30 341.68V343.45M262.61 341.63V343.33M262.89 341.82V343.36M263.19 341.73V342.98M263.50 341.61V343.43M263.88 341.51V343.08M264.15 341.54V343.38M264.51 341.84V343.39M264.81 341.80V343.35M265.14 341.72V343.40M265.45 341.73V343.22M265.72 341.95V342.94M266.08 341.70V343.32M266.44 341.88V343.08M266.73 341.70V342.98M267.08 341.90V343.03M267.36 341.55V343.31M267.68 341.76V343.10M267.95 341.53V343.26M268.32 342.20V342.71M268.66 342.21V342.70M269.02 342.21V342.69M269.35 342.33V342.75M269.67 342.20V342.71M270.01 342.23V342.65M270.27 342.25V342.69M270.56 342.24V342.68M270.94 342.20V342.84M271.31 342.24V342.80M271.58 342.33V342.82M271.90 342.35V342.65M272.24 342.26V342.79M272.50 342.19V342.85M272.87 342.25V342.78M273.17 342.34V342.69M273.55 342.24V342.83M273.84 342.19V342.73M274.18 342.25V342.83M274.55 342.25V342.74M274.93 342.16V342.77M275.19 342.17V342.78M275.47 342.25V342.80M275.76 342.24V342.76M276.11 342.26V342.65M276.39 342.15V342.72M276.72 342.19V342.79M276.98 342.16V342.71M277.32 342.28V342.71M277.59 342.29V342.81M277.86 342.15V342.80M278.16 342.16V342.75M278.54 342.18V342.69M278.91 342.23V342.76M279.23 342.25V342.80M279.60 342.18V342.83M279.88 342.25V342.82M280.21 342.30V342.82M280.51 342.18V342.67M280.78 342.26V342.81M281.15 342.19V342.67M281.47 342.35V342.81M281.82 342.21V342.71M296.04 341.77V343.25M296.31 341.78V343.26M296.66 341.89V343.23M296.93 341.60V343.48M297.24 341.83V343.22M297.53 341.52V343.17M297.83 341.72V343.41M298.09 341.52V342.92M298.41 341.51V343.16M298.69 341.55V343.25M298.98 341.67V343.46M299.33 341.53V343.22M299.63 341.79V343.46M299.89 341.97V343.26M300.16 341.59V343.14M300.46 341.95V343.20M300.83 341.72V343.10M301.12 341.83V342.91M301.41 341.69V342.95M301.74 341.64V343.21M302.10 341.86V342.98M302.37 341.72V343.02M302.72 341.91V343.20M303.09 341.56V342.94M303.42 341.97V343.49M303.68 341.77V343.30M304.05 342.00V343.36M304.42 341.69V343.35M304.71 341.80V343.39M305.02 341.70V343.10M305.37 341.93V343.33M305.71 341.95V342.95M306.06 341.89V343.37M306.39 341.84V343.33M306.70 341.86V343.37M306.99 342.02V343.10M307.29 342.08V343.42M307.56 341.62V343.25M307.92 341.59V343.44M308.28 341.76V343.33M308.65 341.95V343.28M309.01 341.57V343.20M309.38 341.81V343.21M309.70 341.61V343.29M310.07 341.95V343.17M310.37 341.55V343.40M310.68 341.63V343.25M310.98 341.72V343.29M311.28 341.60V343.07M311.56 341.53V342.99M311.88 341.64V343.33M312.15 341.99V343.41M312.52 341.84V343.21M312.89 342.05V343.06M313.23 341.98V343.21M313.49 341.85V342.96M313.75 341.96V343.31M314.13 341.72V343.16M314.48 341.65V343.25M314.78 341.73V343.48M315.10 341.60V343.39M315.41 341.62V343.17M315.73 342.02V343.11M316.02 341.59V342.91M316.34 341.86V343.47M316.64 341.98V343.46M316.96 342.04V342.91M317.30 341.53V343.37M317.61 341.21V343.99M317.91 341.54V343.88M318.19 341.44V343.48M318.46 341.99V342.99M318.77 342.10V343.12M319.08 341.90V343.55M319.37 341.46V343.47M319.71 340.83V343.66M320.02 341.55V343.09M320.31 342.00V343.42M320.63 342.03V343.37M321.00 341.68V343.09M321.33 341.84V343.40M321.61 342.05V343.31M321.88 342.05V343.39M322.25 341.55V343.41M322.61 341.54V343.14M322.98 341.88V342.99M323.36 342.08V343.19M323.69 341.58V343.33M324.07 341.57V343.30M324.40 341.92V343.10M324.71 341.82V342.98M325.01 341.77V343.16M325.36 341.53V343.30M325.67 341.77V343.15M325.94 341.92V343.39M326.26 341.78V343.09M326.55 341.95V343.25M326.92 341.82V343.26M327.29 342.02V343.22M327.55 341.71V343.11M327.91 341.56V343.39M328.21 341.93V343.23M328.52 341.52V343.09M328.79 341.65V343.21M329.11 341.98V343.08M329.39 341.58V343.35M329.73 341.96V342.92M330.11 341.86V343.18M330.48 341.80V343.24M330.76 341.55V343.45M331.04 341.56V343.22M331.35 342.02V343.37M331.65 342.09V343.08M331.92 341.99V342.96M332.27 341.66V343.25M332.65 341.87V343.39M332.93 341.61V342.94M333.30 341.67V343.35M333.61 342.00V343.18M333.97 341.56V343.49M334.34 341.55V342.93M334.61 342.02V343.21M334.89 341.86V343.24M335.16 341.95V342.92M335.54 341.94V343.38M335.91 341.60V342.96M336.27 341.68V343.43M336.63 341.71V343.16M336.88 341.53V343.44M337.22 341.63V343.21M337.59 341.60V343.04M337.88 341.72V343.45M338.21 341.80V343.05M338.60 341.54V343.33M338.88 342.07V342.93M339.21 341.92V342.99M339.51 341.96V343.08M339.78 341.98V343.39M340.12 341.88V343.35M340.41 341.68V343.07M340.67 341.74V343.20M341.03 341.55V343.19M341.38 341.62V343.25M341.68 341.64V343.29M341.97 342.03V343.43M342.33 341.63V343.39M342.70 339.98V343.36M343.00 339.28V344.11M343.32 340.02V342.99M343.65 341.61V343.16M343.97 341.61V343.21M344.34 341.74V343.25M344.66 341.51V343.47M345.00 342.00V343.45M345.26 342.08V343.42M345.60 341.81V343.09M345.97 341.69V342.95M346.33 341.54V343.21M346.60 341.90V343.16M346.90 341.63V343.43M347.26 341.88V343.11M347.53 342.02V343.50M347.83 341.61V343.45M348.19 341.98V343.45M348.50 342.08V342.97M348.77 341.67V343.50M349.12 341.71V343.31M349.44 341.58V343.04M349.76 341.94V343.08M350.10 341.24V343.77M350.44 341.51V344.15M350.79 341.04V343.92M351.18 341.04V343.42M351.49 341.71V344.10M351.81 341.20V344.05M352.18 341.08V343.67M352.46 341.41V343.83M352.79 341.64V343.51M353.15 341.48V343.45M353.43 340.93V343.79M353.73 341.18V343.81M354.11 341.71V343.65M354.42 341.23V343.83M354.73 341.29V343.82M355.10 341.68V343.89M355.41 341.36V344.08M355.79 341.20V343.58M356.11 341.82V343.38M356.44 341.75V343.99M356.71 340.81V343.43M357.05 341.25V343.62M357.39 340.84V344.10M357.75 341.26V343.63M358.12 341.43V344.02M358.39 341.26V344.12M358.75 340.93V344.03M359.12 341.68V343.77M359.48 340.81V343.82M359.76 341.25V344.12M360.12 341.43V344.03M360.39 341.17V344.01M360.70 341.04V343.47M360.99 341.51V343.26M361.29 341.13V343.60M361.55 340.99V344.12M361.88 340.81V343.40M362.21 341.25V343.70M362.58 341.70V343.91M362.93 341.41V343.89M363.31 341.26V343.78M363.60 340.85V343.61M363.97 341.15V344.16M364.26 341.67V343.69M364.57 341.03V343.49M364.87 341.58V343.71M365.16 341.61V343.97M365.45 341.80V344.07M365.79 341.54V343.97M366.12 340.83V343.85M366.49 340.97V343.66M366.79 341.24V343.59M367.09 341.41V343.88M367.45 341.36V343.55M367.79 341.46V343.80M368.05 341.41V344.05M368.37 341.31V343.90M368.74 341.23V344.09M369.12 341.69V344.09M369.41 341.21V343.69M369.78 341.03V343.51M370.07 341.53V343.53M370.34 341.42V344.16M370.67 340.84V344.15M371.00 340.80V343.24M371.35 341.47V344.01M371.62 341.09V343.74M371.90 341.09V343.21M372.21 341.53V344.20M372.53 341.37V344.10M372.90 341.30V343.86M373.25 341.09V344.12M373.61 341.57V344.05M373.88 341.74V344.04M374.23 340.95V344.15M374.59 340.87V344.01M374.96 341.31V344.12M375.28 342.15V342.90M375.60 341.81V343.08M375.92 342.08V343.01M376.20 341.72V342.87M376.56 341.81V342.92M376.83 342.09V343.17M377.12 341.76V342.85M377.45 341.79V343.23M377.72 341.92V342.85M378.02 341.92V343.26M378.36 341.96V343.25M378.64 341.92V343.28M379.01 341.91V342.93M379.29 341.86V343.05M379.60 341.96V343.24M379.98 342.09V342.91M380.30 341.74V343.08M380.66 341.78V343.25M381.04 342.08V343.16M381.32 341.87V342.91M381.63 341.83V343.27M381.95 341.82V343.01M382.25 341.76V343.03M382.53 341.99V343.00M382.89 341.84V343.30M383.18 342.03V343.09M383.45 341.90V343.06M383.83 341.86V342.98M384.14 341.93V342.99M384.49 341.73V343.13M384.80 341.83V343.24M385.16 341.86V343.02M385.53 342.03V342.93M385.81 342.07V343.01M386.07 341.73V343.04M386.37 342.16V342.86M386.63 341.93V342.98M386.93 341.78V342.96M387.31 341.89V343.28M387.70 341.82V342.98M387.98 341.89V343.20M388.26 341.79V343.08M388.55 341.74V343.30M388.93 342.10V343.22M389.21 341.95V343.01M389.52 341.94V343.17M389.79 341.91V343.25M390.07 341.72V343.00M390.38 342.01V342.91M390.68 341.92V343.21M391.02 341.73V342.97M391.36 341.99V343.17M391.67 341.77V343.22M392.03 341.75V343.05M392.34 342.10V343.11M392.60 341.91V343.05M392.97 341.83V342.87M393.29 342.07V343.25M393.59 342.04V343.11M393.86 341.90V343.00M394.19 341.70V343.18M394.54 341.83V343.26M394.89 341.98V342.99M395.15 341.95V343.24M395.47 341.97V343.16M395.74 341.94V343.24M396.12 342.01V343.10M396.48 341.82V342.98M396.74 341.73V343.22M397.06 341.72V343.07M397.32 342.13V343.09M397.70 341.87V343.26M398.07 341.79V342.98M398.41 341.88V343.13M398.78 341.58V343.28M399.08 341.75V343.11M399.34 341.67V343.03M399.66 340.79V343.44M400.00 341.26V343.24M400.30 340.66V343.16M400.59 341.44V343.35M400.85 341.63V342.96M401.13 341.53V343.53M401.46 341.57V343.29M401.83 341.84V343.36M402.13 341.54V343.21M402.44 341.46V343.21M402.77 341.70V343.19M403.06 341.83V343.11M403.37 341.71V343.14M403.71 341.43V343.08M404.09 341.65V343.54M404.37 341.96V342.95M404.67 341.51V343.45M405.04 341.18V343.91M405.36 341.17V343.52M405.65 341.73V343.19M405.98 341.48V343.21M406.27 341.71V343.00M406.61 341.63V343.53M406.90 341.43V343.26M407.19 341.85V343.03M407.49 341.51V343.09M407.77 341.88V343.06M408.12 341.72V343.51M408.48 341.60V343.29M408.84 341.81V343.15M409.22 341.59V343.51M409.51 341.82V343.42M409.86 342.01V343.37M410.15 341.99V343.37M410.45 341.68V343.55M410.78 341.59V343.47M411.06 341.47V343.02" stroke="#000" stroke-width="0.5"/>
<line x1="61.7" y1="384.5" x2="410.5" y2="384.5" stroke="#555" stroke-width="0.7"/>
<path d="M144.37 381.75V387.64M147.08 383.47V386.70M144.53 382.30V385.64M142.21 381.27V387.01M142.81 382.26V387.83M144.68 383.15V386.37M147.39 381.01V387.09" stroke="#000" stroke-opacity="0.5" stroke-width="0.55"/>
<path d="M216.94 383.00V388.53M195.23 380.60V387.34M236.30 382.23V386.97M195.01 381.22V387.54M215.92 382.80V389.15M194.67 382.49V385.91M215.09 383.14V388.42M187.00 380.12V387.65M211.04 380.21V388.86M192.32 382.07V386.01M185.32 380.02V388.56M200.43 379.98V387.52M222.60 380.02V388.89M178.37 380.84V385.78M198.76 382.93V388.75M186.41 379.82V385.86M184.21 380.54V386.77M205.97 381.85V388.93M201.44 380.46V387.83M211.88 380.23V388.83M221.61 382.92V389.14M194.34 379.71V387.51M241.18 381.10V388.12M236.61 381.61V386.98M239.20 383.20V389.41M200.88 381.38V385.75M180.09 382.83V385.78M225.43 383.23V388.06M217.63 381.63V386.03M182.57 381.83V385.87M214.37 380.38V388.01M184.52 379.87V387.23M186.21 379.52V388.63M238.54 382.09V389.06M181.93 380.64V387.14M237.50 381.03V388.66M221.33 382.81V389.39M191.67 380.34V387.09M242.94 381.85V387.49M239.10 380.60V388.46M216.41 380.92V387.04M245.77 382.66V387.03M188.69 382.84V385.82M206.91 383.05V387.14M181.58 380.01V385.79M195.10 383.14V387.74M210.50 380.31V385.83M205.15 381.91V387.34M208.15 379.77V388.50M238.58 383.13V386.17M226.37 383.05V388.20M198.55 380.69V386.57M212.85 381.85V385.81M208.14 381.02V385.99M249.25 382.95V388.13M226.88 382.04V386.67M186.66 382.84V387.65" stroke="#000" stroke-opacity="0.45" stroke-width="0.55"/>
<path d="M256.31 383.39V387.53M250.37 383.10V385.57M252.30 383.73V386.81M259.60 383.14V387.50M262.68 382.82V386.18M261.88 383.65V388.34M261.73 382.63V386.07M250.63 381.95V387.25M259.46 383.01V387.60M259.16 382.60V386.93M260.88 383.22V385.53M262.19 383.70V386.02" stroke="#000" stroke-opacity="0.5" stroke-width="0.55"/>
<path d="M347.03 381.79V386.39M330.11 383.54V385.68M343.03 382.13V387.96M340.39 383.31V385.80M330.42 382.12V386.57M316.54 381.66V388.01M336.48 381.90V385.83M321.34 382.92V387.46M321.24 382.90V386.90M345.40 383.56V386.07M327.92 383.62V387.65M319.48 382.55V386.60M322.54 383.46V385.62M348.24 382.18V386.03M346.69 383.27V386.18M335.09 383.72V387.19M326.90 381.80V385.53M343.39 383.24V386.82M316.23 383.71V388.35M344.47 382.75V385.50M326.77 383.50V388.37M346.96 383.38V388.11M338.46 383.46V386.62M345.24 383.66V386.51M342.02 382.97V386.23M325.20 381.50V385.76M337.18 382.15V386.65M318.28 383.10V385.61M313.78 383.00V388.10" stroke="#000" stroke-opacity="0.5" stroke-width="0.55"/>
<path d="M352.91 381.70V388.42M363.05 381.61V387.04M352.89 382.61V388.01M362.77 382.99V385.82M366.61 381.29V388.14M362.66 383.55V386.32M368.82 382.19V385.59M362.08 381.49V385.87M373.48 381.67V387.53M373.58 382.70V385.81M371.25 382.83V385.59M370.95 383.48V388.29M375.52 383.15V386.14M374.62 382.46V387.53M355.00 382.22V386.04M366.56 383.07V386.07M360.42 382.74V386.56M361.90 381.57V385.53M367.75 382.98V385.83M352.84 383.26V387.77M372.28 382.02V388.18M367.87 382.51V387.91M370.46 383.61V388.05M360.24 382.29V387.31M367.65 382.53V386.01M351.45 382.52V386.54" stroke="#000" stroke-opacity="0.6" stroke-width="0.55"/>
<path d="M113.64 383.78V384.90M114.02 383.46V385.48M114.37 383.12V385.25M128.90 383.71V384.96M168.70 382.52V387.91M169.29 381.62V386.13M179.47 383.84V385.13M179.82 383.27V385.56M180.48 383.73V385.14M181.08 383.76V385.73M181.79 383.87V385.63M183.35 383.84V385.68M183.69 383.80V385.26M186.30 383.36V385.44M186.64 383.86V385.27M187.33 383.84V385.17M187.96 383.79V385.74M188.60 383.81V385.46M189.20 383.48V385.47M191.10 383.79V385.42M192.09 383.38V385.35M192.73 383.31V385.52M193.07 383.73V385.60M196.37 383.86V385.50M197.84 383.72V385.40M198.16 383.29V385.42M199.73 383.25V385.13M200.91 383.87V385.13M202.56 383.87V385.18M207.96 383.87V385.71M209.01 383.75V385.46M209.35 383.63V385.15M209.61 383.87V385.28M210.28 383.83V385.14M213.49 383.49V385.68M214.53 383.74V385.14M216.41 383.84V385.46M216.72 383.79V385.30M220.10 383.37V385.15M220.82 383.53V385.24M222.63 383.58V385.18M223.30 383.86V385.23M224.37 383.87V385.20M227.85 383.64V385.36M229.31 383.86V385.28M229.58 383.77V385.21M232.14 383.85V385.32M233.48 383.85V385.13M233.83 383.86V385.75M234.09 383.58V385.20M236.15 383.76V385.29M237.98 383.86V385.46M238.59 383.67V385.15M239.60 383.77V385.26M242.60 383.76V385.15M242.87 383.47V385.58M243.95 383.45V385.15M245.46 383.29V385.47M246.47 383.44V385.31M246.77 383.79V385.32M247.41 383.64V385.48M247.69 383.86V385.52M248.90 383.24V385.43M249.24 383.46V385.18M249.57 383.87V385.45M251.12 383.25V385.74M251.47 383.27V386.39M253.96 383.20V385.71M257.03 383.31V386.63M259.79 382.77V385.58M261.81 382.77V386.40M262.13 383.38V385.94M263.06 382.61V386.50M298.52 383.40V385.23M299.14 383.15V386.35M299.48 383.72V385.41M299.74 384.15V385.08M306.71 383.80V384.72M307.34 383.11V384.95M308.30 383.78V384.70M313.59 383.16V385.36M315.65 383.49V385.45M321.12 383.48V386.00M321.48 383.29V385.78M322.02 383.13V385.76M322.37 383.63V385.84M323.63 383.19V385.59M325.66 383.41V385.81M327.30 383.20V385.34M329.41 383.54V385.70M330.80 383.26V385.75M332.09 383.02V385.43M334.33 383.41V385.40M334.60 383.68V385.53M334.90 383.09V386.00M335.27 383.37V385.35M336.24 383.32V385.32M337.53 383.43V385.47M339.58 383.40V385.31M343.34 383.63V385.78M344.02 383.10V385.77M346.92 383.57V385.67M347.52 383.69V386.07M350.50 383.64V385.54M350.78 383.57V385.96M351.72 383.63V385.61M352.38 383.58V385.73M353.04 383.24V385.64M355.38 383.04V385.54M356.62 383.56V385.45M357.85 383.43V385.47M360.06 383.50V385.36M360.39 383.42V385.65M361.77 383.48V385.44M365.80 383.60V385.56M367.69 383.51V385.31M373.68 383.41V385.31M374.33 383.29V385.43M375.00 383.19V385.47" stroke="#000" stroke-opacity="0.4" stroke-width="0.4"/>
<path d="M124.75 384.5L125.08 377.50L125.32 377.50L125.65 384.5L125.32 391.00L125.08 391.00ZM130.30 384.5L130.48 379.50L130.72 379.50L130.90 384.5L130.72 389.50L130.48 389.50ZM136.00 384.5L136.18 380.50L136.42 380.50L136.60 384.5L136.42 388.50L136.18 388.50ZM142.25 384.5L142.38 380.50L142.62 380.50L142.75 384.5L142.62 388.50L142.38 388.50ZM143.75 384.5L143.88 380.50L144.12 380.50L144.25 384.5L144.12 388.50L143.88 388.50ZM145.25 384.5L145.38 380.50L145.62 380.50L145.75 384.5L145.62 388.50L145.38 388.50ZM146.75 384.5L146.88 381.00L147.12 381.00L147.25 384.5L147.12 388.00L146.88 388.00ZM152.20 384.5L152.38 380.50L152.62 380.50L152.80 384.5L152.62 388.50L152.38 388.50ZM154.70 384.5L154.88 380.50L155.12 380.50L155.30 384.5L155.12 388.50L154.88 388.50ZM161.65 384.5L161.88 381.00L162.12 381.00L162.35 384.5L162.12 388.00L161.88 388.00ZM163.15 384.5L163.38 380.50L163.62 380.50L163.85 384.5L163.62 388.50L163.38 388.50ZM168.30 384.5L168.78 381.00L169.02 381.00L169.50 384.5L169.02 388.00L168.78 388.00ZM183.20 384.5L183.38 378.50L183.62 378.50L183.80 384.5L183.62 390.50L183.38 390.50ZM189.25 384.5L189.38 380.50L189.62 380.50L189.75 384.5L189.62 388.50L189.38 388.50ZM192.75 384.5L192.88 381.50L193.12 381.50L193.25 384.5L193.12 387.50L192.88 387.50ZM198.05 384.5L198.18 380.50L198.42 380.50L198.55 384.5L198.42 388.50L198.18 388.50ZM325.75 384.5L325.88 382.50L326.12 382.50L326.25 384.5L326.12 388.50L325.88 388.50ZM332.75 384.5L332.88 382.50L333.12 382.50L333.25 384.5L333.12 388.50L332.88 388.50ZM376.70 384.5L376.88 380.50L377.12 380.50L377.30 384.5L377.12 388.50L376.88 388.50ZM378.65 384.5L378.88 380.50L379.12 380.50L379.35 384.5L379.12 388.50L378.88 388.50ZM380.65 384.5L380.88 380.50L381.12 380.50L381.35 384.5L381.12 388.50L380.88 388.50Z" fill="#000"/>
<path d="M113.64 384.07V384.87M114.02 383.82V384.88M114.37 383.70V384.98M114.74 384.27V384.92M128.90 384.15V384.95M129.18 383.93V385.01M129.55 383.77V384.85M129.87 384.11V384.95M167.70 384.19V384.81M168.08 383.53V385.39M168.43 383.07V385.78M168.70 382.52V386.08M168.99 382.90V386.47M169.29 383.27V385.77M169.67 383.90V385.11M170.03 384.22V384.88M178.06 383.84V385.07M178.43 383.84V385.16M178.77 383.90V385.06M179.15 384.04V384.84M179.47 383.96V385.06M179.82 383.83V385.09M180.15 384.22V385.15M180.48 384.20V385.11M180.78 383.84V385.11M181.08 384.02V385.06M181.43 383.85V384.94M181.79 383.90V385.00M182.16 384.07V385.12M182.50 383.85V384.95M182.79 383.97V384.81M183.08 383.83V384.86M183.35 383.80V384.88M183.69 383.84V385.02M184.07 384.12V384.92M184.34 383.81V384.94M184.68 383.83V384.83M184.96 383.90V384.80M185.24 384.10V384.81M185.54 383.81V385.06M185.92 384.12V384.90M186.30 383.91V385.19M186.64 383.85V384.85M186.97 383.96V384.97M187.33 383.88V384.81M187.66 384.11V385.07M187.96 383.90V385.18M188.25 384.20V384.89M188.60 383.82V385.02M188.90 384.13V384.97M189.20 384.00V384.87M189.51 384.15V384.94M189.88 383.99V385.19M190.16 383.94V385.06M190.51 384.20V385.00M190.78 384.19V384.89M191.10 384.05V385.07M191.42 383.81V385.18M191.72 383.96V385.04M192.09 384.11V385.01M192.47 384.13V385.10M192.73 383.86V385.16M193.07 383.96V384.92M193.35 383.99V384.93M193.73 383.84V384.94M193.98 383.97V385.15M194.25 384.00V384.84M194.62 384.07V385.15M194.98 384.10V385.17M195.37 384.21V384.78M195.69 384.01V384.84M196.03 383.93V385.03M196.37 384.17V385.00M196.67 384.04V384.93M196.94 383.93V384.83M197.22 383.88V385.04M197.51 384.03V385.12M197.84 384.08V385.07M198.16 383.95V385.05M198.51 383.82V385.00M198.81 384.05V384.94M199.09 383.98V384.94M199.43 384.05V385.15M199.73 383.86V384.88M199.99 383.85V384.78M200.31 384.09V384.92M200.62 384.09V385.00M200.91 384.16V385.13M201.30 384.00V385.11M201.68 384.04V384.96M201.93 384.03V385.12M202.25 383.82V384.99M202.56 384.16V384.98M202.83 384.00V385.11M203.20 384.05V385.08M203.51 383.83V384.85M203.88 383.81V385.14M204.19 383.90V385.16M204.52 383.83V384.93M204.78 383.84V385.07M205.07 384.11V385.01M205.37 384.01V384.99M205.64 383.85V384.79M206.00 383.99V385.11M206.27 384.03V384.93M206.60 383.92V385.19M206.96 383.81V385.18M207.26 383.98V385.12M207.63 383.89V385.08M207.96 384.11V385.08M208.33 384.06V384.82M208.69 384.13V385.14M209.01 384.07V384.82M209.35 384.09V385.13M209.61 384.11V385.13M209.91 383.95V385.05M210.28 384.04V385.07M210.65 384.04V385.10M210.95 384.10V384.92M211.26 384.17V385.15M211.63 383.85V385.10M211.97 384.01V385.14M212.24 384.13V384.88M212.61 383.97V385.15M212.94 384.08V385.07M213.20 384.02V385.05M213.49 383.82V385.14M213.87 383.91V384.98M214.21 383.94V384.89M214.53 384.17V384.94M214.86 384.07V385.14M215.14 383.86V385.05M215.51 384.21V384.98M215.79 383.98V385.16M216.13 384.11V385.19M216.41 383.88V384.95M216.72 383.97V384.86M217.09 384.00V384.95M217.43 383.88V385.13M217.72 384.15V385.08M218.09 383.83V385.02M218.47 384.16V384.97M218.80 383.94V384.88M219.08 384.02V384.89M219.42 384.02V384.88M219.76 384.06V384.93M220.10 384.19V385.09M220.47 384.19V385.02M220.82 383.88V384.86M221.13 384.04V384.97M221.43 384.14V385.01M221.79 383.90V385.18M222.09 383.87V384.85M222.36 383.93V385.03M222.63 383.91V385.14M222.98 383.81V384.78M223.30 383.81V385.17M223.66 383.87V385.04M224.02 383.84V385.07M224.37 383.90V385.18M224.66 384.02V384.82M224.97 384.07V384.85M225.24 383.85V384.93M225.51 384.02V385.12M225.82 383.84V384.88M226.14 384.07V384.96M226.48 384.00V385.03M226.85 383.90V384.94M227.19 383.83V384.98M227.54 384.05V384.95M227.85 383.85V384.96M228.23 383.82V384.99M228.57 383.98V385.05M228.94 383.84V385.13M229.31 384.08V385.18M229.58 384.08V385.06M229.96 384.17V385.03M230.23 384.04V384.97M230.56 383.96V385.01M230.90 383.98V384.86M231.20 383.85V384.86M231.50 383.93V385.14M231.83 383.82V384.91M232.14 383.93V384.86M232.43 383.87V384.87M232.80 383.91V385.17M233.16 384.19V385.03M233.48 383.89V385.11M233.83 383.86V384.84M234.09 383.95V385.16M234.43 383.99V384.87M234.75 383.81V385.06M235.09 384.18V384.79M235.43 383.87V385.14M235.78 383.92V384.82M236.15 383.96V385.13M236.48 383.85V385.02M236.80 383.91V385.05M237.09 383.85V384.96M237.39 383.80V384.90M237.69 383.84V385.11M237.98 383.89V385.00M238.32 383.87V384.83M238.59 383.95V384.91M238.95 384.12V384.93M239.24 384.06V385.13M239.60 383.84V385.19M239.89 383.85V384.98M240.16 384.00V385.07M240.47 383.83V384.94M240.75 384.11V385.02M241.03 383.98V385.00M241.35 383.87V384.91M241.61 384.13V385.07M241.94 383.93V384.96M242.24 383.95V385.10M242.60 383.86V385.20M242.87 383.99V385.12M243.25 383.88V384.90M243.58 384.07V385.13M243.95 383.84V384.98M244.22 383.84V384.91M244.52 383.90V384.89M244.79 384.08V385.11M245.12 383.83V384.81M245.46 384.03V385.19M245.80 383.82V385.00M246.11 383.89V385.14M246.47 383.92V385.12M246.77 384.14V385.06M247.05 384.09V384.83M247.41 384.08V384.93M247.69 383.86V384.79M247.96 383.89V384.90M248.23 383.86V384.97M248.57 383.95V385.01M248.90 383.81V384.91M249.24 383.99V384.79M249.57 383.98V384.88M249.86 383.97V385.05M250.14 383.66V385.56M250.45 383.52V385.57M250.78 383.90V385.12M251.12 383.64V385.52M251.47 383.32V385.24M251.86 383.95V385.28M252.23 383.56V385.35M252.58 383.36V385.59M252.92 383.43V385.40M253.30 383.33V385.64M253.61 383.66V385.32M253.96 383.42V385.50M254.34 383.49V385.30M254.71 383.59V385.53M255.02 383.44V385.18M255.38 383.30V385.41M255.76 383.42V385.62M256.04 383.40V385.09M256.33 383.41V385.48M256.65 383.75V385.70M257.03 383.89V385.02M257.30 383.59V385.62M257.59 383.81V385.29M257.92 383.46V386.95M258.26 383.70V385.87M258.61 383.44V385.29M258.91 383.49V385.67M259.23 383.48V385.39M259.49 383.41V385.40M259.79 383.37V385.59M260.12 383.43V385.53M260.43 383.84V385.64M260.78 383.61V385.35M261.16 383.45V385.49M261.45 383.73V385.57M261.81 383.47V385.33M262.13 383.73V385.61M262.45 383.44V385.01M262.74 383.61V385.02M263.06 383.33V385.17M263.38 383.60V385.63M263.70 383.65V385.21M264.00 383.94V385.37M264.37 383.88V385.30M264.75 383.73V385.16M298.22 384.18V384.71M298.52 384.13V384.92M298.85 383.23V385.39M299.14 383.65V385.18M299.48 384.05V384.86M299.74 384.30V384.83M306.39 384.24V384.55M306.71 384.10V384.66M307.02 383.82V384.68M307.34 383.54V384.86M307.66 383.18V384.82M307.99 383.58V384.71M308.30 384.21V384.60M308.62 384.23V384.57M313.30 383.78V385.31M313.59 383.79V385.30M313.92 383.83V385.19M314.19 383.96V385.38M314.57 383.97V385.08M314.92 383.82V384.93M315.28 383.65V384.94M315.65 383.72V385.23M315.97 383.83V384.94M316.28 384.00V385.23M316.55 383.79V384.88M316.88 383.95V385.37M317.14 383.72V384.91M317.47 383.75V385.38M317.75 383.81V384.95M318.06 383.76V384.92M318.37 384.10V385.25M318.72 383.62V384.94M319.05 383.85V385.31M319.32 383.77V385.33M319.66 384.02V385.39M319.91 383.76V385.37M320.18 383.72V385.17M320.44 383.98V385.32M320.77 383.76V385.11M321.12 384.12V385.24M321.48 383.93V385.37M321.74 383.96V385.19M322.02 383.85V385.35M322.37 383.91V385.22M322.64 383.81V384.93M322.98 384.04V385.35M323.32 384.07V385.32M323.63 384.07V385.30M323.93 383.86V385.06M324.30 383.80V385.11M324.68 384.00V385.20M325.01 383.97V385.00M325.34 384.07V384.95M325.66 383.86V385.06M325.97 383.85V385.27M326.32 384.14V385.05M326.59 384.10V385.23M326.93 383.67V385.08M327.30 383.62V385.07M327.56 383.72V385.26M327.83 383.73V385.03M328.17 383.91V385.10M328.51 383.67V384.91M328.79 383.92V385.24M329.13 383.83V385.19M329.41 383.90V385.14M329.67 383.91V385.37M329.94 383.64V385.36M330.23 383.85V384.98M330.49 383.88V384.97M330.80 383.67V385.32M331.09 383.68V384.92M331.43 383.69V385.38M331.78 383.62V385.37M332.09 383.70V385.18M332.37 383.92V384.89M332.64 384.14V385.38M332.98 383.90V385.09M333.33 383.91V385.32M333.69 383.87V385.13M334.01 383.90V385.23M334.33 384.07V385.40M334.60 383.97V385.13M334.90 384.09V385.07M335.27 383.65V385.16M335.65 383.98V385.21M335.91 383.72V385.16M336.24 383.70V384.95M336.55 383.73V384.97M336.89 383.99V385.07M337.26 383.82V385.33M337.53 383.65V385.14M337.78 383.93V384.96M338.08 383.62V384.91M338.34 383.89V385.09M338.62 383.93V385.33M338.94 383.79V385.04M339.20 383.83V385.18M339.58 383.78V384.96M339.88 383.70V385.15M340.20 383.91V384.94M340.51 383.73V385.21M340.83 383.87V384.95M341.12 383.85V385.25M341.40 383.75V384.98M341.79 383.61V385.16M342.11 383.70V385.02M342.41 383.89V384.92M342.71 383.80V385.19M343.06 383.72V385.37M343.34 383.66V385.35M343.71 384.08V385.30M344.02 383.97V385.04M344.31 383.71V385.32M344.68 383.77V384.92M344.98 383.99V385.23M345.36 383.85V385.20M345.61 383.93V385.36M345.98 384.08V385.31M346.27 383.90V385.18M346.61 383.74V385.03M346.92 383.67V385.22M347.26 383.98V385.01M347.52 383.82V385.30M347.89 383.73V385.29M348.20 383.64V385.38M348.55 384.09V385.00M348.91 384.10V385.35M349.17 383.72V385.27M349.50 384.00V385.13M349.81 383.83V385.08M350.13 383.89V385.19M350.50 383.93V385.00M350.78 384.00V385.15M351.07 383.79V385.25M351.45 383.82V385.01M351.72 383.87V384.91M352.09 384.07V385.38M352.38 384.11V385.07M352.71 383.97V385.38M353.04 383.95V385.11M353.39 383.75V385.16M353.69 383.94V384.93M354.02 383.64V385.14M354.28 383.84V385.17M354.65 383.80V385.25M355.03 384.04V385.32M355.38 383.69V384.94M355.74 384.04V385.18M356.01 383.76V385.04M356.29 383.74V385.21M356.62 383.69V384.87M356.94 383.78V385.09M357.23 383.92V385.17M357.52 383.69V385.26M357.85 383.75V385.33M358.14 383.65V385.05M358.49 383.67V384.97M358.78 383.69V384.88M359.15 384.10V385.05M359.43 383.61V385.06M359.74 383.78V384.95M360.06 384.04V385.02M360.39 383.78V385.21M360.71 384.12V384.87M361.05 383.95V385.29M361.39 384.07V385.22M361.77 384.08V385.21M362.13 384.05V385.00M362.49 383.94V385.39M362.84 384.10V385.28M363.11 384.01V385.05M363.40 383.79V385.04M363.72 384.12V384.91M364.00 383.87V384.88M364.29 383.76V385.29M364.66 383.77V385.24M364.98 383.84V385.09M365.24 383.71V385.22M365.53 383.96V385.05M365.80 383.76V385.11M366.07 383.77V385.36M366.42 384.09V384.91M366.78 384.01V385.03M367.12 383.96V385.34M367.41 383.80V385.32M367.69 383.78V385.40M367.97 383.68V385.37M368.27 384.06V385.24M368.62 383.93V385.16M368.89 383.96V385.33M369.27 383.65V385.01M369.56 384.05V385.21M369.83 383.71V385.04M370.14 383.75V385.34M370.45 383.67V385.30M370.76 384.11V385.12M371.05 383.61V385.32M371.42 383.82V385.34M371.78 384.08V384.93M372.05 383.90V384.90M372.41 383.62V385.38M372.72 383.94V385.15M373.06 383.96V385.37M373.34 383.93V384.99M373.68 383.92V385.31M373.98 383.77V385.25M374.33 383.88V385.21M374.66 383.84V385.02M375.00 383.85V384.89" stroke="#000" stroke-width="0.5"/>
<line x1="113.5" y1="318" x2="113.5" y2="411" stroke="#000" stroke-width="1" stroke-dasharray="1 1"/>
<rect x="156.4" y="318" width="12" height="99" fill="#b0ffff" style="mix-blend-mode:multiply"/><rect x="156.4" y="318" width="12" height="99" fill="#b0ffff" fill-opacity="0.35"/>
<path d="M178.5 318V418M190.5 318V418M178 318.5H191M178 417.5H191" fill="none" stroke="#000" stroke-width="1" stroke-dasharray="1 1"/>
<rect x="421" y="335.2" width="2.6" height="14.6" fill="#000"/>
<rect x="421" y="376.2" width="2.6" height="14.6" fill="#000"/>
<text x="0" y="0" font-size="9.1" text-anchor="start" fill="#000" transform="translate(428.2 346.4) scale(1.1 1)" >2 mV</text>
<text x="0" y="0" font-size="9.1" text-anchor="start" fill="#000" transform="translate(428.2 387.3) scale(1.1 1)" >2 mV</text>
<rect x="379.4" y="414.6" width="23.5" height="2.3" fill="#000"/>
<text x="0" y="0" font-size="9.1" text-anchor="middle" fill="#000" transform="translate(391.2 411.6) scale(1.1 1)" >2 s</text>
<text x="0" y="0" font-size="9.7" text-anchor="start" fill="#000" transform="translate(473.8 339.7) scale(1.06 1)" >Digastric</text>
<text x="0" y="0" font-size="9.7" text-anchor="start" fill="#000" transform="translate(473.8 350.4) scale(1.06 1)" >muscle</text>
<text x="0" y="0" font-size="9.7" text-anchor="start" fill="#000" transform="translate(473.8 382.6) scale(1.06 1)" >Masseter</text>
<text x="0" y="0" font-size="9.7" text-anchor="start" fill="#000" transform="translate(473.8 393) scale(1.06 1)" >muscle</text>
<line x1="516.1" y1="342.5" x2="646" y2="342.5" stroke="#555" stroke-width="0.65"/>
<path d="M558.47 341.02V342.83M535.64 342.10V342.82M594.28 341.26V343.14M620.45 341.67V343.61M595.08 341.57V342.89M571.50 341.69V343.50M545.93 341.85V343.49M525.31 341.57V342.93M602.51 341.49V342.84M610.96 341.73V343.01M627.37 341.23V343.00M604.14 342.02V343.18M526.82 341.43V343.60M598.76 342.08V343.18M577.09 341.68V342.88M552.24 341.68V342.83M603.70 341.91V342.98M527.90 341.85V343.62M554.01 342.04V343.03M638.86 342.05V343.02M543.25 341.37V343.13M528.87 341.11V343.01M605.22 341.67V343.55M523.66 341.92V342.98M550.44 341.17V343.17M561.14 341.60V343.52M590.11 341.67V343.32M596.00 341.73V343.10M533.21 341.69V343.56M555.85 341.78V343.27M592.80 341.98V343.11M611.44 342.08V342.85M614.23 341.05V342.83M526.68 341.45V342.98M601.38 342.09V343.12M537.10 341.81V343.36M582.36 341.12V343.52M596.56 341.13V342.90M577.74 341.83V343.29M530.56 341.08V343.05M617.91 340.99V343.63M566.79 341.12V343.70M533.01 341.28V343.39M575.56 341.87V342.89M569.58 341.01V343.08M549.27 341.46V343.11M595.80 341.67V342.98M520.71 341.18V343.32M547.76 341.61V343.24M581.51 341.05V343.45M555.90 341.81V343.28M537.19 341.00V342.82M580.99 341.88V343.19M522.02 341.93V343.69M618.47 341.93V343.12M520.32 342.02V342.91M643.96 341.84V342.95M524.58 342.03V343.69M612.25 341.02V343.51M617.77 341.90V342.89M551.17 342.07V342.89M609.61 341.62V342.80M555.68 341.13V343.53M610.86 341.30V343.60" stroke="#000" stroke-opacity="0.5" stroke-width="0.55"/>
<path d="M528.75 341.71V343.35M529.95 339.70V344.46M530.28 339.07V344.36M530.94 339.86V345.27M531.30 340.83V344.56M531.97 341.60V343.80M546.77 341.63V343.22M547.45 341.85V343.27M547.74 341.84V343.07M548.00 341.94V343.04M549.20 341.80V343.10M549.89 341.77V343.21M553.52 341.43V343.09M557.02 341.84V343.20M558.44 341.58V343.07M558.78 341.91V343.50M559.05 341.75V343.04M559.32 341.56V343.60M561.84 341.69V343.13M572.07 341.83V342.96M572.76 341.72V343.28M573.06 341.58V343.43M591.50 341.86V343.22M591.79 341.94V343.08M593.43 341.96V343.06M593.72 341.64V343.21M594.34 341.86V343.11M594.99 341.69V343.15M597.01 341.92V343.06M597.34 341.89V343.07M599.58 341.91V343.12M600.93 341.96V343.11M601.63 341.65V343.28M603.04 341.73V343.48M603.41 341.70V343.21M603.76 341.91V343.08M605.41 341.96V343.05M605.74 341.77V343.27M607.15 341.95V343.04M608.42 341.74V343.30M612.21 341.64V343.11M613.48 341.88V343.37M615.71 341.94V343.15M619.59 341.91V343.15M620.58 341.26V343.83M621.81 340.75V343.30M623.12 341.66V343.21M623.75 341.68V343.24M624.08 341.83V343.47M625.75 341.92V343.52M626.03 341.86V343.25M627.72 341.92V343.11M629.98 341.48V343.38M631.22 341.80V343.04M631.93 341.41V344.09M632.59 341.44V343.19M633.55 341.70V343.33M633.82 341.96V343.15M637.51 341.83V343.04M637.87 341.81V343.16M638.76 341.73V343.22M640.14 341.20V343.33M642.13 341.96V343.14M642.42 341.47V343.47M645.45 341.95V343.14" stroke="#000" stroke-opacity="0.4" stroke-width="0.4"/>
<path d="M584.45 342.5L584.68 338.50L584.92 338.50L585.15 342.5L584.92 344.00L584.68 344.00ZM585.10 342.5L585.28 339.00L585.52 339.00L585.70 342.5L585.52 343.50L585.28 343.50ZM600.40 342.5L600.58 338.00L600.82 338.00L601.00 342.5L600.82 343.50L600.58 343.50ZM617.10 342.5L617.28 340.70L617.52 340.70L617.70 342.5L617.52 343.50L617.28 343.50ZM544.70 342.5L544.88 339.70L545.12 339.70L545.30 342.5L545.12 343.50L544.88 343.50Z" fill="#000"/>
<path d="M528.45 342.14V342.92M528.75 341.92V342.97M529.08 341.98V343.57M529.37 341.07V343.65M529.69 340.97V343.33M529.95 340.82V344.27M530.28 341.67V343.40M530.63 340.59V344.42M530.94 341.07V344.17M531.30 341.76V344.12M531.67 341.63V343.78M531.97 341.87V343.04M532.35 342.27V342.69M542.72 342.30V342.73M543.10 341.73V343.13M543.37 341.72V343.52M543.67 341.10V343.75M544.01 340.91V343.58M544.30 341.07V344.04M544.60 340.56V343.98M544.85 340.97V343.57M545.17 340.76V343.92M545.47 341.06V343.87M545.77 341.09V343.79M546.15 341.40V343.27M546.43 341.80V343.17M546.77 341.98V343.02M547.12 342.08V342.99M547.45 341.98V342.76M547.74 341.99V342.99M548.00 342.19V342.88M548.32 342.09V342.98M548.60 341.93V342.74M548.89 342.08V342.80M549.20 342.23V342.98M549.53 341.91V343.05M549.89 342.01V342.90M550.27 341.91V342.98M550.64 342.26V342.80M550.97 342.19V342.99M551.28 342.08V342.85M551.66 342.09V343.09M551.99 342.14V343.09M552.30 342.12V343.10M552.59 342.06V342.81M552.90 342.13V343.04M553.16 342.04V342.87M553.52 342.14V342.87M553.85 342.06V342.99M554.20 342.19V343.03M554.53 342.11V342.88M554.84 342.10V343.02M555.10 342.14V342.93M555.47 342.04V342.75M555.78 342.03V343.01M556.10 341.93V342.91M556.46 342.16V342.88M556.73 341.95V343.01M557.02 341.96V343.07M557.34 342.11V342.82M557.70 342.22V342.85M558.06 342.00V342.76M558.44 341.90V343.01M558.78 341.91V343.01M559.05 342.02V342.92M559.32 341.97V342.87M559.69 341.98V343.21M560.03 341.66V343.60M560.29 341.49V343.13M560.61 341.36V343.43M560.90 341.61V343.19M561.22 341.96V343.11M561.57 342.03V343.23M561.84 341.95V342.82M562.21 342.26V342.71M572.07 342.32V342.74M572.42 342.24V342.96M572.76 341.90V343.12M573.06 341.85V343.41M573.34 342.01V342.96M573.60 341.90V342.92M573.94 342.16V342.80M588.99 342.14V342.70M589.30 342.07V342.77M589.57 341.94V343.20M589.93 341.95V342.91M590.25 341.84V343.07M590.60 341.90V342.90M590.96 342.15V342.80M591.23 341.97V343.05M591.50 342.21V342.86M591.79 342.22V343.01M592.09 342.20V342.92M592.45 342.03V343.07M592.80 342.03V342.93M593.14 341.91V343.02M593.43 341.96V342.91M593.72 342.00V342.87M593.98 342.23V342.81M594.34 341.91V342.98M594.64 342.25V342.97M594.99 342.21V342.96M595.37 341.96V342.81M595.74 342.07V342.92M596.09 341.92V342.96M596.43 342.20V343.05M596.69 341.91V342.76M597.01 341.93V342.91M597.34 342.10V343.03M597.72 341.95V343.06M598.02 342.18V343.05M598.28 342.17V342.80M598.66 342.16V343.04M599.00 341.94V342.99M599.30 342.25V342.95M599.58 342.09V342.88M599.90 341.99V342.91M600.26 341.92V343.01M600.59 341.96V342.90M600.93 342.05V342.87M601.26 341.97V343.02M601.63 342.13V343.02M602.01 341.93V343.01M602.36 342.02V342.84M602.73 342.15V343.09M603.04 342.26V342.91M603.41 342.02V342.91M603.76 342.10V343.07M604.10 341.93V342.83M604.45 342.15V342.78M604.81 341.94V343.02M605.12 342.04V343.07M605.41 342.02V343.09M605.74 342.02V342.83M606.09 341.98V342.78M606.45 341.91V342.88M606.79 341.92V342.85M607.15 342.06V342.80M607.43 341.98V342.82M607.78 341.72V343.28M608.15 341.61V343.24M608.42 342.13V342.84M608.76 341.98V342.79M609.09 342.10V342.80M609.39 341.99V342.95M609.77 342.22V343.03M610.06 342.20V342.94M610.41 341.92V342.91M610.73 341.99V343.04M611.03 342.11V343.06M611.29 342.08V342.85M611.56 342.13V342.80M611.94 342.04V342.91M612.21 342.10V343.04M612.46 342.14V342.93M612.79 342.23V342.85M613.10 342.06V342.79M613.48 341.99V342.95M613.79 342.02V343.07M614.13 342.23V342.76M614.44 341.94V343.05M614.74 341.90V343.03M615.01 341.96V342.92M615.40 342.15V342.92M615.71 342.13V343.00M615.98 342.09V343.07M616.26 342.25V343.05M616.59 342.19V342.85M616.97 342.24V342.83M617.26 341.97V342.90M617.53 342.05V343.09M617.80 342.20V342.99M618.11 342.06V342.97M618.39 342.03V342.86M618.74 342.19V342.94M619.00 341.97V342.92M619.33 341.96V342.78M619.59 342.09V342.89M619.93 341.67V342.98M620.28 341.49V343.35M620.58 341.88V343.42M620.90 341.68V343.46M621.23 341.41V343.02M621.55 341.63V343.03M621.81 342.01V343.05M622.10 341.75V343.11M622.46 342.01V342.91M622.75 342.14V343.06M623.12 342.17V342.81M623.38 342.23V343.05M623.75 342.23V342.98M624.08 342.07V343.22M624.35 342.08V343.15M624.72 341.76V342.91M625.08 342.18V343.06M625.38 342.26V343.03M625.75 342.06V342.82M626.03 342.21V342.90M626.37 342.17V342.81M626.71 342.07V342.97M626.99 342.13V342.94M627.36 342.04V343.00M627.72 341.95V342.88M628.09 342.14V342.99M628.46 342.20V343.03M628.73 342.01V343.05M629.00 341.91V342.91M629.34 342.14V342.92M629.61 342.22V343.02M629.98 342.22V342.88M630.35 342.05V342.80M630.63 342.24V342.97M630.90 342.05V343.08M631.22 342.20V343.03M631.60 341.92V343.03M631.93 341.56V343.17M632.23 341.80V343.32M632.59 342.02V342.83M632.91 341.92V342.97M633.20 341.98V342.86M633.55 342.02V342.81M633.82 341.90V342.81M634.16 341.94V342.82M634.43 342.03V342.86M634.69 341.98V342.81M634.99 342.02V342.99M635.36 341.92V342.87M635.72 342.19V342.92M636.10 342.19V343.00M636.45 342.26V343.08M636.82 342.00V342.92M637.16 342.11V343.02M637.51 342.02V343.04M637.87 341.97V343.05M638.14 342.16V343.09M638.42 341.95V343.00M638.76 342.15V342.87M639.11 342.05V342.92M639.46 342.05V343.03M639.78 341.77V342.90M640.14 342.02V342.92M640.45 341.99V343.15M640.78 342.24V343.04M641.11 341.95V342.98M641.48 342.02V342.76M641.86 342.16V342.78M642.13 342.10V342.79M642.42 341.98V342.91M642.77 342.15V342.91M643.08 342.24V342.93M643.42 341.94V343.01M643.79 341.92V343.04M644.13 342.00V343.07M644.44 342.16V342.89M644.79 341.97V342.84M645.15 342.10V342.79M645.45 342.18V342.87M645.72 342.25V342.96" stroke="#000" stroke-width="0.5"/>
<line x1="516.5" y1="383.5" x2="645.5" y2="383.5" stroke="#555" stroke-width="0.65"/>
<path d="M545.24 382.33V384.09M562.54 382.95V384.05M613.98 382.70V383.97M541.06 382.51V384.23M581.22 383.09V384.67M584.68 382.39V384.34M598.91 383.19V384.60M626.74 383.17V383.83M603.60 382.67V383.91M644.33 383.16V384.23M578.67 382.99V384.33M573.38 382.56V384.44M517.71 382.99V384.21M554.73 382.74V383.81M530.06 382.82V383.92M543.29 382.91V384.26M600.89 382.74V384.16M572.41 382.45V384.54M632.40 382.37V384.34M542.22 382.63V383.97M555.29 382.93V383.81M573.05 383.09V383.94M572.12 382.57V384.32M557.12 382.61V384.08M562.70 382.92V383.98M536.31 382.34V384.26M601.12 382.73V384.17M597.69 383.20V383.83M585.47 382.87V383.80M543.73 383.01V384.66M624.43 383.19V384.06M561.66 383.13V383.98M644.15 382.40V383.96M617.21 383.14V384.30M527.63 382.69V384.26M644.71 382.76V384.60M547.77 382.71V383.92M525.41 382.32V383.81" stroke="#000" stroke-opacity="0.4" stroke-width="0.55"/>
<path d="M538.73 382.75V384.50M553.00 383.14V384.01M566.88 382.97V384.24M567.19 382.62V384.57M568.47 382.18V384.59M568.74 382.40V384.24M583.42 382.69V384.31M585.33 381.18V385.60M586.02 381.21V385.68M586.38 382.58V384.91M586.68 382.99V384.09M598.02 383.06V384.05M600.93 382.28V384.69M614.87 382.54V384.96M616.85 382.44V385.17M617.17 382.67V384.64M632.25 381.94V386.93" stroke="#000" stroke-opacity="0.4" stroke-width="0.4"/>
<path d="M584.45 383.5L584.78 377.20L585.02 377.20L585.35 383.5L585.02 390.90L584.78 390.90Z" fill="#000"/>
<path d="M518.74 383.13V383.78M519.03 382.92V384.05M519.36 382.75V384.00M519.71 382.99V384.25M520.08 383.14V383.77M537.75 383.10V383.80M538.10 382.98V384.01M538.41 383.05V384.32M538.73 382.76V383.95M539.03 383.14V383.92M539.32 383.24V383.85M553.00 383.29V383.83M553.32 382.88V384.03M553.59 382.70V383.92M553.96 382.38V384.61M554.30 382.64V384.00M554.68 383.03V384.09M554.97 383.14V383.70M566.88 383.19V383.76M567.19 383.10V383.97M567.52 382.92V384.17M567.83 382.58V384.84M568.17 382.35V384.60M568.47 382.62V384.54M568.74 383.14V384.21M569.04 383.27V383.90M583.42 383.09V383.97M583.78 382.83V384.59M584.05 382.35V384.41M584.36 382.03V384.94M584.68 382.29V384.53M584.96 382.07V385.31M585.33 381.77V384.93M585.70 382.22V384.93M586.02 382.23V384.81M586.38 382.91V384.04M586.68 383.33V383.76M598.02 383.16V383.69M598.37 382.92V383.90M598.69 382.49V384.37M599.07 382.39V384.81M599.33 382.12V384.14M599.64 382.80V384.42M599.95 382.33V384.22M600.25 382.30V384.19M600.56 382.76V383.95M600.93 383.16V383.99M614.54 383.01V383.90M614.87 382.90V384.50M615.20 382.53V384.48M615.58 382.46V385.06M615.87 382.59V385.46M616.18 382.50V385.47M616.55 382.77V384.62M616.85 382.53V384.67M617.17 383.02V384.20M617.48 383.11V384.11M630.05 383.25V384.10M630.38 382.85V384.41M630.73 382.70V385.08M631.00 382.40V386.04M631.32 382.62V386.30M631.62 382.21V385.52M631.93 382.35V385.33M632.25 382.85V385.97M632.57 382.81V385.04M632.82 382.74V384.80M633.16 383.19V384.18" stroke="#000" stroke-width="0.5"/>
<rect x="655.3" y="334.1" width="2.5" height="17.5" fill="#000"/>
<rect x="655.3" y="375" width="2.5" height="17.5" fill="#000"/>
<text x="0" y="0" font-size="9.1" text-anchor="start" fill="#000" transform="translate(661 346.4) scale(1.1 1)" >2 mV</text>
<text x="0" y="0" font-size="9.1" text-anchor="start" fill="#000" transform="translate(661 387.3) scale(1.1 1)" >2 mV</text>
<rect x="623.3" y="415.5" width="24.9" height="2.3" fill="#000"/>
<text x="0" y="0" font-size="9.1" text-anchor="middle" fill="#000" transform="translate(635.8 411.6) scale(1.1 1)" >0.2 s</text>
<text x="0" y="0" font-size="9.6" text-anchor="start" fill="#000" transform="translate(61 477.3) scale(1.06 1)" >Illumination during the chewing stage</text>
<text x="0" y="0" font-size="9.7" text-anchor="start" fill="#000" transform="translate(15.2 513) scale(1.06 1)" >Digastric</text>
<text x="0" y="0" font-size="9.7" text-anchor="start" fill="#000" transform="translate(15.2 523.5) scale(1.06 1)" >muscle</text>
<text x="0" y="0" font-size="9.7" text-anchor="start" fill="#000" transform="translate(15.2 558.7) scale(1.06 1)" >Masseter</text>
<text x="0" y="0" font-size="9.7" text-anchor="start" fill="#000" transform="translate(15.2 569.4) scale(1.06 1)" >muscle</text>
<line x1="60.2" y1="512.5" x2="408.6" y2="512.5" stroke="#222" stroke-width="0.8"/>
<path d="M64.32 510.02V513.93M82.61 508.78V515.90M73.19 509.65V513.86M60.54 505.62V514.01M82.16 508.89V516.21M63.35 506.10V514.37M68.55 507.92V513.97M65.86 506.04V514.48M68.88 506.27V514.29M64.62 509.67V514.83M68.53 507.13V515.16M80.03 510.38V515.95M79.27 509.59V513.79M70.19 510.14V515.12M76.42 510.22V513.98M71.13 509.88V514.31M70.24 510.13V513.86M68.43 508.26V517.19M72.85 510.31V514.28M77.17 507.66V516.88M82.14 505.58V513.96M81.72 507.90V514.34M64.09 505.53V514.25M62.09 509.43V517.13M70.71 506.51V513.88M70.53 509.15V514.23M75.31 508.90V513.99M82.64 508.18V514.15M60.45 507.05V515.33M60.76 508.25V516.29M72.45 509.59V515.27M73.99 507.07V514.05M78.52 504.92V516.29M79.75 508.87V517.03M64.34 509.63V515.67M80.76 510.27V514.26" stroke="#000" stroke-opacity="0.55" stroke-width="0.55"/>
<path d="M91.70 509.96V513.58M92.55 508.67V514.68M96.67 510.10V514.96M91.57 507.75V513.77M94.12 509.68V515.83M94.21 507.54V514.79M92.69 508.29V513.70M97.00 509.90V513.76" stroke="#000" stroke-opacity="0.5" stroke-width="0.55"/>
<path d="M124.34 510.18V514.43M113.83 508.68V513.52M114.36 510.74V515.85M108.00 508.97V514.02M115.72 509.18V515.43M110.34 510.48V513.69M124.32 510.78V513.73M116.88 509.09V516.07M108.97 510.50V513.79M117.96 509.65V514.44M123.10 508.71V515.97M124.27 510.38V516.28M114.93 511.04V516.17M109.77 511.10V514.10M112.91 507.18V516.00M115.14 509.32V515.92M121.72 508.75V514.76M109.98 510.47V515.24M117.97 508.03V516.11M124.36 510.64V513.61M123.26 509.14V513.83M119.77 510.42V513.96" stroke="#000" stroke-opacity="0.5" stroke-width="0.55"/>
<path d="M131.30 509.06V515.31M128.66 507.95V515.13M132.25 508.32V515.74M128.09 509.29V515.31M134.38 508.44V513.82M136.63 507.71V513.95M131.88 506.74V513.89M131.68 506.72V516.12M130.09 507.98V514.29M133.97 507.81V513.71M130.00 510.39V514.04" stroke="#000" stroke-opacity="0.5" stroke-width="0.55"/>
<path d="M141.70 511.58V513.95M143.81 511.67V514.36M146.68 510.65V513.84M145.37 510.98V513.48M144.15 511.74V514.60" stroke="#000" stroke-opacity="0.5" stroke-width="0.55"/>
<path d="M150.63 510.68V516.35M154.87 509.12V515.19M153.94 509.60V516.37M150.87 509.38V514.13M151.29 509.18V515.05M155.45 508.98V515.01M150.89 511.49V514.83" stroke="#000" stroke-opacity="0.5" stroke-width="0.55"/>
<path d="M239.80 510.56V513.38M170.95 510.87V514.80M170.88 510.70V513.73M238.41 507.56V513.31M181.41 507.82V515.61M184.69 510.34V514.33M201.08 510.05V514.22M195.19 511.16V513.40M186.01 511.08V514.60M237.03 510.59V515.07M240.10 510.32V514.25M188.49 507.84V514.43M175.39 510.92V514.79M207.29 508.82V513.65M246.63 508.44V513.41M226.48 510.81V514.83M247.28 508.48V513.66M179.41 509.05V514.44M183.70 510.81V514.49M180.80 509.18V513.68M195.19 510.02V514.36M239.68 511.21V514.88M191.60 510.50V514.64M236.51 509.26V515.40M190.04 510.43V514.71M195.41 510.91V513.65M244.16 508.32V514.86M262.06 508.47V513.82M200.63 508.80V513.36M228.68 511.09V513.35M219.56 510.93V515.49M254.28 509.88V513.59M181.92 509.70V514.33M205.15 508.82V514.35M244.55 511.05V513.38M207.46 509.79V513.70M234.34 510.72V513.84M216.04 508.84V515.01M205.99 509.93V515.48M259.69 509.24V513.43M214.02 509.16V513.76M174.07 507.59V515.42M182.81 509.86V514.59M199.15 511.13V514.95M244.11 509.97V513.40M208.11 511.08V515.59M175.39 510.51V515.00M183.40 511.05V513.38M186.16 509.60V515.19M186.65 510.86V514.99M211.16 510.33V513.46M193.69 507.64V513.45M195.29 508.71V515.37M256.86 509.83V515.56M228.19 510.50V514.19M238.88 508.74V513.47M188.99 507.70V513.43M248.18 510.33V513.69M194.87 509.85V515.67M184.68 508.19V513.85M187.00 508.69V513.89M188.41 510.04V515.16M252.92 509.42V513.31M243.41 509.29V515.39M261.42 510.37V515.24M248.71 510.58V513.95M206.28 510.28V513.98M181.03 510.70V515.42M209.71 509.17V515.35M242.66 510.65V515.45M247.30 507.55V514.89M242.59 508.38V513.70M233.14 510.18V515.21M183.26 509.57V513.88M248.87 510.31V515.22M251.47 508.08V513.48M260.10 508.70V514.75M232.81 511.18V515.30M222.81 509.90V513.89M245.27 508.52V515.30M190.95 510.33V513.69M180.09 510.37V513.32M246.57 510.70V513.38M176.96 508.71V513.59M214.63 510.10V515.10M261.61 510.43V514.62M255.95 509.84V515.39M240.57 510.43V515.31M225.25 511.05V514.50M249.69 509.65V514.23M210.27 508.07V514.71M190.36 510.25V513.94M262.05 508.91V513.46M257.82 511.20V514.51M211.79 508.81V514.10" stroke="#000" stroke-opacity="0.5" stroke-width="0.55"/>
<path d="M271.65 510.49V514.99M276.52 510.94V513.57M276.21 509.66V513.56M277.18 509.03V514.01M273.66 509.94V515.30M272.41 511.07V513.78M276.13 511.33V514.28" stroke="#000" stroke-opacity="0.5" stroke-width="0.55"/>
<path d="M288.50 508.33V513.58M292.61 506.50V514.61M291.16 510.50V515.70M288.96 507.85V515.56M287.26 506.94V513.71M284.21 509.16V515.66M292.10 506.76V514.47M292.39 508.88V513.59M289.68 507.61V514.24M289.42 510.22V513.87M287.78 509.11V514.35M284.83 510.99V514.02M290.45 507.91V513.78" stroke="#000" stroke-opacity="0.5" stroke-width="0.55"/>
<path d="M297.35 510.80V513.16M303.25 509.78V513.19M302.95 510.28V514.03M305.11 510.31V513.28M307.25 509.72V513.03M309.05 510.97V513.06M294.18 510.08V513.90M295.42 510.93V513.84M309.96 511.20V514.06M297.17 511.47V513.14M299.97 510.55V513.32M295.75 511.44V513.06M296.28 511.25V513.62" stroke="#000" stroke-opacity="0.5" stroke-width="0.55"/>
<path d="M332.30 509.54V514.79M346.51 509.51V516.76M337.49 510.62V515.33M331.60 510.72V513.74M341.62 507.18V514.66M335.37 509.77V514.49M341.43 509.90V513.92M344.56 509.13V513.63M344.29 508.39V514.50M340.34 507.42V514.66M336.79 510.27V515.19M340.93 508.36V516.78M331.62 510.01V516.36M343.24 509.05V515.66M335.12 507.29V515.17M336.25 510.67V513.83M345.16 508.04V513.66M334.82 509.54V514.98M335.54 507.55V514.49M338.58 507.37V515.51M337.58 510.14V514.61M339.96 508.11V514.21M335.67 509.92V514.53" stroke="#000" stroke-opacity="0.5" stroke-width="0.55"/>
<path d="M404.82 511.04V513.28M390.31 510.42V513.14M399.25 511.86V513.18M383.49 510.46V513.12M387.70 511.83V513.27M400.34 510.65V514.33M405.67 511.01V514.35M384.24 510.18V513.51M386.82 510.59V514.23M391.64 511.79V514.26M400.84 510.92V514.45M382.95 511.83V513.10" stroke="#000" stroke-opacity="0.5" stroke-width="0.55"/>
<path d="M60.47 509.78V514.66M61.78 510.31V514.87M62.44 510.25V515.66M63.05 509.63V515.26M63.69 509.82V514.66M65.70 510.31V514.67M67.38 509.83V515.41M69.00 510.33V514.75M69.27 510.29V514.68M70.73 508.39V515.26M73.76 510.23V514.74M74.36 509.40V516.45M74.72 508.99V514.90M75.46 510.29V516.43M76.15 510.34V516.70M78.41 508.96V514.72M79.05 509.66V514.79M81.08 509.92V514.67M82.02 508.38V515.00M82.33 509.94V515.23M82.89 510.10V515.50M91.52 509.36V514.67M92.09 510.65V514.30M94.60 510.67V514.31M94.95 509.43V515.66M95.99 509.02V514.47M96.61 510.57V514.31M104.56 509.62V513.36M109.34 510.18V515.64M110.28 509.88V516.11M110.66 508.41V514.76M116.50 508.57V515.19M118.02 510.17V516.68M120.83 509.02V514.78M121.20 510.20V515.53M122.47 510.21V516.65M124.49 509.09V514.85M124.87 509.96V515.62M131.91 509.11V516.47M132.25 509.85V516.64M133.86 510.33V514.66M134.57 509.80V515.75M135.80 510.21V514.71M142.15 510.44V514.61M142.48 510.31V515.39M143.41 509.56V514.81M150.13 510.20V515.01M152.61 510.15V514.50M155.39 510.38V514.99M155.68 508.78V515.39M156.05 509.96V515.28M158.27 512.22V512.88M170.99 510.63V514.97M171.31 510.53V514.46M172.18 510.60V514.30M173.56 510.58V514.40M176.11 509.84V515.02M177.29 509.41V515.49M177.89 510.52V514.62M179.46 509.49V514.35M180.54 509.82V514.75M181.46 509.28V514.30M184.08 510.59V514.49M184.41 508.99V515.26M185.34 510.43V514.30M186.62 509.76V515.69M195.91 510.60V515.38M197.71 510.31V514.34M204.18 509.62V515.80M205.41 509.52V514.90M206.42 510.66V514.30M206.95 509.77V514.41M207.65 509.99V515.21M208.95 510.46V514.90M213.49 510.04V515.13M216.01 510.06V514.51M217.42 510.63V514.36M218.00 510.06V514.58M219.58 509.59V515.21M219.92 509.67V515.89M220.53 510.28V514.35M220.82 509.77V514.37M222.36 509.78V514.85M225.78 510.11V514.33M226.06 510.69V514.31M226.40 510.02V515.20M226.76 509.73V514.60M227.47 509.21V514.71M229.55 509.02V514.39M230.09 510.70V514.95M230.42 509.34V515.23M230.97 510.07V515.63M231.25 509.47V515.88M236.00 510.67V514.33M236.29 510.69V514.84M237.27 510.61V514.77M240.37 509.33V514.30M242.63 509.18V514.49M242.99 510.37V515.79M247.48 510.40V515.42M248.14 510.25V514.85M248.76 509.66V514.32M249.36 509.63V514.49M251.83 510.53V515.68M252.15 510.47V514.36M252.53 510.19V514.57M255.04 509.80V514.42M255.41 510.03V514.38M256.40 510.64V515.60M257.00 510.53V514.39M259.29 510.65V514.37M261.41 509.83V514.58M261.76 509.09V514.62M262.78 509.66V514.30M263.51 510.69V514.53M263.82 509.80V515.11M265.68 510.69V514.44M265.97 510.51V514.70M271.60 510.52V515.67M272.69 509.17V514.68M274.29 510.13V516.34M274.56 509.49V514.48M276.22 510.31V514.90M276.98 509.61V515.21M278.99 511.12V513.65M279.57 511.24V513.59M280.51 510.42V513.92M280.86 511.36V513.73M282.81 511.03V513.59M283.84 511.41V514.27M284.77 510.09V514.71M285.09 510.27V516.11M285.43 508.80V514.99M286.08 510.28V514.94M286.65 509.88V516.76M287.53 509.66V515.94M289.84 510.34V516.30M291.15 509.61V516.77M292.36 509.55V516.27M293.69 511.21V514.33M295.59 510.64V513.68M297.93 510.66V513.68M299.07 510.20V513.96M300.90 510.66V514.15M303.94 511.20V514.66M304.29 511.27V514.40M304.63 511.11V513.68M306.50 511.25V513.68M308.38 510.90V514.67M308.67 511.28V513.69M309.03 510.77V513.79M321.68 511.79V513.17M323.38 511.91V513.37M331.13 509.20V514.50M331.40 509.60V515.48M332.32 508.58V514.63M332.94 510.34V515.97M333.30 510.51V515.05M337.78 509.56V514.48M339.45 510.09V515.53M341.05 510.48V514.63M342.37 509.29V514.66M342.99 510.00V514.50M343.63 508.76V514.70M343.99 510.50V516.01M344.27 510.09V514.53M344.59 510.20V514.56M345.59 509.41V514.53M348.08 511.65V513.40M353.20 510.36V513.53M354.15 511.28V513.51M354.46 511.63V512.86M364.94 510.27V514.60M365.22 511.15V514.32M366.59 510.94V514.47M367.31 511.22V513.67M367.89 511.21V513.89M370.11 510.53V514.05M370.41 511.32V514.02M382.80 511.14V513.76M383.12 510.38V513.78M383.73 510.35V514.58M384.06 510.92V513.99M384.63 510.29V515.01M385.87 510.56V514.10M386.19 511.15V514.16M386.91 511.19V513.76M388.24 511.23V513.79M388.95 511.23V514.16M389.27 510.20V514.40M389.96 511.24V513.82M391.34 511.17V514.79M391.64 511.19V514.02M392.55 510.71V514.36M393.13 511.05V514.54M393.49 511.23V514.96M393.85 510.15V513.82M394.75 510.42V513.79M401.34 511.03V513.76M404.78 511.16V513.76M405.80 510.81V513.92M406.42 509.48V514.36M407.62 511.67V513.33" stroke="#000" stroke-opacity="0.4" stroke-width="0.4"/>
<path d="M68.00 512.5L68.38 492.50L68.62 492.50L69.00 512.5L68.62 524.50L68.38 524.50ZM64.20 512.5L64.48 499.00L64.72 499.00L65.00 512.5L64.72 517.50L64.48 517.50ZM66.10 512.5L66.38 503.50L66.62 503.50L66.90 512.5L66.62 518.50L66.38 518.50ZM70.60 512.5L70.88 500.50L71.12 500.50L71.40 512.5L71.12 518.50L70.88 518.50ZM73.60 512.5L73.88 502.50L74.12 502.50L74.40 512.5L74.12 516.50L73.88 516.50ZM76.60 512.5L76.88 504.50L77.12 504.50L77.40 512.5L77.12 516.50L76.88 516.50ZM80.10 512.5L80.38 503.50L80.62 503.50L80.90 512.5L80.62 516.50L80.38 516.50ZM92.60 512.5L92.88 504.80L93.12 504.80L93.40 512.5L93.12 517.20L92.88 517.20ZM110.60 512.5L110.88 506.50L111.12 506.50L111.40 512.5L111.12 517.50L110.88 517.50ZM113.60 512.5L113.88 506.20L114.12 506.20L114.40 512.5L114.12 517.90L113.88 517.90ZM117.60 512.5L117.88 506.50L118.12 506.50L118.40 512.5L118.12 516.50L117.88 516.50ZM121.10 512.5L121.38 506.50L121.62 506.50L121.90 512.5L121.62 516.50L121.38 516.50ZM129.60 512.5L129.88 505.50L130.12 505.50L130.40 512.5L130.12 517.50L129.88 517.50ZM133.60 512.5L133.88 506.50L134.12 506.50L134.40 512.5L134.12 516.50L133.88 516.50ZM153.00 512.5L153.38 500.00L153.62 500.00L154.00 512.5L153.62 519.50L153.38 519.50ZM203.60 512.5L203.88 505.50L204.12 505.50L204.40 512.5L204.12 515.50L203.88 515.50ZM266.10 512.5L266.38 508.50L266.62 508.50L266.90 512.5L266.62 515.50L266.38 515.50ZM310.00 512.5L310.38 501.50L310.62 501.50L311.00 512.5L310.62 519.50L310.38 519.50ZM314.10 512.5L314.38 507.00L314.62 507.00L314.90 512.5L314.62 516.00L314.38 516.00ZM341.60 512.5L341.88 507.50L342.12 507.50L342.40 512.5L342.12 516.00L341.88 516.00Z" fill="#000"/>
<path d="M60.20 510.96V513.78M60.47 510.67V514.10M60.78 511.37V513.67M61.14 511.27V513.89M61.52 510.61V514.15M61.78 510.27V513.99M62.14 511.17V514.39M62.44 510.65V513.62M62.75 510.97V514.40M63.05 510.34V514.54M63.42 510.42V513.99M63.69 510.82V514.61M64.03 510.38V514.38M64.32 510.46V514.41M64.64 510.29V514.84M64.98 511.39V514.54M65.36 510.31V513.99M65.70 511.47V514.24M66.06 511.26V513.93M66.43 511.35V514.22M66.79 510.31V514.74M67.10 510.91V514.76M67.38 511.18V513.91M67.67 511.52V514.18M68.00 510.15V514.53M68.33 510.49V513.60M68.69 510.25V514.66M69.00 511.31V514.46M69.27 510.93V513.60M69.57 511.46V514.75M69.85 511.06V514.08M70.12 510.28V514.89M70.44 511.34V513.69M70.73 510.30V513.79M71.00 510.66V513.54M71.39 510.26V514.54M71.69 511.20V514.63M72.04 510.95V513.89M72.43 510.27V514.67M72.78 511.10V514.31M73.04 511.46V513.98M73.38 510.15V514.22M73.76 510.15V514.10M74.05 510.55V514.78M74.36 510.52V514.66M74.72 510.40V514.26M75.08 510.13V514.15M75.46 510.43V513.81M75.81 511.23V514.70M76.15 510.92V514.35M76.49 510.68V514.82M76.86 510.30V513.87M77.15 511.08V514.40M77.46 511.26V514.80M77.78 510.60V514.79M78.15 510.71V514.33M78.41 510.79V513.83M78.73 510.43V514.36M79.05 510.64V514.65M79.34 510.37V514.30M79.69 510.20V514.21M80.02 510.70V514.53M80.34 510.74V514.83M80.71 510.17V513.95M81.08 510.29V513.75M81.37 511.36V514.50M81.74 511.22V514.56M82.02 510.24V514.86M82.33 510.11V514.70M82.63 511.15V514.04M82.89 510.64V514.21M91.52 511.53V514.36M91.82 510.95V514.43M92.09 510.98V513.68M92.37 511.23V513.76M92.66 511.01V513.60M92.92 511.30V513.34M93.25 511.38V513.96M93.52 510.68V513.91M93.88 511.13V514.00M94.26 511.19V514.34M94.60 511.12V513.82M94.95 511.30V513.58M95.29 511.26V513.69M95.61 511.43V513.93M95.99 510.53V514.04M96.29 511.69V513.86M96.61 511.37V513.99M96.91 511.61V513.36M103.85 511.72V512.82M104.21 510.81V513.17M104.56 510.84V512.91M104.92 511.15V512.97M105.26 511.97V512.60M108.06 510.42V513.87M108.44 510.72V514.13M108.78 510.38V514.44M109.05 511.23V513.94M109.34 510.62V513.50M109.69 510.49V514.00M110.00 510.76V513.72M110.28 510.13V514.83M110.66 510.78V513.96M110.99 511.24V514.32M111.27 510.31V514.30M111.61 511.09V514.78M111.87 511.52V514.28M112.17 511.24V514.07M112.53 511.53V514.60M112.80 510.19V514.56M113.10 510.89V514.14M113.43 510.90V514.19M113.69 511.31V514.71M114.06 511.07V513.96M114.35 510.89V514.85M114.71 510.54V514.80M115.03 510.43V513.59M115.35 510.39V514.47M115.61 510.18V513.74M115.91 510.99V514.59M116.20 510.51V514.01M116.50 511.20V513.80M116.79 510.21V514.90M117.06 511.15V513.67M117.33 511.08V513.95M117.70 510.40V514.17M118.02 510.88V514.06M118.29 510.71V514.45M118.58 511.03V513.93M118.89 510.15V514.72M119.15 511.45V514.55M119.47 510.60V513.46M119.84 510.30V514.73M120.13 511.30V513.78M120.47 510.17V514.57M120.83 510.77V514.35M121.20 510.53V514.02M121.54 511.29V513.63M121.88 510.86V513.89M122.13 510.99V514.23M122.47 510.24V514.25M122.82 510.98V513.53M123.16 510.82V513.95M123.53 511.10V513.56M123.84 510.48V513.85M124.19 510.71V513.87M124.49 510.31V513.91M124.87 510.72V513.84M128.34 510.42V514.90M128.64 511.17V514.83M128.90 510.50V514.12M129.19 511.19V513.47M129.50 510.15V513.73M129.78 510.91V514.69M130.09 511.41V514.25M130.46 511.15V514.10M130.72 510.83V514.68M130.98 511.44V513.62M131.27 510.40V514.78M131.56 510.15V514.44M131.91 510.97V513.97M132.25 510.17V513.53M132.63 510.87V513.94M132.95 510.18V513.83M133.30 510.31V514.63M133.59 510.96V514.10M133.86 511.15V514.61M134.19 510.95V514.88M134.57 511.04V513.66M134.88 511.09V514.18M135.23 510.40V514.72M135.50 510.29V514.00M135.80 510.41V513.86M136.17 510.61V514.05M136.55 510.70V513.91M136.89 510.11V513.69M141.81 510.36V513.60M142.15 511.23V513.97M142.48 510.68V513.75M142.76 511.10V513.75M143.08 511.47V513.59M143.41 510.70V513.57M143.70 511.11V514.65M144.03 511.04V514.03M144.42 511.03V513.74M144.70 511.60V514.60M145.06 510.98V514.57M145.34 511.57V514.20M145.71 511.43V514.28M146.03 511.34V513.86M146.40 511.40V514.13M146.78 511.26V513.63M149.77 510.53V513.78M150.13 510.48V513.72M150.44 511.37V513.81M150.81 511.52V514.21M151.07 510.47V513.62M151.40 510.71V513.89M151.73 510.95V514.33M152.04 511.55V514.28M152.33 510.56V514.46M152.61 510.89V513.60M152.92 510.85V513.48M153.18 510.59V514.46M153.45 510.86V513.99M153.72 510.45V514.70M154.08 511.26V514.68M154.46 510.39V513.69M154.83 511.47V513.95M155.11 510.41V513.85M155.39 510.86V514.61M155.68 511.53V513.72M156.05 511.30V514.47M156.35 510.44V514.20M156.72 511.69V514.13M157.03 510.73V513.69M157.36 511.49V513.84M157.64 511.50V513.02M157.93 511.87V513.26M158.27 512.30V512.62M170.73 511.32V513.42M170.99 510.96V514.44M171.31 510.86V514.32M171.57 510.61V514.29M171.83 510.65V514.25M172.18 511.06V513.67M172.48 510.75V514.20M172.83 511.28V514.05M173.18 510.99V513.72M173.56 511.35V514.38M173.91 510.55V514.25M174.28 511.21V513.68M174.62 510.81V514.17M174.94 510.66V514.20M175.25 510.77V514.07M175.53 510.88V513.46M175.81 511.63V513.50M176.11 511.45V513.37M176.45 510.76V513.44M176.75 510.68V514.32M177.02 510.63V514.42M177.29 511.36V513.51M177.62 510.67V514.13M177.89 511.51V514.26M178.15 511.30V513.74M178.46 511.22V514.47M178.82 510.88V513.37M179.13 510.72V513.81M179.46 511.35V514.37M179.71 511.37V514.27M179.97 511.02V513.98M180.25 511.02V513.81M180.54 510.55V513.74M180.81 510.86V513.46M181.15 510.71V514.13M181.46 511.13V514.39M181.74 511.29V514.40M182.05 510.61V513.67M182.37 510.74V514.26M182.67 511.21V513.57M183.01 510.75V513.59M183.37 510.92V513.53M183.74 511.32V513.62M184.08 510.65V513.57M184.41 511.42V513.79M184.68 510.54V513.49M185.06 510.70V514.24M185.34 510.86V513.50M185.65 510.71V514.20M185.98 511.05V513.55M186.29 510.76V514.41M186.62 510.75V513.90M186.98 510.80V514.36M187.31 511.06V513.77M187.58 511.10V514.29M187.92 511.30V513.90M188.25 511.11V514.18M188.53 510.85V514.28M188.85 510.52V513.39M189.13 510.71V514.44M189.40 510.93V514.03M189.72 510.86V514.33M190.03 510.55V513.64M190.33 510.73V513.52M190.64 511.58V513.73M190.89 511.10V513.90M191.19 511.29V513.66M191.57 510.98V513.66M191.88 511.35V513.53M192.24 510.87V513.95M192.52 510.53V513.82M192.88 510.68V513.95M193.21 511.47V514.34M193.57 511.28V513.85M193.88 511.39V513.31M194.18 511.31V513.76M194.49 510.86V514.16M194.86 510.64V513.42M195.23 510.71V513.55M195.57 511.66V513.33M195.91 511.30V513.49M196.21 511.43V514.41M196.49 510.61V514.11M196.83 510.60V514.29M197.11 510.81V514.02M197.42 510.61V514.05M197.71 511.45V513.98M198.03 511.01V514.03M198.28 510.66V513.95M198.63 510.66V513.85M199.01 511.55V514.14M199.26 510.89V514.18M199.56 510.52V514.00M199.93 511.62V514.22M200.23 510.63V513.84M200.56 510.73V513.65M200.87 510.95V514.33M201.23 511.12V513.99M201.55 510.52V514.15M201.85 511.22V513.76M202.18 510.71V513.39M202.55 510.96V513.41M202.81 511.38V514.42M203.15 510.71V514.41M203.49 510.87V514.20M203.83 511.35V514.17M204.18 511.51V513.61M204.52 511.16V514.33M204.85 511.29V513.76M205.15 511.09V514.14M205.41 510.94V513.39M205.78 511.07V513.34M206.12 510.56V514.48M206.42 511.51V514.14M206.68 510.81V513.52M206.95 510.63V513.53M207.30 511.39V513.41M207.65 510.64V514.23M207.96 510.57V513.70M208.31 511.67V513.34M208.67 511.54V513.77M208.95 510.64V513.97M209.26 510.82V513.56M209.56 510.86V514.13M209.87 510.71V514.45M210.20 511.25V513.43M210.54 510.67V513.80M210.92 510.66V514.10M211.23 510.61V513.85M211.57 510.60V514.31M211.82 511.29V513.90M212.18 510.61V513.40M212.54 510.63V514.07M212.91 510.69V514.19M213.21 511.53V514.05M213.49 510.75V514.43M213.81 511.36V513.70M214.16 511.06V513.47M214.52 511.33V514.08M214.89 510.99V513.96M215.17 511.38V513.61M215.47 510.94V513.88M215.74 511.60V514.50M216.01 510.87V514.29M216.34 511.65V513.38M216.70 511.03V514.06M217.06 511.09V514.45M217.42 510.54V513.70M217.69 511.59V514.05M218.00 510.55V514.41M218.27 510.54V513.70M218.61 510.54V514.17M218.92 511.42V514.47M219.21 511.61V513.70M219.58 510.59V514.34M219.92 510.51V513.42M220.26 511.24V514.09M220.53 511.21V513.70M220.82 511.45V514.18M221.08 510.57V513.66M221.44 510.61V513.55M221.71 510.57V514.35M222.03 511.19V514.33M222.36 511.45V513.66M222.64 510.63V513.72M222.91 511.28V514.34M223.19 511.02V513.78M223.46 510.52V513.42M223.80 511.35V513.96M224.09 511.37V513.83M224.48 510.57V513.49M224.85 511.58V514.23M225.23 511.66V514.31M225.50 511.69V514.34M225.78 511.08V514.41M226.06 510.73V514.21M226.40 511.02V513.73M226.76 510.92V513.63M227.10 511.58V514.31M227.47 510.63V513.98M227.83 511.28V513.61M228.14 511.42V513.84M228.39 510.99V513.93M228.67 510.78V514.32M228.96 510.79V513.85M229.23 510.62V514.46M229.55 510.98V514.03M229.83 511.51V513.70M230.09 511.52V514.20M230.42 510.99V514.20M230.68 511.48V513.98M230.97 511.48V513.88M231.25 510.93V514.25M231.55 511.10V514.34M231.86 510.56V514.28M232.15 511.20V513.92M232.50 510.58V514.32M232.77 510.99V514.46M233.05 511.10V514.13M233.38 511.56V513.91M233.64 511.45V514.47M234.01 510.87V514.31M234.38 511.62V514.14M234.73 511.27V514.04M235.06 511.30V514.01M235.44 511.26V513.76M235.71 510.91V514.46M236.00 511.05V514.03M236.29 511.12V513.74M236.66 510.89V514.07M236.94 510.79V513.95M237.27 511.05V513.77M237.58 510.92V513.33M237.95 511.32V514.05M238.24 510.51V513.75M238.51 511.56V514.37M238.78 511.14V513.92M239.05 511.34V514.46M239.32 511.20V513.82M239.66 510.65V514.33M240.01 510.75V514.26M240.37 510.79V514.42M240.72 510.92V513.99M241.05 511.10V514.29M241.38 511.15V513.94M241.73 511.25V513.87M242.04 511.22V514.29M242.36 511.07V513.61M242.63 510.93V514.08M242.99 510.66V514.46M243.25 511.60V514.06M243.63 510.72V514.03M243.95 510.99V514.19M244.25 510.91V513.82M244.59 510.98V513.49M244.90 510.94V514.07M245.28 511.03V513.92M245.66 511.19V514.02M245.94 511.22V514.48M246.26 511.49V514.40M246.62 510.51V514.39M246.90 511.25V514.00M247.18 511.39V514.13M247.48 510.51V514.14M247.78 510.81V513.31M248.14 510.92V514.17M248.43 510.85V514.02M248.76 511.11V513.52M249.03 511.41V514.01M249.36 510.69V513.43M249.71 511.18V513.59M249.98 510.59V514.08M250.29 511.14V513.42M250.62 510.54V513.92M250.91 511.60V514.43M251.21 510.60V514.32M251.54 510.54V513.98M251.83 511.14V514.22M252.15 510.70V513.69M252.53 511.25V514.06M252.83 511.56V513.52M253.13 511.31V513.62M253.42 511.62V514.17M253.70 510.79V513.48M254.06 511.47V513.93M254.42 511.42V513.82M254.72 510.54V513.64M255.04 511.33V513.94M255.41 510.92V513.84M255.78 511.48V514.00M256.07 510.72V513.86M256.40 511.23V513.86M256.70 510.84V513.50M257.00 511.01V513.75M257.27 510.78V513.74M257.65 510.72V514.39M257.92 511.27V513.37M258.26 511.18V513.89M258.60 511.31V514.35M258.94 511.39V513.51M259.29 510.78V513.39M259.59 511.15V513.39M259.92 511.40V514.34M260.27 511.30V513.92M260.57 511.70V514.34M260.86 511.60V514.36M261.13 511.31V513.51M261.41 510.58V514.25M261.76 510.67V513.73M262.14 510.81V514.24M262.47 511.06V513.42M262.78 511.00V514.43M263.13 510.69V513.71M263.51 510.86V514.04M263.82 511.37V513.77M264.10 511.31V514.01M264.48 511.18V513.76M264.75 510.94V513.80M265.08 510.74V513.59M265.41 511.05V514.27M265.68 511.26V513.83M265.97 510.80V513.93M271.26 510.69V514.29M271.60 511.18V513.81M271.97 511.12V513.72M272.33 510.38V513.70M272.69 510.58V513.92M273.00 510.80V513.97M273.28 511.52V514.22M273.64 510.62V514.60M273.96 510.86V513.68M274.29 511.44V514.36M274.56 511.52V514.06M274.92 510.46V514.47M275.22 510.67V514.16M275.52 510.94V514.33M275.89 511.31V513.88M276.22 511.05V513.74M276.60 510.40V514.56M276.98 510.72V514.50M277.27 510.78V514.65M277.61 511.12V513.94M277.87 511.27V514.35M278.14 511.50V513.31M278.44 511.59V513.44M278.71 511.84V513.64M278.99 511.38V513.22M279.30 511.57V513.20M279.57 511.60V513.45M279.89 511.38V513.43M280.24 511.89V513.69M280.51 511.40V513.32M280.86 511.87V513.57M281.12 511.55V513.19M281.47 511.66V513.64M281.84 511.57V513.65M282.11 511.45V513.28M282.46 511.40V513.11M282.81 511.33V513.53M283.13 511.42V513.11M283.48 511.78V513.17M283.84 511.55V513.11M284.12 510.64V513.99M284.42 511.23V514.75M284.77 510.33V514.84M285.09 510.25V514.67M285.43 510.86V514.25M285.80 510.57V513.64M286.08 510.22V514.40M286.40 510.61V514.14M286.65 510.61V514.06M286.92 511.23V514.51M287.21 510.71V513.95M287.53 510.15V514.89M287.90 510.37V514.46M288.20 511.02V514.66M288.58 510.48V514.02M288.93 510.70V514.46M289.25 510.84V513.61M289.55 510.11V514.26M289.84 511.09V514.08M290.15 510.79V514.38M290.43 511.38V514.01M290.78 510.65V514.83M291.15 510.60V513.65M291.46 510.37V514.19M291.72 510.73V514.78M292.01 511.47V513.80M292.36 511.11V514.15M292.69 511.15V514.58M293.03 511.88V513.68M293.33 511.82V513.22M293.69 511.43V513.75M294.03 511.60V513.59M294.30 511.59V513.09M294.60 511.54V513.54M294.91 511.95V513.75M295.29 511.90V513.55M295.59 511.86V513.20M295.95 511.59V513.50M296.28 511.42V513.54M296.63 511.72V513.61M296.99 511.67V513.65M297.30 511.70V513.48M297.57 511.96V513.45M297.93 511.63V513.79M298.19 511.82V513.10M298.51 511.78V513.76M298.79 511.78V513.63M299.07 511.93V513.66M299.40 511.65V513.67M299.70 511.26V513.15M299.97 511.43V513.40M300.23 511.49V513.40M300.61 511.44V513.26M300.90 511.58V513.26M301.19 511.20V513.25M301.47 511.29V513.72M301.82 511.31V513.30M302.14 511.27V513.20M302.47 511.57V513.52M302.75 511.27V513.36M303.12 511.78V513.71M303.41 511.94V513.15M303.67 511.26V513.19M303.94 511.79V513.59M304.29 511.27V513.79M304.63 511.92V513.47M304.89 511.21V513.33M305.16 511.54V513.18M305.44 511.40V513.19M305.76 511.84V513.36M306.13 511.64V513.25M306.50 511.37V513.30M306.76 511.53V513.40M307.07 511.96V513.60M307.39 511.50V513.60M307.76 511.38V513.39M308.07 511.22V513.39M308.38 511.82V513.80M308.67 511.45V513.38M309.03 511.34V513.74M309.37 511.50V513.33M309.62 511.36V513.71M309.96 511.20V513.26M321.68 511.83V512.88M321.98 511.41V513.41M322.25 511.39V514.11M322.56 511.11V514.21M322.84 511.26V513.49M323.13 511.80V513.18M323.38 512.14V513.00M326.88 512.25V512.67M327.18 511.92V512.93M327.52 511.61V513.15M327.85 511.87V512.86M328.20 512.30V512.75M329.12 510.83V514.13M329.47 511.55V514.25M329.79 510.47V514.03M330.16 510.94V514.13M330.52 510.66V514.42M330.78 510.65V514.20M331.13 511.38V513.77M331.40 510.57V514.22M331.72 511.49V514.36M332.05 510.30V514.50M332.32 511.07V514.16M332.61 511.10V513.82M332.94 510.85V514.04M333.30 510.45V513.83M333.60 510.91V514.12M333.91 510.51V513.74M334.23 511.50V513.90M334.54 510.78V513.92M334.90 511.13V514.38M335.23 510.92V514.63M335.60 511.49V514.06M335.86 510.45V513.54M336.14 510.38V514.21M336.46 510.66V514.34M336.74 510.47V513.66M337.03 511.41V513.58M337.40 510.97V514.33M337.78 510.64V513.68M338.14 511.12V513.79M338.44 510.79V513.68M338.73 510.47V513.67M339.12 511.00V513.47M339.45 511.22V514.19M339.76 510.65V513.61M340.04 510.38V514.70M340.36 511.13V513.95M340.68 510.37V513.58M341.05 510.75V514.19M341.42 510.47V513.78M341.68 510.74V514.67M342.05 510.68V513.50M342.37 511.19V514.42M342.63 510.79V513.58M342.99 510.75V514.09M343.33 511.36V514.23M343.63 510.67V513.69M343.99 510.44V514.11M344.27 510.87V514.18M344.59 510.85V513.97M344.86 511.20V514.56M345.23 511.57V514.64M345.59 510.78V514.36M345.88 511.54V514.01M346.17 510.42V513.56M346.46 510.75V514.47M346.72 511.19V514.26M346.98 510.72V514.36M347.28 511.68V513.15M347.54 511.63V513.13M347.81 511.96V513.28M348.08 511.91V512.97M348.47 511.60V513.31M348.78 511.70V513.36M349.12 511.99V513.23M349.48 512.06V513.27M349.76 511.61V513.25M350.03 511.68V513.37M350.38 511.67V513.31M350.69 511.68V513.30M350.99 511.62V513.19M351.26 511.61V513.31M351.62 511.97V513.01M351.91 511.83V513.36M352.25 511.88V513.30M352.60 511.63V513.32M352.86 511.44V513.33M353.20 510.74V513.53M353.47 510.29V513.52M353.78 511.23V513.18M354.15 511.48V512.97M354.46 511.95V512.86M362.25 511.64V513.14M362.62 511.52V513.38M362.99 511.42V513.12M363.30 511.23V513.37M363.64 511.62V513.48M364.01 511.53V513.37M364.28 511.30V513.60M364.59 511.36V513.73M364.94 511.93V513.34M365.22 511.47V513.52M365.55 511.70V513.65M365.88 511.59V513.79M366.24 511.41V513.38M366.59 511.40V513.30M366.94 511.65V513.18M367.31 511.80V513.63M367.61 511.62V513.78M367.89 511.67V513.76M368.15 511.71V513.39M368.53 511.71V513.24M368.85 511.30V513.56M369.14 511.81V513.64M369.47 511.41V513.64M369.77 511.25V513.49M370.11 511.71V513.65M370.41 511.24V513.29M370.76 511.41V513.40M371.03 511.68V513.57M371.37 511.40V513.66M371.75 511.37V513.35M374.99 512.16V513.01M375.35 511.43V513.51M375.68 511.75V513.63M376.05 512.14V513.07M382.20 511.33V513.88M382.51 511.31V513.16M382.80 511.93V513.64M383.12 511.42V513.77M383.40 511.36V513.41M383.73 511.69V513.76M384.06 511.89V513.75M384.32 511.36V513.71M384.63 511.45V513.61M384.99 511.13V513.41M385.25 511.47V513.23M385.59 511.30V513.51M385.87 511.53V513.37M386.19 511.71V513.69M386.53 511.12V513.73M386.91 511.29V513.71M387.27 511.29V513.64M387.57 511.74V513.64M387.87 511.87V513.27M388.24 511.23V513.51M388.60 511.48V513.89M388.95 511.48V513.78M389.27 511.70V513.34M389.65 511.11V513.49M389.96 511.23V513.79M390.29 511.55V513.08M390.64 511.49V513.13M390.97 511.84V513.40M391.34 511.47V513.65M391.64 511.80V513.61M391.97 511.35V513.70M392.24 511.29V513.14M392.55 511.33V513.70M392.86 511.76V513.84M393.13 511.67V513.89M393.49 511.36V513.72M393.85 511.88V513.13M394.19 511.15V513.65M394.48 511.75V513.09M394.75 511.12V513.70M395.07 511.80V513.75M395.44 511.93V513.80M395.80 511.46V513.63M396.16 511.83V513.14M396.45 511.54V513.08M396.71 511.22V513.77M396.99 511.34V513.30M397.26 511.12V513.58M397.52 511.29V513.80M397.79 511.56V513.38M398.07 511.38V513.89M398.32 511.83V513.21M398.66 511.44V513.51M398.99 511.35V513.84M399.35 511.16V513.79M399.61 511.32V513.80M399.98 511.73V513.86M400.32 511.66V513.38M400.62 511.81V513.50M400.96 511.15V513.74M401.34 511.27V513.36M401.63 511.18V513.85M401.98 511.25V513.83M402.31 511.80V513.78M402.65 511.56V513.57M402.92 511.43V513.66M403.30 511.53V513.84M403.68 511.82V513.30M404.05 511.91V513.35M404.43 511.73V513.49M404.78 511.28V513.73M405.12 511.70V513.35M405.46 511.39V513.66M405.80 511.31V513.15M406.08 511.23V513.57M406.42 510.47V514.18M406.73 510.00V513.71M407.00 510.24V513.42M407.26 510.92V513.08M407.62 511.75V512.81" stroke="#000" stroke-width="0.5"/>
<line x1="60.2" y1="560.5" x2="408.6" y2="560.5" stroke="#222" stroke-width="0.8"/>
<path d="M69.09 553.65V565.84M69.35 555.12V562.42M69.77 554.66V566.24M65.76 558.71V567.23M67.89 555.23V566.48M65.46 558.21V563.05M67.26 556.38V566.42M67.47 555.13V562.32M65.74 554.57V562.62M69.16 555.16V563.03M71.07 555.35V562.67" stroke="#000" stroke-opacity="0.4" stroke-width="0.55"/>
<path d="M201.35 558.92V562.08M187.13 557.68V562.39M204.83 559.12V562.00M246.76 558.61V562.38M247.24 558.35V563.60M230.96 556.60V563.46M233.32 557.58V564.02M263.27 556.57V562.40M252.57 557.99V563.87M223.69 558.42V562.02M233.35 557.31V562.56M220.32 559.02V562.35M247.18 555.59V562.66M179.81 557.49V562.59M190.30 559.08V562.59M200.00 558.18V565.96M232.40 556.11V565.61M234.34 555.30V565.80M243.88 556.89V563.69M242.33 556.19V562.28M211.63 557.35V564.97M194.26 556.24V565.54M203.04 558.84V563.32M258.11 555.28V564.54M202.22 558.84V564.36M177.73 558.34V565.93M252.08 558.31V564.35M216.84 558.75V565.80M213.01 555.45V563.84M220.89 559.11V564.92M211.36 556.48V565.29M191.62 558.96V563.05M203.04 556.79V565.49M178.34 556.65V562.19M211.84 556.51V563.63M208.63 555.87V562.36M204.32 555.02V565.24M213.10 556.25V563.71M214.03 557.48V565.87M216.10 558.34V564.36M251.71 559.06V562.48M189.36 558.71V562.89M209.57 556.12V564.00M253.85 557.53V564.73M219.79 557.44V561.98M186.25 558.79V561.88M263.22 558.61V564.70M248.41 557.79V562.08M239.11 555.47V564.62M241.16 558.09V562.18M203.21 556.16V562.23M248.94 555.05V565.72M259.11 558.94V562.13M235.07 557.06V564.02M231.67 556.97V562.84M182.11 557.78V565.34M197.68 557.72V562.88M223.84 555.14V563.70M175.26 556.53V565.92M222.97 558.80V562.15M234.19 556.44V562.27M182.92 559.06V564.11M250.86 558.58V564.55M226.52 557.57V563.48M227.68 556.89V565.94M217.63 559.02V562.32M231.51 557.68V562.26M179.27 558.98V563.30M242.11 556.11V561.91M246.88 555.26V561.88M192.13 555.28V562.76M239.20 559.12V565.02M250.69 555.84V561.90M187.17 555.31V565.46M254.54 558.42V562.54M221.96 558.98V565.24M181.34 556.55V562.20M244.23 557.50V565.91M218.45 555.53V562.95M243.53 557.26V562.53M187.29 559.01V562.36" stroke="#000" stroke-opacity="0.4" stroke-width="0.55"/>
<path d="M289.49 559.50V561.56M291.80 558.91V563.44M286.24 559.73V562.11M288.08 559.53V562.02M286.75 558.93V562.66M286.64 558.08V562.42" stroke="#000" stroke-opacity="0.5" stroke-width="0.55"/>
<path d="M333.76 558.75V562.44M338.35 559.62V561.90M330.89 557.51V562.08M332.68 559.30V563.74M331.93 559.42V561.42M343.21 559.37V561.90M343.09 558.94V563.56M331.66 558.59V561.71M333.55 557.02V562.57M337.49 557.93V561.38M340.60 558.49V561.55M332.38 559.47V561.93M338.52 559.55V561.54M333.50 559.53V562.17M336.60 559.25V562.52M336.20 558.48V562.11M336.46 557.54V561.59M335.58 557.16V562.59" stroke="#000" stroke-opacity="0.5" stroke-width="0.55"/>
<path d="M64.27 559.76V561.29M64.58 558.10V564.96M65.51 554.74V564.27M68.27 557.26V564.89M68.56 556.94V563.01M70.10 557.91V563.49M70.45 556.68V562.85M76.82 559.01V562.31M77.51 559.61V561.56M92.99 559.44V561.49M93.98 559.19V561.47M94.89 559.35V561.85M96.30 559.72V561.08M112.50 559.07V561.94M149.75 558.92V562.41M174.52 559.77V561.36M177.30 559.72V561.84M177.60 559.64V561.40M179.33 559.78V561.60M180.83 559.73V561.91M181.87 559.73V561.71M182.47 559.43V561.59M185.53 559.50V561.22M185.83 559.68V561.45M189.67 559.73V561.22M190.34 559.54V561.72M191.36 559.66V561.22M192.28 559.70V561.61M193.33 559.21V561.22M194.03 559.73V561.22M194.72 559.71V561.74M197.02 559.51V561.25M198.57 559.77V561.92M199.46 559.51V561.66M201.70 559.40V561.33M204.05 559.44V561.87M204.40 559.64V561.42M204.99 559.62V561.92M206.74 559.68V561.71M207.74 559.42V561.94M208.75 559.45V561.23M209.03 559.42V561.82M209.39 559.54V561.22M214.08 559.64V561.23M215.40 559.55V561.38M219.12 559.45V561.49M219.43 559.24V561.26M221.96 559.42V561.23M222.33 559.52V561.22M224.50 559.40V561.40M226.06 559.78V561.24M226.39 559.26V561.25M227.73 559.69V561.29M230.80 559.66V561.27M231.11 559.52V561.30M232.84 559.78V561.60M233.50 559.75V561.22M236.52 559.74V561.32M238.23 559.68V561.57M239.52 559.60V561.22M240.52 559.50V561.63M241.18 559.14V561.38M242.61 559.77V561.45M243.22 559.75V561.44M244.28 559.38V561.22M246.72 559.48V561.41M247.00 559.75V561.25M247.58 559.73V561.26M249.25 559.42V561.23M249.51 559.38V561.35M249.83 559.77V561.24M250.12 559.62V561.22M253.43 559.30V561.28M253.70 559.67V561.72M254.01 559.73V561.27M254.68 559.67V561.26M255.95 559.22V561.87M259.09 559.64V561.30M260.02 559.74V561.77M261.13 559.69V561.33M261.42 559.25V561.31M261.96 559.58V561.53M262.59 559.56V561.25M262.89 559.08V561.63M263.26 559.61V561.60M267.83 559.55V561.94M268.10 559.23V561.93M274.35 559.43V561.61M274.64 559.19V561.97M275.61 559.96V561.14M286.29 560.10V560.98M286.88 559.00V561.56M288.34 557.36V562.73M289.40 558.52V563.59M291.55 559.96V561.03M310.05 559.85V561.00M310.68 559.43V561.26M330.61 559.52V561.51M332.20 559.60V561.91M337.37 558.90V562.09M338.67 559.47V561.45M354.73 560.07V561.06M375.06 559.63V561.32M375.42 559.92V560.97" stroke="#000" stroke-opacity="0.4" stroke-width="0.4"/>
<path d="M65.90 560.5L66.38 551.80L66.62 551.80L67.10 560.5L66.62 568.50L66.38 568.50ZM68.00 560.5L68.38 555.50L68.62 555.50L69.00 560.5L68.62 566.50L68.38 566.50ZM120.15 560.5L120.38 557.50L120.62 557.50L120.85 560.5L120.62 565.50L120.38 565.50ZM121.65 560.5L121.88 556.50L122.12 556.50L122.35 560.5L122.12 565.50L121.88 565.50ZM123.10 560.5L123.38 554.80L123.62 554.80L123.90 560.5L123.62 570.20L123.38 570.20ZM129.55 560.5L129.88 546.00L130.12 546.00L130.45 560.5L130.12 578.50L129.88 578.50ZM131.55 560.5L131.88 547.50L132.12 547.50L132.45 560.5L132.12 570.50L131.88 570.50ZM134.05 560.5L134.38 542.50L134.62 542.50L134.95 560.5L134.62 569.50L134.38 569.50ZM144.25 560.5L144.58 546.50L144.82 546.50L145.15 560.5L144.82 573.50L144.58 573.50ZM153.30 560.5L153.58 555.50L153.82 555.50L154.10 560.5L153.82 573.50L153.58 573.50ZM155.60 560.5L155.88 554.50L156.12 554.50L156.40 560.5L156.12 566.50L155.88 566.50ZM156.90 560.5L157.18 555.50L157.42 555.50L157.70 560.5L157.42 570.50L157.18 570.50ZM254.65 560.5L254.88 557.50L255.12 557.50L255.35 560.5L255.12 564.50L254.88 564.50ZM260.65 560.5L260.88 557.50L261.12 557.50L261.35 560.5L261.12 564.50L260.88 564.50ZM264.15 560.5L264.38 557.00L264.62 557.00L264.85 560.5L264.62 564.00L264.38 564.00ZM291.15 560.5L291.38 557.00L291.62 557.00L291.85 560.5L291.62 564.50L291.38 564.50Z" fill="#000"/>
<path d="M64.27 559.75V560.90M64.58 558.12V562.19M64.84 558.48V562.19M65.14 558.11V562.60M65.51 557.84V562.28M65.79 556.91V563.40M66.16 558.06V563.10M66.44 556.97V562.47M66.78 556.65V564.15M67.06 558.48V563.39M67.33 557.11V563.17M67.61 558.59V561.84M67.90 558.58V562.35M68.27 559.13V562.22M68.56 558.29V562.07M68.83 558.73V561.97M69.15 558.75V562.48M69.41 559.29V561.75M69.72 558.24V562.37M70.10 559.34V561.56M70.45 558.85V562.96M70.82 559.40V562.96M71.20 558.53V561.88M71.51 559.29V562.50M71.83 559.16V561.78M76.19 560.04V560.74M76.50 560.05V561.41M76.82 559.39V561.23M77.16 559.96V561.56M77.51 559.63V561.40M77.90 560.19V560.95M79.95 560.14V560.92M80.31 559.83V561.16M80.68 559.26V561.93M81.04 559.61V561.24M81.35 559.93V561.19M81.62 560.12V560.77M92.62 560.08V560.71M92.99 559.97V560.91M93.33 559.98V561.22M93.68 559.79V561.07M93.98 559.88V561.22M94.26 559.90V561.18M94.61 560.01V561.08M94.89 559.65V560.99M95.25 559.79V561.09M95.60 559.91V561.13M95.99 559.88V560.84M96.30 560.24V560.93M103.71 560.29V560.77M104.07 560.12V560.74M104.33 560.28V560.82M111.49 560.15V560.88M111.79 559.86V561.36M112.13 559.96V561.14M112.50 559.60V561.12M112.83 559.56V561.73M113.18 559.20V561.68M113.55 559.64V561.79M113.88 559.60V561.50M114.21 559.68V561.13M114.53 560.05V560.92M149.42 560.05V561.00M149.75 559.44V561.61M150.08 559.47V561.43M150.41 559.79V560.95M150.70 560.16V560.75M174.19 560.10V560.95M174.52 560.10V561.24M174.82 559.90V561.18M175.18 559.92V561.17M175.45 560.12V560.94M175.74 559.88V561.17M176.02 559.72V560.82M176.40 559.97V561.22M176.73 559.76V561.28M177.01 559.73V561.14M177.30 559.76V560.93M177.60 559.93V561.00M177.90 559.81V561.01M178.27 559.87V560.90M178.61 559.84V561.06M178.99 559.82V560.86M179.33 559.88V561.28M179.60 560.08V561.23M179.96 559.78V561.17M180.23 559.71V561.25M180.55 560.01V561.15M180.83 560.10V561.05M181.21 559.74V561.10M181.49 559.85V561.29M181.87 559.85V561.01M182.19 559.85V561.22M182.47 559.74V561.14M182.82 560.09V560.99M183.16 559.97V561.29M183.53 560.08V561.08M183.88 559.80V561.25M184.20 559.77V561.11M184.55 560.18V561.00M184.83 560.16V561.13M185.21 559.71V561.15M185.53 559.76V561.18M185.83 559.98V561.27M186.11 559.93V561.00M186.47 559.87V561.25M186.82 560.11V561.04M187.19 559.91V561.04M187.57 559.77V561.22M187.93 559.88V561.05M188.22 559.98V561.10M188.50 559.95V560.98M188.77 559.85V561.24M189.07 560.06V561.19M189.35 560.13V561.17M189.67 559.88V561.25M190.02 560.12V561.24M190.34 560.01V561.25M190.68 560.14V560.90M191.03 560.08V561.28M191.36 559.75V561.15M191.67 559.70V561.05M191.97 559.83V561.02M192.28 560.01V561.06M192.59 559.93V560.97M192.96 559.95V560.82M193.33 559.84V560.97M193.66 559.86V560.94M194.03 559.70V560.88M194.40 560.12V561.04M194.72 560.03V560.87M195.03 559.88V560.98M195.40 560.10V561.18M195.71 559.81V561.03M196.03 559.91V560.88M196.34 559.94V561.00M196.69 560.12V560.88M197.02 559.78V560.85M197.34 560.00V560.89M197.63 559.91V561.25M198.00 560.00V560.94M198.29 559.81V560.91M198.57 559.95V560.96M198.84 559.73V561.08M199.12 559.87V561.17M199.46 559.74V561.06M199.77 559.76V561.03M200.08 560.11V560.88M200.45 560.06V561.26M200.76 560.14V560.83M201.13 559.85V560.91M201.40 559.92V561.20M201.70 559.99V561.00M201.98 559.99V560.86M202.31 559.85V561.07M202.59 560.05V561.12M202.88 559.81V561.10M203.22 559.94V561.10M203.50 559.92V561.14M203.77 560.09V560.99M204.05 560.15V561.06M204.40 559.87V561.05M204.70 559.95V561.28M204.99 559.93V561.27M205.31 559.99V561.02M205.58 559.72V561.18M205.86 560.16V561.01M206.18 559.85V560.85M206.46 560.06V560.91M206.74 559.81V561.03M207.06 560.12V561.13M207.39 559.80V560.92M207.74 559.73V561.04M208.12 559.86V561.01M208.40 559.84V561.24M208.75 559.94V561.18M209.03 560.09V561.01M209.39 560.14V561.09M209.77 559.92V560.94M210.06 559.91V561.06M210.36 560.13V561.12M210.66 559.71V561.24M210.93 559.75V561.22M211.24 560.03V561.11M211.59 560.08V561.29M211.88 559.86V560.87M212.21 560.05V560.86M212.57 560.03V561.28M212.89 559.71V561.03M213.19 559.97V561.11M213.46 559.95V560.87M213.73 559.78V561.17M214.08 559.97V561.15M214.46 559.83V560.98M214.76 559.74V561.17M215.10 560.07V561.13M215.40 560.17V561.01M215.67 559.75V560.98M215.95 559.89V561.13M216.20 560.07V560.93M216.56 559.76V561.20M216.82 560.00V561.10M217.13 559.93V561.01M217.44 559.97V561.27M217.78 559.76V561.20M218.13 559.85V561.11M218.49 560.00V561.00M218.76 559.78V560.95M219.12 559.74V560.98M219.43 560.06V561.29M219.71 559.94V560.92M219.99 560.01V561.02M220.26 559.80V560.99M220.64 560.06V560.85M220.98 560.03V561.01M221.35 559.72V560.96M221.64 559.82V561.23M221.96 559.84V561.18M222.33 559.98V560.89M222.64 560.14V561.18M222.90 559.86V561.16M223.28 559.99V561.26M223.56 560.01V560.90M223.85 559.87V561.21M224.19 559.83V561.06M224.50 560.08V560.89M224.77 559.72V560.83M225.09 559.74V561.14M225.37 559.89V561.21M225.72 559.94V561.02M226.06 559.71V560.86M226.39 559.88V561.18M226.74 559.95V561.10M227.11 559.89V560.87M227.46 559.77V561.26M227.73 560.01V561.06M228.08 559.92V561.13M228.43 559.88V560.89M228.70 560.02V560.89M229.06 559.92V561.21M229.43 559.72V561.16M229.69 560.04V561.30M230.07 560.04V561.23M230.42 559.99V561.30M230.80 559.72V560.89M231.11 560.06V561.20M231.41 559.86V560.84M231.72 559.80V561.23M231.98 560.02V561.02M232.27 559.93V561.10M232.54 559.96V560.97M232.84 560.03V561.28M233.12 559.73V561.15M233.50 559.80V561.29M233.76 559.78V561.18M234.03 560.10V561.10M234.29 559.88V561.18M234.57 559.73V561.21M234.94 559.93V561.24M235.26 559.96V560.89M235.61 559.98V561.01M235.87 559.75V561.16M236.24 559.86V561.06M236.52 559.80V561.29M236.87 559.90V561.05M237.18 560.04V560.85M237.57 559.71V561.14M237.94 559.88V561.03M238.23 559.90V560.95M238.59 560.12V561.10M238.86 560.03V561.16M239.23 560.15V561.17M239.52 559.81V561.00M239.85 560.04V561.09M240.19 559.88V561.22M240.52 559.72V561.29M240.89 559.90V560.91M241.18 559.90V560.91M241.54 559.86V561.05M241.91 560.08V561.17M242.29 559.87V560.86M242.61 559.71V560.97M242.94 559.91V561.25M243.22 559.89V561.07M243.53 560.00V560.87M243.90 560.07V561.25M244.28 559.72V561.29M244.54 559.87V560.99M244.86 560.01V561.10M245.12 559.75V561.14M245.48 559.79V560.84M245.82 559.84V561.13M246.08 559.96V561.22M246.46 559.73V561.12M246.72 560.01V561.11M247.00 559.83V561.07M247.32 559.90V561.06M247.58 559.77V561.07M247.96 559.87V561.00M248.33 560.01V561.24M248.59 560.17V561.26M248.96 559.89V560.84M249.25 559.92V561.25M249.51 560.09V561.04M249.83 560.04V561.13M250.12 559.76V561.00M250.42 559.86V561.13M250.74 559.89V560.92M251.11 559.86V560.87M251.46 560.15V561.27M251.80 559.79V561.09M252.12 559.82V560.95M252.41 559.88V561.25M252.73 559.74V560.92M253.07 559.78V561.11M253.43 559.90V560.85M253.70 560.00V561.21M254.01 559.93V560.90M254.30 560.09V560.98M254.68 559.97V561.10M254.98 560.07V561.27M255.26 560.15V561.07M255.63 560.05V561.26M255.95 559.75V561.23M256.26 559.77V560.87M256.64 559.70V561.26M256.98 559.93V561.08M257.26 560.15V561.03M257.53 559.97V561.13M257.90 559.86V561.10M258.19 559.88V561.07M258.49 559.91V561.26M258.76 559.94V560.97M259.09 559.87V561.06M259.45 559.80V561.02M259.74 559.72V561.17M260.02 559.71V561.25M260.28 559.91V561.03M260.60 559.94V560.98M260.86 560.11V561.16M261.13 559.87V561.12M261.42 560.00V561.13M261.70 559.82V560.92M261.96 559.75V560.94M262.27 559.98V561.09M262.59 560.05V561.24M262.89 560.16V561.12M263.26 559.91V561.25M263.58 560.07V560.98M263.84 560.17V561.20M267.49 560.15V560.90M267.83 559.93V561.11M268.10 560.03V560.97M268.39 560.12V560.82M273.68 560.22V560.92M274.03 559.71V561.11M274.35 559.69V561.47M274.64 559.72V561.16M275.00 559.44V561.16M275.29 560.08V561.37M275.61 560.15V560.91M275.89 560.29V560.77M286.29 560.34V560.83M286.59 560.02V560.95M286.88 559.80V561.09M287.17 559.55V561.43M287.44 559.83V561.46M287.71 559.57V561.41M288.00 559.24V561.87M288.34 558.86V561.73M288.67 559.16V561.87M289.01 559.41V561.41M289.40 559.37V561.85M289.75 559.30V562.37M290.13 559.42V561.59M290.48 559.43V561.86M290.85 559.42V561.23M291.23 559.85V561.11M291.55 560.24V560.93M310.05 560.10V561.03M310.33 560.07V561.01M310.68 560.14V561.29M310.94 560.09V560.91M314.40 560.30V560.67M314.77 560.15V560.90M315.10 559.93V561.19M315.36 560.17V560.95M329.24 559.90V561.50M329.57 559.92V561.05M329.94 559.74V561.34M330.28 559.61V561.49M330.61 559.86V561.49M330.91 560.10V561.38M331.19 559.81V561.39M331.52 559.73V560.98M331.90 559.56V561.31M332.20 559.60V561.06M332.58 559.98V561.18M332.89 559.92V561.40M333.15 559.73V561.19M333.49 559.82V561.22M333.86 559.83V561.45M334.20 559.63V561.42M334.53 559.76V561.01M334.79 559.80V561.23M335.06 559.69V560.93M335.41 559.53V560.94M335.79 559.89V561.47M336.08 559.78V561.34M336.42 559.89V561.01M336.73 559.88V561.24M337.00 560.09V561.34M337.37 559.53V561.18M337.72 559.58V560.90M338.06 559.58V561.22M338.39 559.61V561.04M338.67 559.95V561.06M339.03 559.58V561.07M339.34 559.67V561.21M339.68 559.52V561.41M339.96 559.58V561.43M340.31 559.82V561.37M340.60 560.05V561.19M340.93 559.59V561.14M341.21 560.00V561.45M341.50 559.90V561.37M341.84 559.96V561.38M342.12 560.00V561.13M342.41 559.79V561.47M342.72 559.97V561.30M343.02 559.78V561.14M343.35 559.72V561.03M343.71 559.54V561.10M354.73 560.13V560.90M355.03 560.00V560.84M355.35 560.24V560.85M363.79 560.11V560.86M364.07 560.12V561.01M364.39 560.35V560.76M374.53 560.20V560.92M374.79 559.91V561.01M375.06 559.75V561.25M375.42 560.12V560.92M385.82 560.30V560.93M386.11 560.01V560.83M386.43 560.25V560.83M398.61 560.21V560.72M398.91 559.96V560.83M399.28 560.26V560.73" stroke="#000" stroke-width="0.5"/>
<rect x="156.3" y="487" width="12.1" height="99" fill="#b0ffff" style="mix-blend-mode:multiply"/><rect x="156.3" y="487" width="12.1" height="99" fill="#b0ffff" fill-opacity="0.35"/>
<path d="M185.5 488V588M197.5 488V588M185 488.5H198M185 587.5H198" fill="none" stroke="#000" stroke-width="1" stroke-dasharray="1 1"/>
<rect x="421" y="505.1" width="2.6" height="14.8" fill="#000"/>
<rect x="421" y="553.1" width="2.6" height="14.8" fill="#000"/>
<text x="0" y="0" font-size="9.1" text-anchor="start" fill="#000" transform="translate(428.2 516.2) scale(1.1 1)" >2 mV</text>
<text x="0" y="0" font-size="9.1" text-anchor="start" fill="#000" transform="translate(428.2 564) scale(1.1 1)" >2 mV</text>
<rect x="379.4" y="591.4" width="23.5" height="2.3" fill="#000"/>
<text x="0" y="0" font-size="9.1" text-anchor="middle" fill="#000" transform="translate(391.2 588.3) scale(1.1 1)" >2 s</text>
<text x="0" y="0" font-size="9.7" text-anchor="start" fill="#000" transform="translate(473.8 510.4) scale(1.06 1)" >Digastric</text>
<text x="0" y="0" font-size="9.7" text-anchor="start" fill="#000" transform="translate(473.8 521) scale(1.06 1)" >muscle</text>
<text x="0" y="0" font-size="9.7" text-anchor="start" fill="#000" transform="translate(473.8 553) scale(1.06 1)" >Masseter</text>
<text x="0" y="0" font-size="9.7" text-anchor="start" fill="#000" transform="translate(473.8 563.5) scale(1.06 1)" >muscle</text>
<line x1="522.1" y1="512.5" x2="652.2" y2="512.5" stroke="#222" stroke-width="0.8"/>
<path d="M526.53 511.85V514.22M554.61 510.37V513.69M522.80 511.31V513.11M564.80 511.52V513.11M523.40 511.91V514.22M574.02 511.25V513.02M584.64 510.76V514.12M554.26 510.35V513.86M561.13 511.84V513.17M550.19 511.83V513.66M636.16 511.30V513.91M635.70 510.33V513.53M603.93 510.95V514.15M606.49 510.82V513.60M625.99 510.66V513.03M642.72 511.45V513.71M626.97 511.90V513.68M608.46 511.16V513.53M610.57 511.39V513.53M631.60 510.76V513.70M646.48 510.98V513.86M599.81 511.14V513.89M633.53 511.26V512.97M573.40 511.57V514.02M618.62 510.94V513.98M591.19 511.32V512.97M575.41 510.76V513.09M589.22 511.63V513.15M554.67 511.68V513.84M554.42 510.48V512.97M649.33 510.66V514.13M556.44 511.95V513.91M591.26 511.79V514.11M561.56 511.79V513.94M615.83 511.79V513.22M599.27 511.01V514.02M545.54 510.43V513.24M543.32 510.91V513.62M591.32 511.19V513.78M598.55 511.46V513.29M541.39 511.87V513.27M533.98 510.70V512.98M601.81 511.26V514.04M608.93 511.40V513.13M602.61 511.85V513.15M636.33 510.61V514.20M642.33 511.19V513.01M615.40 510.57V513.00M577.61 510.65V513.15M559.60 511.64V514.09M526.76 511.81V513.24M582.19 511.27V514.21M527.42 511.60V513.53M530.87 511.64V514.25M649.31 511.16V514.24M555.62 510.70V513.89M645.05 511.74V513.60M645.66 510.79V513.64M579.47 510.54V514.08M543.73 510.65V513.25M627.94 511.68V513.65M647.28 511.78V513.54M544.12 511.88V512.95M559.80 511.76V513.93M535.60 511.44V512.96M527.72 510.97V513.89M601.78 511.11V512.95M576.63 511.70V513.85M612.17 511.43V513.34M525.03 511.35V512.97M641.04 511.90V513.92M598.86 511.12V513.14M579.19 511.46V513.25M612.46 511.73V513.07M604.21 511.86V514.20M597.50 511.87V514.14M593.44 511.84V513.49" stroke="#000" stroke-opacity="0.45" stroke-width="0.55"/>
<path d="M522.10 511.24V513.22M523.07 511.44V513.82M524.43 511.21V513.78M524.69 511.65V513.81M525.33 511.57V513.22M526.18 511.56V513.48M526.73 511.51V513.22M528.15 510.22V514.15M529.72 510.12V513.76M530.10 511.78V513.25M530.68 511.56V513.57M531.60 511.78V513.42M532.87 511.07V513.79M534.12 510.81V513.91M535.16 511.75V513.49M536.50 511.69V513.26M536.86 511.77V513.85M537.56 511.62V513.55M537.84 511.44V514.22M540.62 511.42V513.53M541.51 510.84V514.05M542.41 510.26V514.75M542.99 509.26V514.97M543.28 509.73V516.04M543.61 510.44V515.44M544.22 511.70V513.62M546.72 511.37V514.29M548.01 511.72V513.22M549.22 511.68V513.88M549.53 511.26V513.51M550.13 511.09V513.86M550.45 510.75V514.62M550.73 510.35V515.37M551.36 511.50V513.50M553.11 508.34V514.84M555.63 511.77V513.46M558.93 511.11V514.42M561.14 511.66V513.37M561.50 511.28V513.78M562.12 511.39V513.24M562.75 511.42V513.90M563.74 511.78V513.48M564.32 511.70V513.69M564.62 511.69V513.38M565.85 511.76V513.79M568.29 511.01V513.98M568.94 508.84V515.64M569.27 508.12V515.02M571.47 511.60V513.85M573.36 511.73V513.34M574.10 511.64V513.36M574.36 510.50V514.60M575.29 511.73V513.82M575.59 511.66V513.35M575.86 511.62V513.24M576.81 511.75V513.23M579.46 511.50V513.46M580.21 511.77V513.22M581.57 511.68V513.28M582.27 510.55V514.85M584.92 510.84V514.39M585.57 511.78V513.73M586.87 511.30V513.75M587.13 511.59V513.85M588.70 511.12V513.23M590.08 511.11V513.58M592.51 510.74V513.43M594.52 511.08V513.23M601.66 511.74V513.85M604.17 510.39V515.87M604.81 510.91V514.27M606.44 511.72V513.36M607.36 511.76V513.28M607.68 511.66V513.26M608.41 511.57V513.57M609.81 511.21V513.26M612.31 511.78V513.23M614.95 511.70V513.33M615.99 511.36V513.36M616.95 511.29V514.15M618.64 509.13V517.00M620.60 511.07V513.30M620.98 511.51V513.22M621.58 511.52V513.54M622.49 511.50V513.66M622.84 511.74V513.46M623.82 510.94V513.80M626.30 511.74V513.83M627.86 511.49V513.81M630.73 511.59V513.57M635.23 511.66V513.24M635.58 511.70V513.25M636.88 510.57V514.59M637.22 511.32V513.64M637.94 511.35V513.45M639.94 511.78V513.61M640.20 511.64V513.60M640.81 511.59V513.40M645.09 511.24V513.45M647.94 509.51V515.46M648.83 510.69V513.76M650.37 511.55V513.77" stroke="#000" stroke-opacity="0.4" stroke-width="0.4"/>
<path d="M554.65 512.5L554.88 508.50L555.12 508.50L555.35 512.5L555.12 515.50L554.88 515.50ZM563.15 512.5L563.38 506.00L563.62 506.00L563.85 512.5L563.62 517.00L563.38 517.00ZM550.20 512.5L550.38 509.50L550.62 509.50L550.80 512.5L550.62 515.50L550.38 515.50ZM604.85 512.5L605.08 505.20L605.32 505.20L605.55 512.5L605.32 514.50L605.08 514.50ZM628.20 512.5L628.38 508.00L628.62 508.00L628.80 512.5L628.62 514.00L628.38 514.00ZM632.50 512.5L632.68 508.50L632.92 508.50L633.10 512.5L632.92 514.50L632.68 514.50ZM641.20 512.5L641.38 509.50L641.62 509.50L641.80 512.5L641.62 514.00L641.38 514.00ZM647.20 512.5L647.38 509.00L647.62 509.00L647.80 512.5L647.62 514.50L647.38 514.50ZM542.40 512.5L542.58 509.50L542.82 509.50L543.00 512.5L542.82 514.50L542.58 514.50Z" fill="#000"/>
<path d="M522.10 511.92V513.04M522.42 511.53V512.99M522.76 511.86V513.48M523.07 511.49V513.12M523.44 511.87V513.21M523.79 512.10V513.00M524.14 511.94V512.89M524.43 512.01V513.23M524.69 511.96V513.09M524.96 511.86V512.91M525.33 512.05V512.83M525.60 511.91V513.27M525.90 511.84V512.89M526.18 511.86V513.28M526.46 512.01V513.30M526.73 511.82V513.28M527.03 511.83V513.13M527.30 511.97V513.25M527.61 511.62V513.76M527.87 511.08V513.52M528.15 511.20V513.67M528.51 511.65V514.26M528.83 510.80V513.69M529.14 511.40V514.35M529.44 510.96V513.61M529.72 511.25V513.32M530.10 511.71V513.14M530.41 511.86V513.29M530.68 511.88V512.92M530.94 511.93V513.18M531.25 511.74V512.94M531.60 511.75V513.09M531.88 511.85V512.89M532.17 512.17V512.94M532.49 511.95V512.94M532.87 511.89V513.28M533.20 511.89V513.11M533.46 511.71V513.24M533.81 511.37V513.15M534.12 511.48V513.63M534.49 511.91V513.42M534.83 511.75V512.85M535.16 511.83V513.05M535.44 512.13V513.03M535.77 512.15V513.21M536.12 512.17V513.28M536.50 511.71V513.23M536.86 512.05V512.96M537.24 511.96V513.20M537.56 511.88V513.25M537.84 511.67V513.63M538.11 511.78V513.62M538.39 512.06V513.09M538.75 511.71V513.22M539.13 511.75V513.27M539.39 511.99V512.98M539.71 511.97V513.24M540.00 512.01V513.08M540.32 511.93V512.95M540.62 512.06V513.11M540.90 511.85V513.02M541.23 511.77V513.28M541.51 511.42V513.42M541.88 511.23V514.32M542.15 510.55V513.90M542.41 511.49V514.84M542.68 510.22V514.99M542.99 510.20V514.32M543.28 511.06V514.02M543.61 511.73V514.07M543.95 511.26V513.64M544.22 511.93V513.17M544.53 511.86V513.12M544.78 512.05V513.21M545.05 512.08V512.96M545.42 512.04V512.95M545.73 511.76V513.30M546.08 511.80V512.94M546.39 511.63V513.48M546.72 511.43V513.59M547.07 511.71V512.95M547.45 511.89V513.17M547.72 512.13V513.24M548.01 511.77V513.00M548.31 511.79V513.08M548.58 512.06V512.92M548.86 511.83V513.11M549.22 511.78V513.27M549.53 512.00V513.09M549.80 511.46V513.30M550.13 511.03V513.49M550.45 511.27V514.30M550.73 511.42V513.49M551.03 511.44V513.33M551.36 512.02V513.46M551.72 510.99V513.67M552.07 511.46V514.37M552.44 511.37V514.42M552.81 510.84V514.57M553.11 510.71V514.75M553.42 511.20V514.39M553.77 511.70V514.02M554.12 511.95V513.07M554.38 511.72V513.05M554.66 511.84V513.22M554.97 512.16V513.07M555.35 511.71V513.28M555.63 512.15V513.00M555.91 511.86V513.04M556.29 512.05V513.25M556.63 512.08V513.20M556.91 511.92V513.16M557.26 511.84V513.01M557.62 511.92V513.13M557.93 512.11V513.05M558.28 512.12V513.09M558.61 511.91V513.41M558.93 511.11V513.63M559.20 511.22V513.61M559.47 512.08V513.46M559.79 511.90V513.21M560.14 512.07V513.29M560.44 511.91V513.25M560.78 511.74V513.28M561.14 511.86V513.22M561.50 511.93V512.86M561.83 512.12V513.21M562.12 511.91V513.00M562.39 511.74V512.89M562.75 512.02V513.04M563.10 511.91V513.11M563.45 512.01V512.98M563.74 511.70V513.19M564.01 511.90V513.14M564.32 511.88V513.23M564.62 511.73V512.89M564.92 512.04V513.07M565.30 511.85V512.98M565.58 512.13V513.22M565.85 511.77V512.91M566.20 512.06V512.88M566.47 511.81V513.18M566.78 511.94V512.99M567.06 511.91V512.98M567.43 511.87V513.16M567.69 511.79V513.25M568.01 511.44V513.62M568.29 511.43V513.20M568.59 511.64V514.04M568.94 511.37V514.63M569.27 510.59V515.17M569.53 510.90V513.73M569.81 510.31V514.21M570.17 510.44V514.13M570.45 511.39V514.60M570.80 510.71V514.53M571.13 511.61V513.78M571.47 511.86V512.96M571.82 511.89V513.01M572.13 511.91V512.95M572.44 511.92V512.96M572.76 511.94V513.20M573.10 511.83V512.92M573.36 512.02V513.23M573.74 511.71V512.96M574.10 511.78V513.11M574.36 511.48V513.44M574.67 511.73V513.58M575.02 512.03V513.23M575.29 512.14V512.99M575.59 512.04V512.90M575.86 511.90V513.02M576.14 511.80V513.06M576.47 511.81V513.15M576.81 511.98V513.28M577.12 511.97V513.05M577.42 511.91V513.17M577.80 511.96V513.04M578.16 511.41V513.09M578.47 511.57V513.57M578.78 511.58V513.29M579.10 512.00V512.92M579.46 511.98V512.95M579.84 511.83V513.13M580.21 511.73V512.94M580.58 511.71V513.10M580.92 511.84V513.05M581.21 512.10V512.87M581.57 511.76V513.22M581.94 511.90V513.44M582.27 511.66V513.54M582.53 510.28V514.26M582.84 509.98V513.86M583.12 510.31V514.77M583.45 509.92V513.87M583.77 510.11V513.98M584.04 511.23V513.79M584.31 510.32V513.69M584.60 510.70V514.46M584.92 511.00V513.21M585.28 512.05V513.10M585.57 512.11V513.00M585.87 511.81V512.98M586.24 512.16V513.14M586.59 512.09V513.19M586.87 511.84V513.15M587.13 511.92V513.13M587.43 511.90V513.28M587.81 511.95V513.64M588.11 511.83V513.59M588.43 511.81V513.20M588.70 511.81V512.98M589.06 511.79V513.06M589.35 512.04V513.25M589.70 511.92V512.85M590.08 511.99V513.15M590.35 511.82V513.17M590.68 511.73V513.17M591.06 511.84V513.21M591.41 511.79V513.10M591.69 511.84V513.19M591.96 511.82V513.16M592.23 511.74V513.19M592.51 511.89V513.27M592.78 511.35V513.25M593.12 511.72V513.13M593.49 511.58V513.00M593.80 512.15V513.25M594.18 511.73V513.24M594.52 511.75V512.83M594.89 511.96V512.98M595.26 511.84V512.91M595.56 511.77V513.10M595.89 511.97V513.30M596.22 511.89V513.14M596.51 511.73V513.06M596.84 511.73V513.27M597.10 511.87V513.13M597.40 512.01V512.89M597.72 511.75V513.48M598.07 511.41V513.43M598.36 511.67V513.42M598.72 511.71V513.13M599.10 511.83V512.88M599.43 511.76V513.05M599.76 511.85V513.25M600.11 511.72V512.89M600.45 511.93V512.86M600.73 512.05V513.10M601.10 511.85V513.21M601.36 511.98V512.91M601.66 511.86V513.02M601.97 511.83V513.11M602.31 511.74V513.15M602.61 511.86V512.93M602.88 511.66V513.49M603.16 511.35V514.08M603.50 510.62V514.04M603.85 510.70V514.10M604.17 511.21V514.14M604.45 511.18V513.70M604.81 511.43V513.81M605.15 511.24V513.76M605.44 511.62V513.39M605.78 511.85V513.05M606.09 511.82V513.25M606.44 512.10V512.89M606.74 511.74V512.87M607.03 512.00V513.08M607.36 512.15V513.14M607.68 511.81V512.85M608.03 511.77V513.26M608.41 512.03V513.12M608.74 511.71V513.04M609.11 511.78V512.94M609.47 512.13V513.23M609.81 512.09V513.12M610.07 511.93V512.97M610.35 512.09V513.04M610.67 511.50V513.20M610.95 511.58V513.69M611.29 511.99V513.55M611.63 512.10V512.90M611.98 511.80V513.04M612.31 511.93V512.98M612.67 511.72V513.22M612.98 512.01V513.09M613.34 511.71V513.05M613.69 511.73V513.29M614.05 511.77V513.08M614.33 511.70V512.97M614.69 511.75V513.04M614.95 511.75V513.13M615.27 511.99V512.99M615.62 511.92V513.07M615.99 511.79V513.18M616.34 511.92V512.88M616.69 512.06V513.25M616.95 511.91V513.63M617.30 511.03V514.44M617.59 510.26V515.02M617.96 511.02V514.90M618.29 509.58V514.69M618.64 509.81V514.94M619.01 510.23V515.32M619.35 510.34V513.92M619.66 510.73V514.74M619.94 510.73V513.76M620.30 511.97V513.68M620.60 512.07V513.28M620.98 511.88V512.88M621.26 511.96V512.90M621.58 511.97V513.03M621.93 511.75V513.25M622.22 512.11V513.18M622.49 511.81V513.26M622.84 512.01V513.04M623.21 511.98V513.17M623.56 511.89V513.19M623.82 511.52V513.38M624.11 511.23V513.69M624.36 511.47V513.33M624.74 511.89V513.26M625.00 511.75V513.01M625.32 511.85V512.87M625.67 512.00V513.22M625.98 512.05V512.93M626.30 511.73V513.18M626.56 511.73V513.22M626.84 511.76V513.09M627.13 511.98V513.18M627.51 511.79V513.26M627.86 512.02V512.92M628.16 511.89V512.99M628.53 511.81V513.09M628.84 511.72V513.23M629.19 511.95V513.04M629.53 511.75V512.96M629.82 512.00V512.95M630.14 511.78V512.94M630.46 511.72V513.06M630.73 511.78V513.21M631.03 512.10V513.04M631.35 511.42V512.98M631.65 510.71V514.03M631.97 510.49V514.22M632.27 510.28V514.22M632.56 511.17V514.08M632.94 510.97V514.85M633.29 510.57V514.22M633.65 510.33V513.35M634.01 510.82V513.51M634.37 511.50V513.17M634.66 512.07V512.93M634.94 511.86V513.21M635.23 512.03V513.08M635.58 511.80V512.89M635.95 511.92V512.84M636.29 511.73V513.02M636.57 511.95V513.30M636.88 511.88V513.41M637.22 511.60V513.05M637.56 511.71V513.09M637.94 512.04V512.86M638.29 511.71V512.91M638.61 511.92V513.10M638.97 511.90V513.23M639.34 511.87V513.18M639.68 511.93V513.18M639.94 511.92V513.01M640.20 511.84V512.87M640.55 511.94V513.10M640.81 511.94V513.09M641.16 512.09V513.23M641.46 512.15V513.23M641.84 511.71V512.98M642.16 511.79V513.06M642.42 511.73V512.87M642.78 512.02V513.01M643.05 511.70V513.57M643.40 511.45V513.48M643.78 511.86V513.47M644.05 511.87V513.43M644.37 511.72V512.85M644.74 511.70V513.01M645.09 511.92V512.87M645.46 511.78V513.01M645.76 511.91V512.98M646.05 511.71V513.49M646.32 511.20V514.07M646.67 510.56V513.65M646.98 511.03V514.10M647.32 510.40V514.09M647.61 510.71V514.76M647.94 510.66V514.18M648.20 511.06V513.90M648.56 511.38V513.64M648.83 511.67V513.35M649.19 511.80V512.98M649.52 511.72V512.91M649.81 511.79V513.19M650.09 511.98V513.17M650.37 512.02V513.04M650.64 512.12V513.20M651.01 511.91V513.29M651.30 511.97V512.86M651.64 511.88V513.12" stroke="#000" stroke-width="0.5"/>
<line x1="522.2" y1="557.5" x2="651.6" y2="557.5" stroke="#333" stroke-width="0.65"/>
<path d="M605.90 556.59V557.95M623.47 556.65V558.24M556.74 556.66V557.82M587.19 556.68V558.02M599.83 557.18V558.02M585.72 556.50V558.20M642.52 556.95V558.58M597.50 556.86V557.90M629.14 556.53V558.06M563.77 557.03V558.02M533.97 556.47V558.11M545.18 556.65V557.89M636.03 557.20V558.22M605.08 556.98V557.91M638.57 556.74V558.36M543.69 557.20V558.59M546.54 557.18V558.45M595.50 557.20V558.22M588.04 556.39V558.25M541.69 556.71V558.47M647.41 557.00V558.24M528.37 556.35V557.87M606.68 556.46V558.15M648.73 556.92V558.23M632.55 557.20V558.54M631.65 557.11V558.36M557.90 557.09V558.18M614.24 556.94V558.02M551.22 556.76V558.25M634.50 556.49V557.80M541.18 557.14V557.97M618.25 556.84V558.40M631.06 556.95V557.80M549.79 556.72V558.24M548.61 556.58V557.81M542.23 556.82V558.27M640.90 556.94V558.49M583.31 557.01V558.65" stroke="#000" stroke-opacity="0.4" stroke-width="0.55"/>
<path d="M522.76 554.58V560.55M524.03 556.85V558.70M533.11 557.04V557.89M549.43 555.91V558.86M561.12 556.11V558.45M564.31 557.18V557.85M576.12 556.93V558.31M578.07 556.19V559.53M578.67 556.72V558.28M591.52 555.97V558.60M592.21 555.83V559.05M612.07 555.84V558.78M613.99 556.94V558.11M622.21 557.02V558.24M627.04 556.00V558.84M640.58 555.08V560.22M642.24 556.93V558.11" stroke="#000" stroke-opacity="0.4" stroke-width="0.4"/>
<path d="M549.20 557.5L549.38 555.00L549.62 555.00L549.80 557.5L549.62 560.50L549.38 560.50ZM562.15 557.5L562.38 552.00L562.62 552.00L562.85 557.5L562.62 562.50L562.38 562.50ZM640.25 557.5L640.48 550.00L640.72 550.00L640.95 557.5L640.72 562.50L640.48 562.50Z" fill="#000"/>
<path d="M522.20 556.72V558.20M522.48 556.27V558.74M522.76 556.22V558.60M523.02 555.66V559.08M523.31 556.15V558.66M523.65 556.89V558.55M524.03 556.93V557.82M524.33 557.27V557.82M533.11 557.16V557.73M533.45 556.76V558.22M533.75 556.73V557.94M534.05 556.67V558.12M534.38 556.49V558.88M534.67 556.31V559.00M535.00 556.76V558.68M535.31 556.40V558.74M535.63 556.70V558.55M535.94 556.92V558.03M536.20 556.95V558.06M536.58 556.93V558.06M536.90 557.21V557.85M548.04 556.99V557.98M548.39 556.71V558.20M548.73 556.55V558.25M549.07 556.35V558.31M549.43 556.10V558.74M549.70 556.61V558.57M550.03 556.65V558.66M550.36 556.80V558.33M550.70 556.89V558.09M551.02 557.14V557.87M560.77 557.11V557.88M561.12 556.48V558.18M561.45 556.15V558.49M561.73 556.59V558.86M562.11 556.66V559.35M562.41 556.13V559.07M562.69 555.65V559.19M563.03 555.66V558.52M563.40 556.45V558.74M563.68 556.57V558.20M563.96 556.73V558.24M564.31 557.26V557.74M576.12 557.00V557.97M576.46 557.01V558.32M576.79 556.63V558.23M577.17 556.69V558.85M577.44 556.14V558.13M577.74 556.08V558.77M578.07 556.16V558.24M578.36 556.81V558.43M578.67 556.83V557.88M579.03 557.08V557.72M590.94 557.13V557.91M591.25 556.58V558.17M591.52 556.73V558.63M591.86 556.49V558.84M592.21 556.52V558.75M592.53 556.60V558.35M592.87 556.45V558.82M593.14 556.54V558.25M593.41 556.83V558.27M593.74 557.13V557.98M611.18 557.08V557.70M611.49 556.80V557.88M611.80 557.03V558.20M612.07 556.76V558.03M612.40 556.37V558.07M612.75 556.39V558.58M613.01 556.36V558.43M613.35 556.88V558.32M613.64 556.90V558.08M613.99 557.04V557.89M622.21 557.15V557.85M622.52 556.89V557.95M622.88 556.66V558.28M623.14 556.91V558.19M623.49 557.13V557.74M625.11 557.09V557.71M625.39 556.90V558.06M625.74 556.84V558.63M626.06 556.22V558.55M626.38 556.04V558.79M626.77 556.24V558.38M627.04 556.53V558.70M627.35 556.77V558.56M627.67 556.67V558.35M628.03 557.04V557.98M638.92 557.15V558.00M639.28 556.58V558.37M639.63 556.51V558.20M639.97 556.80V558.79M640.28 556.68V558.34M640.58 556.54V559.18M640.95 556.05V558.30M641.31 556.41V558.70M641.64 556.63V558.54M641.94 557.03V558.10M642.24 557.11V558.09" stroke="#000" stroke-width="0.5"/>
<rect x="655.3" y="505.4" width="2.5" height="17" fill="#000"/>
<rect x="655.3" y="546" width="2.5" height="17.4" fill="#000"/>
<text x="0" y="0" font-size="9.1" text-anchor="start" fill="#000" transform="translate(661 517) scale(1.1 1)" >2 mV</text>
<text x="0" y="0" font-size="9.1" text-anchor="start" fill="#000" transform="translate(661 558.6) scale(1.1 1)" >2 mV</text>
<rect x="623.3" y="592.7" width="24.9" height="2.3" fill="#000"/>
<text x="0" y="0" font-size="9.1" text-anchor="middle" fill="#000" transform="translate(635.8 588.8) scale(1.1 1)" >0.2 s</text>
<line x1="210.5" y1="655.7" x2="210.5" y2="758.5" stroke="#3a3a3a" stroke-width="1"/>
<line x1="208.3" y1="758.5" x2="210.5" y2="758.5" stroke="#3a3a3a" stroke-width="1"/>
<text x="207.10000000000002" y="761.86" font-size="8.4" text-anchor="end" fill="#000" >0</text>
<line x1="208.3" y1="724.2333333333333" x2="210.5" y2="724.2333333333333" stroke="#3a3a3a" stroke-width="1"/>
<text x="207.10000000000002" y="727.5933333333334" font-size="8.4" text-anchor="end" fill="#000" >5</text>
<line x1="208.3" y1="689.9666666666667" x2="210.5" y2="689.9666666666667" stroke="#3a3a3a" stroke-width="1"/>
<text x="207.10000000000002" y="693.3266666666667" font-size="8.4" text-anchor="end" fill="#000" >10</text>
<line x1="208.3" y1="655.7" x2="210.5" y2="655.7" stroke="#3a3a3a" stroke-width="1"/>
<text x="207.10000000000002" y="659.0600000000001" font-size="8.4" text-anchor="end" fill="#000" >15</text>
<line x1="208.3" y1="758.5" x2="276.5" y2="758.5" stroke="#3a3a3a" stroke-width="1"/>
<line x1="227.60000000000002" y1="758.5" x2="227.60000000000002" y2="760.5" stroke="#3a3a3a" stroke-width="1"/>
<line x1="260.15" y1="758.5" x2="260.15" y2="760.5" stroke="#3a3a3a" stroke-width="1"/>
<rect x="218.4" y="699.2186666666666" width="18.400000000000006" height="59.28133333333335" fill="#80ffff" stroke="#505050" stroke-width="0.9"/>
<rect x="251" y="697.8480000000001" width="18.30000000000001" height="60.65199999999993" fill="#80ffff" stroke="#505050" stroke-width="0.9"/>
<line x1="227.8" y1="691.4" x2="227.8" y2="699.3" stroke="#333" stroke-width="0.8"/>
<line x1="226.60000000000002" y1="691.4" x2="229.0" y2="691.4" stroke="#333" stroke-width="0.8"/>
<line x1="260.5" y1="679.3" x2="260.5" y2="698" stroke="#333" stroke-width="0.8"/>
<line x1="259.3" y1="679.3" x2="261.7" y2="679.3" stroke="#333" stroke-width="0.8"/>
<circle cx="226" cy="689.2" r="1.15" fill="#000"/>
<circle cx="228" cy="694.9" r="1.15" fill="#000"/>
<circle cx="230" cy="700.6" r="1.15" fill="#000"/>
<circle cx="224.7" cy="703.7" r="1.15" fill="#000"/>
<circle cx="225.8" cy="702.9" r="1.15" fill="#000"/>
<circle cx="226.9" cy="702" r="1.15" fill="#000"/>
<circle cx="257.9" cy="683.1" r="1.15" fill="#000"/>
<circle cx="260.5" cy="688.9" r="1.15" fill="#000"/>
<circle cx="261.2" cy="690.8" r="1.15" fill="#000"/>
<circle cx="261.4" cy="703.7" r="1.15" fill="#000"/>
<circle cx="256.8" cy="707.8" r="1.15" fill="#000"/>
<circle cx="258.1" cy="714.6" r="1.15" fill="#000"/>
<line x1="227.2" y1="665.3" x2="259.7" y2="665.3" stroke="#333" stroke-width="1"/>
<text x="243.45" y="662.3" font-size="8.5" text-anchor="middle" fill="#000" >n.s.</text>
<text x="0" y="0" font-size="8.6" text-anchor="start" fill="#000" transform="translate(182.3 751.6) rotate(-90)">Frequency of</text>
<text x="0" y="0" font-size="8.6" text-anchor="start" fill="#000" transform="translate(191.5 751.6) rotate(-90)">masticatory rhythm (Hz)</text>
<text x="0" y="0" font-size="8.4" text-anchor="end" fill="#000" transform="translate(230.50000000000003 764.9) rotate(-58)">Incision</text>
<text x="0" y="0" font-size="8.4" text-anchor="end" fill="#000" transform="translate(262.54999999999995 764.9) rotate(-58)">Chewing</text>
<line x1="384.5" y1="654.2" x2="384.5" y2="756.5" stroke="#3a3a3a" stroke-width="1"/>
<line x1="382.3" y1="756.5" x2="384.5" y2="756.5" stroke="#3a3a3a" stroke-width="1"/>
<text x="381.1" y="759.82" font-size="8.3" text-anchor="end" fill="#000" >0</text>
<line x1="382.3" y1="739.45" x2="384.5" y2="739.45" stroke="#3a3a3a" stroke-width="1"/>
<text x="381.1" y="742.7700000000001" font-size="8.3" text-anchor="end" fill="#000" >5</text>
<line x1="382.3" y1="722.4" x2="384.5" y2="722.4" stroke="#3a3a3a" stroke-width="1"/>
<text x="381.1" y="725.72" font-size="8.3" text-anchor="end" fill="#000" >10</text>
<line x1="382.3" y1="705.35" x2="384.5" y2="705.35" stroke="#3a3a3a" stroke-width="1"/>
<text x="381.1" y="708.6700000000001" font-size="8.3" text-anchor="end" fill="#000" >15</text>
<line x1="382.3" y1="688.3000000000001" x2="384.5" y2="688.3000000000001" stroke="#3a3a3a" stroke-width="1"/>
<text x="381.1" y="691.6200000000001" font-size="8.3" text-anchor="end" fill="#000" >20</text>
<line x1="382.3" y1="671.25" x2="384.5" y2="671.25" stroke="#3a3a3a" stroke-width="1"/>
<text x="381.1" y="674.57" font-size="8.3" text-anchor="end" fill="#000" >25</text>
<line x1="382.3" y1="654.2" x2="384.5" y2="654.2" stroke="#3a3a3a" stroke-width="1"/>
<text x="381.1" y="657.5200000000001" font-size="8.3" text-anchor="end" fill="#000" >30</text>
<line x1="382.3" y1="756.5" x2="450.3" y2="756.5" stroke="#3a3a3a" stroke-width="1"/>
<line x1="401.45" y1="756.5" x2="401.45" y2="758.5" stroke="#3a3a3a" stroke-width="1"/>
<line x1="434.0" y1="756.5" x2="434.0" y2="758.5" stroke="#3a3a3a" stroke-width="1"/>
<rect x="392.2" y="711.8290000000001" width="18.5" height="44.670999999999935" fill="#80ffff" stroke="#505050" stroke-width="0.9"/>
<rect x="424.8" y="721.2065" width="18.399999999999977" height="35.293499999999995" fill="#80ffff" stroke="#505050" stroke-width="0.9"/>
<line x1="401.4" y1="693.4" x2="401.4" y2="712.1" stroke="#333" stroke-width="0.8"/>
<line x1="400.2" y1="693.4" x2="402.59999999999997" y2="693.4" stroke="#333" stroke-width="0.8"/>
<line x1="434.1" y1="705.6" x2="434.1" y2="721.4" stroke="#333" stroke-width="0.8"/>
<line x1="432.90000000000003" y1="705.6" x2="435.3" y2="705.6" stroke="#333" stroke-width="0.8"/>
<circle cx="401.8" cy="684" r="1.15" fill="#000"/>
<circle cx="398.4" cy="689.9" r="1.15" fill="#000"/>
<circle cx="400.2" cy="713.7" r="1.15" fill="#000"/>
<circle cx="401" cy="713.1" r="1.15" fill="#000"/>
<circle cx="400.4" cy="725.6" r="1.15" fill="#000"/>
<circle cx="403.8" cy="725.6" r="1.15" fill="#000"/>
<circle cx="399.3" cy="732.1" r="1.15" fill="#000"/>
<circle cx="434.9" cy="700.6" r="1.15" fill="#000"/>
<circle cx="434.9" cy="706" r="1.15" fill="#000"/>
<circle cx="434.1" cy="719.8" r="1.15" fill="#000"/>
<circle cx="431.7" cy="724" r="1.15" fill="#000"/>
<circle cx="431.9" cy="737.1" r="1.15" fill="#000"/>
<circle cx="430.8" cy="741.2" r="1.15" fill="#000"/>
<line x1="402.8" y1="663.4" x2="435" y2="663.4" stroke="#333" stroke-width="1"/>
<text x="418.9" y="660.4" font-size="8.5" text-anchor="middle" fill="#000" >n.s.</text>
<text x="0" y="0" font-size="8.6" text-anchor="start" fill="#000" transform="translate(366 752.2) rotate(-90)">High frequency period (s)</text>
<text x="0" y="0" font-size="8.4" text-anchor="end" fill="#000" transform="translate(404.34999999999997 762.9) rotate(-58)">Incision</text>
<text x="0" y="0" font-size="8.4" text-anchor="end" fill="#000" transform="translate(436.4 762.9) rotate(-58)">Chewing</text>
<line x1="108.5" y1="831.2" x2="108.5" y2="933.5" stroke="#3a3a3a" stroke-width="1"/>
<line x1="106.3" y1="933.5" x2="108.5" y2="933.5" stroke="#3a3a3a" stroke-width="1"/>
<text x="105.1" y="936.82" font-size="8.3" text-anchor="end" fill="#000" >0.0</text>
<line x1="106.3" y1="899.4" x2="108.5" y2="899.4" stroke="#3a3a3a" stroke-width="1"/>
<text x="105.1" y="902.72" font-size="8.3" text-anchor="end" fill="#000" >0.5</text>
<line x1="106.3" y1="865.3000000000001" x2="108.5" y2="865.3000000000001" stroke="#3a3a3a" stroke-width="1"/>
<text x="105.1" y="868.6200000000001" font-size="8.3" text-anchor="end" fill="#000" >1.0</text>
<line x1="106.3" y1="831.2" x2="108.5" y2="831.2" stroke="#3a3a3a" stroke-width="1"/>
<text x="105.1" y="834.5200000000001" font-size="8.3" text-anchor="end" fill="#000" >1.5</text>
<line x1="106.3" y1="933.5" x2="174.3" y2="933.5" stroke="#3a3a3a" stroke-width="1"/>
<line x1="125.25" y1="933.5" x2="125.25" y2="935.5" stroke="#3a3a3a" stroke-width="1"/>
<line x1="157.45" y1="933.5" x2="157.45" y2="935.5" stroke="#3a3a3a" stroke-width="1"/>
<rect x="116" y="918.2914" width="18.5" height="15.208600000000047" fill="#80ffff" stroke="#505050" stroke-width="0.9"/>
<rect x="148.1" y="921.224" width="18.700000000000017" height="12.275999999999954" fill="#80ffff" stroke="#505050" stroke-width="0.9"/>
<line x1="125" y1="912.3" x2="125" y2="918.3" stroke="#333" stroke-width="0.8"/>
<line x1="123.8" y1="912.3" x2="126.2" y2="912.3" stroke="#333" stroke-width="0.8"/>
<line x1="157.7" y1="913.5" x2="157.7" y2="921.2" stroke="#333" stroke-width="0.8"/>
<line x1="156.5" y1="913.5" x2="158.89999999999998" y2="913.5" stroke="#333" stroke-width="0.8"/>
<circle cx="125" cy="912.7" r="1.15" fill="#000"/>
<circle cx="124.4" cy="915.3" r="1.15" fill="#000"/>
<circle cx="123.5" cy="917.1" r="1.15" fill="#000"/>
<circle cx="127.3" cy="918.9" r="1.15" fill="#000"/>
<circle cx="122" cy="929" r="1.15" fill="#000"/>
<circle cx="157.9" cy="909" r="1.15" fill="#000"/>
<circle cx="155.3" cy="915.1" r="1.15" fill="#000"/>
<circle cx="154.1" cy="923" r="1.15" fill="#000"/>
<circle cx="159.1" cy="926" r="1.15" fill="#000"/>
<circle cx="155.9" cy="927.4" r="1.15" fill="#000"/>
<circle cx="158.5" cy="929" r="1.15" fill="#000"/>
<line x1="125.3" y1="842.5" x2="158" y2="842.5" stroke="#333" stroke-width="1"/>
<text x="141.65" y="839.5" font-size="8.5" text-anchor="middle" fill="#000" >n.s.</text>
<text x="0" y="0" font-size="8.6" text-anchor="start" fill="#000" transform="translate(77.8 928.9) rotate(-90)">RMS peak amplitude of</text>
<text x="0" y="0" font-size="8.6" text-anchor="start" fill="#000" transform="translate(87.3 928.9) rotate(-90)">masseter muscles&#160; (mV)</text>
<text x="0" y="0" font-size="8.4" text-anchor="end" fill="#000" transform="translate(128.15 939.9) rotate(-58)">Incision</text>
<text x="0" y="0" font-size="8.4" text-anchor="end" fill="#000" transform="translate(159.85 939.9) rotate(-58)">Chewing</text>
<line x1="252.5" y1="831.2" x2="252.5" y2="933.5" stroke="#3a3a3a" stroke-width="1"/>
<line x1="250.3" y1="933.5" x2="252.5" y2="933.5" stroke="#3a3a3a" stroke-width="1"/>
<text x="249.10000000000002" y="936.82" font-size="8.3" text-anchor="end" fill="#000" >0</text>
<line x1="250.3" y1="907.9250000000001" x2="252.5" y2="907.9250000000001" stroke="#3a3a3a" stroke-width="1"/>
<text x="249.10000000000002" y="911.2450000000001" font-size="8.3" text-anchor="end" fill="#000" >50</text>
<line x1="250.3" y1="882.35" x2="252.5" y2="882.35" stroke="#3a3a3a" stroke-width="1"/>
<text x="249.10000000000002" y="885.6700000000001" font-size="8.3" text-anchor="end" fill="#000" >100</text>
<line x1="250.3" y1="856.7750000000001" x2="252.5" y2="856.7750000000001" stroke="#3a3a3a" stroke-width="1"/>
<text x="249.10000000000002" y="860.0950000000001" font-size="8.3" text-anchor="end" fill="#000" >150</text>
<line x1="250.3" y1="831.2" x2="252.5" y2="831.2" stroke="#3a3a3a" stroke-width="1"/>
<text x="249.10000000000002" y="834.5200000000001" font-size="8.3" text-anchor="end" fill="#000" >200</text>
<line x1="250.3" y1="933.5" x2="318.7" y2="933.5" stroke="#3a3a3a" stroke-width="1"/>
<line x1="269.7" y1="933.5" x2="269.7" y2="935.5" stroke="#3a3a3a" stroke-width="1"/>
<line x1="302.5" y1="933.5" x2="302.5" y2="935.5" stroke="#3a3a3a" stroke-width="1"/>
<rect x="260.5" y="902.8100000000001" width="18.399999999999977" height="30.68999999999994" fill="#80ffff" stroke="#505050" stroke-width="0.9"/>
<rect x="293.4" y="894.88175" width="18.200000000000045" height="38.61824999999999" fill="#80ffff" stroke="#505050" stroke-width="0.9"/>
<line x1="269.5" y1="896" x2="269.5" y2="903.2" stroke="#333" stroke-width="0.8"/>
<line x1="268.3" y1="896" x2="270.7" y2="896" stroke="#333" stroke-width="0.8"/>
<line x1="302.7" y1="886.2" x2="302.7" y2="895.3" stroke="#333" stroke-width="0.8"/>
<line x1="301.5" y1="886.2" x2="303.9" y2="886.2" stroke="#333" stroke-width="0.8"/>
<circle cx="269.3" cy="897.5" r="1.15" fill="#000"/>
<circle cx="270.2" cy="899" r="1.15" fill="#000"/>
<circle cx="269.5" cy="901" r="1.15" fill="#000"/>
<circle cx="268.8" cy="903" r="1.15" fill="#000"/>
<circle cx="270" cy="904.2" r="1.15" fill="#000"/>
<circle cx="272.1" cy="915.9" r="1.15" fill="#000"/>
<circle cx="302.7" cy="886.2" r="1.15" fill="#000"/>
<circle cx="298.8" cy="888.8" r="1.15" fill="#000"/>
<circle cx="299.9" cy="896" r="1.15" fill="#000"/>
<circle cx="303.8" cy="896" r="1.15" fill="#000"/>
<circle cx="300" cy="899" r="1.15" fill="#000"/>
<circle cx="303.2" cy="905.8" r="1.15" fill="#000"/>
<line x1="269.7" y1="842.5" x2="302.1" y2="842.5" stroke="#333" stroke-width="1"/>
<text x="285.9" y="839.5" font-size="8.5" text-anchor="middle" fill="#000" >n.s.</text>
<text x="0" y="0" font-size="8.6" text-anchor="start" fill="#000" transform="translate(219.3 922.9) rotate(-90)">Duration of masseter</text>
<text x="0" y="0" font-size="8.6" text-anchor="start" fill="#000" transform="translate(227.6 922.9) rotate(-90)">EMG activity (ms)</text>
<text x="0" y="0" font-size="8.4" text-anchor="end" fill="#000" transform="translate(272.59999999999997 939.9) rotate(-58)">Incision</text>
<text x="0" y="0" font-size="8.4" text-anchor="end" fill="#000" transform="translate(304.9 939.9) rotate(-58)">Chewing</text>
<line x1="392.5" y1="831.2" x2="392.5" y2="933.5" stroke="#3a3a3a" stroke-width="1"/>
<line x1="390.3" y1="933.5" x2="392.5" y2="933.5" stroke="#3a3a3a" stroke-width="1"/>
<text x="389.1" y="936.82" font-size="8.3" text-anchor="end" fill="#000" >0.0</text>
<line x1="390.3" y1="899.4" x2="392.5" y2="899.4" stroke="#3a3a3a" stroke-width="1"/>
<text x="389.1" y="902.72" font-size="8.3" text-anchor="end" fill="#000" >0.5</text>
<line x1="390.3" y1="865.3000000000001" x2="392.5" y2="865.3000000000001" stroke="#3a3a3a" stroke-width="1"/>
<text x="389.1" y="868.6200000000001" font-size="8.3" text-anchor="end" fill="#000" >1.0</text>
<line x1="390.3" y1="831.2" x2="392.5" y2="831.2" stroke="#3a3a3a" stroke-width="1"/>
<text x="389.1" y="834.5200000000001" font-size="8.3" text-anchor="end" fill="#000" >1.5</text>
<line x1="390.3" y1="933.5" x2="457.7" y2="933.5" stroke="#3a3a3a" stroke-width="1"/>
<line x1="408.7" y1="933.5" x2="408.7" y2="935.5" stroke="#3a3a3a" stroke-width="1"/>
<line x1="441.4" y1="933.5" x2="441.4" y2="935.5" stroke="#3a3a3a" stroke-width="1"/>
<rect x="399.5" y="913.722" width="18.399999999999977" height="19.77800000000002" fill="#80ffff" stroke="#505050" stroke-width="0.9"/>
<rect x="432.2" y="912.3580000000001" width="18.400000000000034" height="21.14199999999994" fill="#80ffff" stroke="#505050" stroke-width="0.9"/>
<line x1="408.8" y1="903.4" x2="408.8" y2="913.9" stroke="#333" stroke-width="0.8"/>
<line x1="407.6" y1="903.4" x2="410.0" y2="903.4" stroke="#333" stroke-width="0.8"/>
<line x1="441.5" y1="901.3" x2="441.5" y2="912.6" stroke="#333" stroke-width="0.8"/>
<line x1="440.3" y1="901.3" x2="442.7" y2="901.3" stroke="#333" stroke-width="0.8"/>
<circle cx="408.2" cy="893.7" r="1.15" fill="#000"/>
<circle cx="409.1" cy="905.2" r="1.15" fill="#000"/>
<circle cx="406.6" cy="913.2" r="1.15" fill="#000"/>
<circle cx="406.2" cy="920.3" r="1.15" fill="#000"/>
<circle cx="407.6" cy="921" r="1.15" fill="#000"/>
<circle cx="410.9" cy="922.8" r="1.15" fill="#000"/>
<circle cx="439.1" cy="901" r="1.15" fill="#000"/>
<circle cx="437.9" cy="903.4" r="1.15" fill="#000"/>
<circle cx="441.8" cy="910" r="1.15" fill="#000"/>
<circle cx="439.3" cy="921" r="1.15" fill="#000"/>
<circle cx="442.7" cy="928.1" r="1.15" fill="#000"/>
<line x1="409.7" y1="842.5" x2="442.1" y2="842.5" stroke="#333" stroke-width="1"/>
<text x="425.9" y="839.5" font-size="8.5" text-anchor="middle" fill="#000" >n.s.</text>
<text x="0" y="0" font-size="8.6" text-anchor="start" fill="#000" transform="translate(361.5 927.9) rotate(-90)">RMS peak amplitude of</text>
<text x="0" y="0" font-size="8.6" text-anchor="start" fill="#000" transform="translate(370.6 927.9) rotate(-90)">digastric muscles (mV)</text>
<text x="0" y="0" font-size="8.4" text-anchor="end" fill="#000" transform="translate(411.59999999999997 939.9) rotate(-58)">Incision</text>
<text x="0" y="0" font-size="8.4" text-anchor="end" fill="#000" transform="translate(443.79999999999995 939.9) rotate(-58)">Chewing</text>
<line x1="537.5" y1="831.2" x2="537.5" y2="933.5" stroke="#3a3a3a" stroke-width="1"/>
<line x1="535.3" y1="933.5" x2="537.5" y2="933.5" stroke="#3a3a3a" stroke-width="1"/>
<text x="534.0999999999999" y="936.82" font-size="8.3" text-anchor="end" fill="#000" >0</text>
<line x1="535.3" y1="907.9250000000001" x2="537.5" y2="907.9250000000001" stroke="#3a3a3a" stroke-width="1"/>
<text x="534.0999999999999" y="911.2450000000001" font-size="8.3" text-anchor="end" fill="#000" >50</text>
<line x1="535.3" y1="882.35" x2="537.5" y2="882.35" stroke="#3a3a3a" stroke-width="1"/>
<text x="534.0999999999999" y="885.6700000000001" font-size="8.3" text-anchor="end" fill="#000" >100</text>
<line x1="535.3" y1="856.7750000000001" x2="537.5" y2="856.7750000000001" stroke="#3a3a3a" stroke-width="1"/>
<text x="534.0999999999999" y="860.0950000000001" font-size="8.3" text-anchor="end" fill="#000" >150</text>
<line x1="535.3" y1="831.2" x2="537.5" y2="831.2" stroke="#3a3a3a" stroke-width="1"/>
<text x="534.0999999999999" y="834.5200000000001" font-size="8.3" text-anchor="end" fill="#000" >200</text>
<line x1="535.3" y1="933.5" x2="602.7" y2="933.5" stroke="#3a3a3a" stroke-width="1"/>
<line x1="553.7" y1="933.5" x2="553.7" y2="935.5" stroke="#3a3a3a" stroke-width="1"/>
<line x1="586.4000000000001" y1="933.5" x2="586.4000000000001" y2="935.5" stroke="#3a3a3a" stroke-width="1"/>
<rect x="544.5" y="891.8639000000001" width="18.399999999999977" height="41.63609999999994" fill="#80ffff" stroke="#505050" stroke-width="0.9"/>
<rect x="577.2" y="885.9305" width="18.399999999999977" height="47.56949999999995" fill="#80ffff" stroke="#505050" stroke-width="0.9"/>
<line x1="553.8" y1="875.3" x2="553.8" y2="892.1" stroke="#333" stroke-width="0.8"/>
<line x1="552.5999999999999" y1="875.3" x2="555.0" y2="875.3" stroke="#333" stroke-width="0.8"/>
<line x1="586.5" y1="868.4" x2="586.5" y2="886.2" stroke="#333" stroke-width="0.8"/>
<line x1="585.3" y1="868.4" x2="587.7" y2="868.4" stroke="#333" stroke-width="0.8"/>
<circle cx="551.6" cy="869.8" r="1.15" fill="#000"/>
<circle cx="552.8" cy="878.5" r="1.15" fill="#000"/>
<circle cx="552.3" cy="889.7" r="1.15" fill="#000"/>
<circle cx="553.8" cy="889.4" r="1.15" fill="#000"/>
<circle cx="550.8" cy="910.8" r="1.15" fill="#000"/>
<circle cx="555.9" cy="916.2" r="1.15" fill="#000"/>
<circle cx="586.2" cy="854.7" r="1.15" fill="#000"/>
<circle cx="584.1" cy="890.9" r="1.15" fill="#000"/>
<circle cx="582.9" cy="893.9" r="1.15" fill="#000"/>
<circle cx="587.7" cy="899.6" r="1.15" fill="#000"/>
<line x1="554.4" y1="842.5" x2="586.8" y2="842.5" stroke="#333" stroke-width="1"/>
<text x="570.5999999999999" y="839.5" font-size="8.5" text-anchor="middle" fill="#000" >n.s.</text>
<text x="0" y="0" font-size="8.6" text-anchor="start" fill="#000" transform="translate(504.5 919.8) rotate(-90)">Duration of digastric</text>
<text x="0" y="0" font-size="8.6" text-anchor="start" fill="#000" transform="translate(512.6 919.8) rotate(-90)">EMG activity (ms)</text>
<text x="0" y="0" font-size="8.4" text-anchor="end" fill="#000" transform="translate(556.6 939.9) rotate(-58)">Incision</text>
<text x="0" y="0" font-size="8.4" text-anchor="end" fill="#000" transform="translate(588.8000000000001 939.9) rotate(-58)">Chewing</text>
</svg>
</body></html>
